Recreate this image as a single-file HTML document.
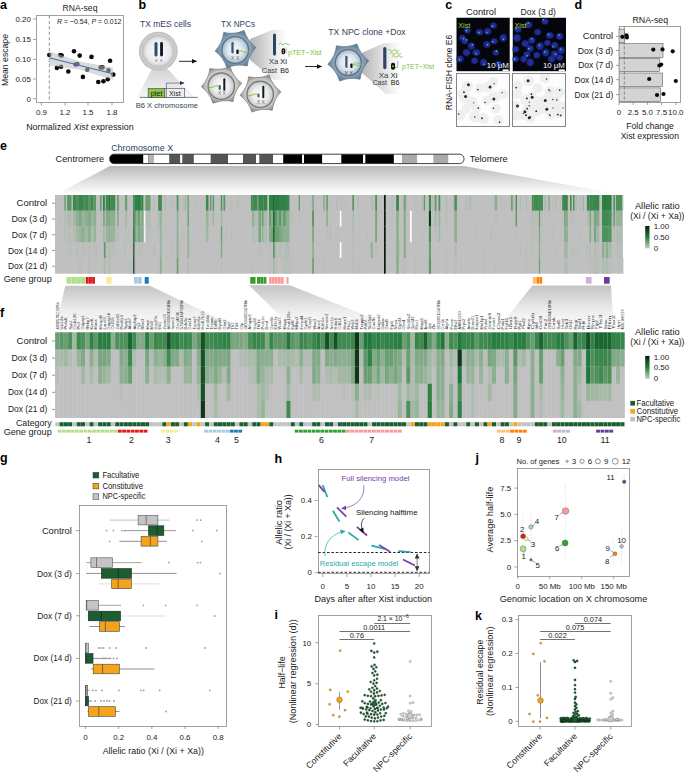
<!DOCTYPE html>
<html><head><meta charset="utf-8"><title>Figure</title>
<style>html,body{margin:0;padding:0;background:#fff;} svg{display:block;} text{font-family:"Liberation Sans", sans-serif;}</style>
</head><body>
<svg width="685" height="773" viewBox="0 0 685 773" font-family='"Liberation Sans", sans-serif'>
<rect width="685" height="773" fill="#fff"/>
<text x="0.0" y="8.9" font-size="12.5" fill="#000" font-weight="bold">a</text>
<text x="80.0" y="10.6" font-size="8.6" text-anchor="middle" fill="#1a1a1a">RNA-seq</text>
<rect x="36.50" y="15.50" width="87.00" height="87.00" fill="none" stroke="#8a8a8a" stroke-width="0.8"/>
<line x1="33.00" y1="19.00" x2="36.00" y2="19.00" stroke="#666" stroke-width="0.6"/>
<text x="30.8" y="21.8" font-size="7.9" text-anchor="end" fill="#1a1a1a">0.20</text>
<line x1="33.00" y1="39.50" x2="36.00" y2="39.50" stroke="#666" stroke-width="0.6"/>
<text x="30.8" y="42.3" font-size="7.9" text-anchor="end" fill="#1a1a1a">0.15</text>
<line x1="33.00" y1="59.40" x2="36.00" y2="59.40" stroke="#666" stroke-width="0.6"/>
<text x="30.8" y="62.2" font-size="7.9" text-anchor="end" fill="#1a1a1a">0.10</text>
<line x1="33.00" y1="79.00" x2="36.00" y2="79.00" stroke="#666" stroke-width="0.6"/>
<text x="30.8" y="81.8" font-size="7.9" text-anchor="end" fill="#1a1a1a">0.05</text>
<line x1="33.00" y1="98.70" x2="36.00" y2="98.70" stroke="#666" stroke-width="0.6"/>
<text x="30.8" y="101.5" font-size="7.9" text-anchor="end" fill="#1a1a1a">0</text>
<line x1="41.40" y1="102.50" x2="41.40" y2="105.50" stroke="#666" stroke-width="0.6"/>
<text x="41.4" y="114.6" font-size="7.9" text-anchor="middle" fill="#1a1a1a">0.9</text>
<line x1="65.00" y1="102.50" x2="65.00" y2="105.50" stroke="#666" stroke-width="0.6"/>
<text x="65.0" y="114.6" font-size="7.9" text-anchor="middle" fill="#1a1a1a">1.2</text>
<line x1="88.00" y1="102.50" x2="88.00" y2="105.50" stroke="#666" stroke-width="0.6"/>
<text x="88.0" y="114.6" font-size="7.9" text-anchor="middle" fill="#1a1a1a">1.5</text>
<line x1="112.00" y1="102.50" x2="112.00" y2="105.50" stroke="#666" stroke-width="0.6"/>
<text x="112.0" y="114.6" font-size="7.9" text-anchor="middle" fill="#1a1a1a">1.8</text>
<line x1="49.30" y1="15.50" x2="49.30" y2="102.30" stroke="#777" stroke-width="0.8" stroke-dasharray="3.2,2.2"/>
<circle cx="49.30" cy="55.00" r="2.30" fill="#0a0a0a"/>
<circle cx="56.90" cy="67.90" r="2.30" fill="#0a0a0a"/>
<circle cx="60.30" cy="55.00" r="2.30" fill="#0a0a0a"/>
<circle cx="61.70" cy="55.60" r="2.30" fill="#0a0a0a"/>
<circle cx="61.10" cy="66.80" r="2.30" fill="#0a0a0a"/>
<circle cx="68.30" cy="71.50" r="2.30" fill="#0a0a0a"/>
<circle cx="74.00" cy="51.20" r="2.30" fill="#0a0a0a"/>
<circle cx="79.70" cy="55.60" r="2.30" fill="#0a0a0a"/>
<circle cx="75.50" cy="64.50" r="2.30" fill="#0a0a0a"/>
<circle cx="77.40" cy="64.10" r="2.30" fill="#0a0a0a"/>
<circle cx="82.90" cy="76.90" r="2.30" fill="#0a0a0a"/>
<circle cx="87.30" cy="69.80" r="2.30" fill="#0a0a0a"/>
<circle cx="91.50" cy="56.90" r="2.30" fill="#0a0a0a"/>
<circle cx="98.30" cy="82.00" r="2.30" fill="#0a0a0a"/>
<circle cx="100.60" cy="67.40" r="2.30" fill="#0a0a0a"/>
<circle cx="102.50" cy="67.40" r="2.30" fill="#0a0a0a"/>
<circle cx="103.40" cy="81.20" r="2.30" fill="#0a0a0a"/>
<circle cx="107.80" cy="79.30" r="2.30" fill="#0a0a0a"/>
<circle cx="108.50" cy="70.20" r="2.30" fill="#0a0a0a"/>
<circle cx="110.10" cy="60.70" r="2.30" fill="#0a0a0a"/>
<circle cx="113.30" cy="74.60" r="2.30" fill="#0a0a0a"/>
<path d="M49.3,51.2 L80,61.5 L113,67.4 L113,79.7 L80,69.8 L49.3,65.5 Z" fill="#bdbdbd" opacity="0.55"/>
<line x1="49.30" y1="57.80" x2="113.00" y2="73.80" stroke="#3c64b4" stroke-width="1.0"/>
<text x="57" y="24" font-size="7.9" textLength="64.4" lengthAdjust="spacingAndGlyphs" fill="#1a1a1a"><tspan font-style="italic">R</tspan> = −0.54, <tspan font-style="italic">P</tspan> = 0.012</text>
<text x="7.6" y="60.0" font-size="8.8" text-anchor="middle" fill="#1a1a1a" textLength="52.0" lengthAdjust="spacingAndGlyphs" transform="rotate(-90 7.6 60.0)">Mean escape</text>
<text x="79.9" y="129.5" font-size="8.8" text-anchor="middle" textLength="107.4" lengthAdjust="spacingAndGlyphs" fill="#1a1a1a">Normalized <tspan font-style="italic">Xist</tspan> expression</text>
<defs>
<radialGradient id="gblue" cx="0.5" cy="0.5" r="0.5"><stop offset="0.55" stop-color="#a9bdcc"/><stop offset="0.8" stop-color="#7f98ae"/><stop offset="1" stop-color="#5f7d95"/></radialGradient>
<radialGradient id="nblue" cx="0.5" cy="0.5" r="0.5"><stop offset="0" stop-color="#f6f8fa"/><stop offset="0.6" stop-color="#dde6ed"/><stop offset="1" stop-color="#a4b7c6"/></radialGradient>
<radialGradient id="ggray" cx="0.5" cy="0.5" r="0.5"><stop offset="0.55" stop-color="#dcdcdc"/><stop offset="0.8" stop-color="#c2c2c2"/><stop offset="1" stop-color="#8e8e8e"/></radialGradient>
<radialGradient id="ngray" cx="0.5" cy="0.5" r="0.5"><stop offset="0" stop-color="#fcfcfc"/><stop offset="0.6" stop-color="#ececec"/><stop offset="1" stop-color="#c6c6c6"/></radialGradient>
<radialGradient id="mes" cx="0.5" cy="0.5" r="0.5"><stop offset="0" stop-color="#fafafa"/><stop offset="0.6" stop-color="#ebebeb"/><stop offset="0.8" stop-color="#c8c8c8"/><stop offset="0.86" stop-color="#cfcfcf"/><stop offset="1" stop-color="#bdbdbd"/></radialGradient>
<linearGradient id="fan" x1="0" y1="0" x2="0" y2="1"><stop offset="0" stop-color="#d0d0d0"/><stop offset="1" stop-color="#f6f6f6"/></linearGradient>
<linearGradient id="fanh" x1="0" y1="0" x2="1" y2="0"><stop offset="0" stop-color="#b4b4b4"/><stop offset="0.5" stop-color="#dedede"/><stop offset="0.85" stop-color="#f8f8f8"/><stop offset="1" stop-color="#ffffff"/></linearGradient>
<marker id="ah" markerWidth="6" markerHeight="6" refX="5" refY="3" orient="auto" markerUnits="userSpaceOnUse"><path d="M0,0.5 L5.5,3 L0,5.5 Z" fill="#111"/></marker>
<marker id="ah2" markerWidth="5" markerHeight="5" refX="4" refY="2.5" orient="auto" markerUnits="userSpaceOnUse"><path d="M0,0.5 L4.5,2.5 L0,4.5 Z" fill="#333"/></marker>
</defs>
<text x="138.5" y="9.2" font-size="12.5" fill="#000" font-weight="bold">b</text>
<text x="140.0" y="27.0" font-size="8.8" fill="#33425a" textLength="51.0" lengthAdjust="spacingAndGlyphs">TX mES cells</text>
<path d="M153.4,66 L137,97.4 L196,97.4 L185,88 L165,66 Z" fill="url(#fan)"/>
<circle cx="158.30" cy="51.20" r="19.40" fill="url(#mes)"/>
<circle cx="158.30" cy="51.20" r="15.80" fill="none" stroke="#bdbdbd" stroke-width="0.8"/>
<rect x="154.5" y="42" width="3" height="14.5" rx="1.5" fill="#2f4d66"/>
<rect x="160.1" y="42" width="2.9" height="14.5" rx="1.45" fill="#111b2e"/>
<text x="156.2" y="61.6" font-size="4.8" text-anchor="middle" fill="#667">x</text>
<text x="161.3" y="61.6" font-size="4.8" text-anchor="middle" fill="#667">x</text>
<line x1="139.90" y1="97.40" x2="197.80" y2="97.40" stroke="#3a4862" stroke-width="0.7"/>
<rect x="148.10" y="88.40" width="16.70" height="9.00" fill="#8cc63e" stroke="#3a4862" stroke-width="0.6"/>
<rect x="164.80" y="88.40" width="19.90" height="9.00" fill="#f0f0f0" stroke="#3a4862" stroke-width="0.6"/>
<text x="156.5" y="95.8" font-size="7.0" text-anchor="middle" fill="#1a1a1a">ptet</text>
<text x="174.8" y="95.8" font-size="7.0" text-anchor="middle" fill="#1a1a1a">Xist</text>
<path d="M166.4,97.4 L166.4,83.1 L184,83.1" fill="none" stroke="#3a4862" stroke-width="0.6" marker-end="url(#ah2)"/>
<text x="135.7" y="107.8" font-size="7.3" fill="#33425a" textLength="62.3" lengthAdjust="spacingAndGlyphs">B6 X chromosome</text>
<line x1="179.00" y1="61.30" x2="196.50" y2="61.30" stroke="#111" stroke-width="0.9" marker-end="url(#ah)"/>
<text x="221.0" y="27.0" font-size="8.8" fill="#33425a" textLength="34.0" lengthAdjust="spacingAndGlyphs">TX NPCs</text>
<path d="M250,39 L272,30 L288,30 L288,80 L274,80 L250,60 Z" fill="url(#fanh)"/>
<path d="M255.92,47.41 Q248.51,55.26 247.26,65.99 Q236.75,63.50 226.84,67.78 Q223.75,57.43 215.08,50.99 Q222.49,43.14 223.74,32.41 Q234.25,34.90 244.16,30.62 Q247.25,40.97 255.92,47.41Z" fill="url(#gblue)" stroke="#58758d" stroke-width="0.7"/>
<circle cx="235.20" cy="50.00" r="13.40" fill="url(#nblue)" stroke="#5a7288" stroke-width="1.4"/>
<rect x="231.35" y="42.10" width="2.3" height="11.40" rx="1.15" fill="#3d5a73"/>
<rect x="236.3" y="49.5" width="2.4" height="4.5" rx="1.1" fill="#111"/>
<path d="M238.5,51.5 q2,-1.5 4,0 t4,0.5 t3,0.8" fill="none" stroke="#7dc242" stroke-width="1.0"/>
<text x="232.6" y="59.9" font-size="4.8" text-anchor="middle" fill="#667">X</text>
<text x="237.6" y="59.9" font-size="4.8" text-anchor="middle" fill="#667">X</text>
<path d="M241.62,83.24 Q234.32,90.98 233.09,101.55 Q222.73,99.09 212.96,103.31 Q209.92,93.11 201.38,86.76 Q208.68,79.02 209.91,68.45 Q220.27,70.91 230.04,66.69 Q233.08,76.89 241.62,83.24Z" fill="url(#ggray)" stroke="#7a7a7a" stroke-width="0.7"/>
<circle cx="221.30" cy="86.20" r="13.20" fill="url(#ngray)" stroke="#7a7a7a" stroke-width="1.4"/>
<rect x="223.30" y="78.20" width="2.0" height="12.50" rx="1.0" fill="#111a2e"/>
<rect x="218.6" y="85.1" width="2.2" height="4.9" rx="1.1" fill="#3f6b6b"/>
<path d="M208.9,87.6 q2.5,0.5 4.5,-0.8 t5,-1" fill="none" stroke="#7dc242" stroke-width="1.0"/>
<text x="219.7" y="95.2" font-size="4.8" text-anchor="middle" fill="#667">X</text>
<text x="224.1" y="95.2" font-size="4.8" text-anchor="middle" fill="#667">X</text>
<path d="M280.92,91.71 Q273.51,99.56 272.26,110.29 Q261.75,107.80 251.84,112.08 Q248.75,101.73 240.08,95.29 Q247.49,87.44 248.74,76.71 Q259.25,79.20 269.16,74.92 Q272.25,85.27 280.92,91.71Z" fill="url(#ggray)" stroke="#7a7a7a" stroke-width="0.7"/>
<circle cx="260.20" cy="94.40" r="13.20" fill="url(#ngray)" stroke="#7a7a7a" stroke-width="1.4"/>
<rect x="262.30" y="85.80" width="2.0" height="12.50" rx="1.0" fill="#111a2e"/>
<rect x="257.4" y="93.4" width="2.2" height="4.2" rx="1.1" fill="#3f6b6b"/>
<path d="M247.7,95.8 q2.5,0.5 4.5,-0.8 t5,-1" fill="none" stroke="#7dc242" stroke-width="1.0"/>
<text x="258.5" y="103.6" font-size="4.8" text-anchor="middle" fill="#667">X</text>
<text x="263.2" y="103.6" font-size="4.8" text-anchor="middle" fill="#667">X</text>
<rect x="273.00" y="33.60" width="3.0" height="21.80" rx="1.5" fill="#2b4763"/>
<rect x="281.6" y="48.3" width="3.6" height="6" rx="1.6" fill="#111"/>
<circle cx="283.40" cy="50.50" r="0.80" fill="#7dc242"/>
<circle cx="283.40" cy="52.60" r="0.80" fill="#7dc242"/>
<path d="M279,44 q1.35,-1.8 2.7,0 t2.7,0 t2.7,0 t2.7,0" fill="none" stroke="#7dc242" stroke-width="0.9"/>
<line x1="286.20" y1="53.00" x2="286.20" y2="47.50" stroke="#444" stroke-width="0.4"/>
<text x="288.0" y="55.4" font-size="7.9" fill="#7dc242" textLength="33.6" lengthAdjust="spacingAndGlyphs">pTET−Xist</text>
<text x="273.5" y="64.4" font-size="7.9" text-anchor="middle" fill="#33425a">Xa</text>
<text x="283.4" y="64.4" font-size="7.9" text-anchor="middle" fill="#1a1a1a">Xi</text>
<text x="277.1" y="72.6" font-size="7.9" text-anchor="end" fill="#33425a" textLength="15.3" lengthAdjust="spacingAndGlyphs">Cast</text>
<text x="280.2" y="72.6" font-size="7.9" fill="#1a1a1a" textLength="8.7" lengthAdjust="spacingAndGlyphs">B6</text>
<line x1="305.10" y1="66.50" x2="321.60" y2="66.50" stroke="#111" stroke-width="0.9" marker-end="url(#ah)"/>
<text x="328.3" y="35.3" font-size="8.8" fill="#33425a" textLength="77.2" lengthAdjust="spacingAndGlyphs">TX NPC clone +Dox</text>
<path d="M362,53 L384,43 L402,43 L402,94 L386,94 L361,72 Z" fill="url(#fanh)"/>
<path d="M368.72,60.71 Q361.31,68.56 360.06,79.29 Q349.55,76.80 339.64,81.08 Q336.55,70.73 327.88,64.29 Q335.29,56.44 336.54,45.71 Q347.05,48.20 356.96,43.92 Q360.05,54.27 368.72,60.71Z" fill="url(#gblue)" stroke="#58758d" stroke-width="0.7"/>
<circle cx="348.30" cy="62.60" r="13.00" fill="url(#nblue)" stroke="#5a7288" stroke-width="1.4"/>
<rect x="345.25" y="55.70" width="2.3" height="12.30" rx="1.15" fill="#3d5a73"/>
<rect x="350.3" y="63.4" width="2.3" height="4.6" rx="1.1" fill="#111"/>
<path d="M352.5,65.5 q2,-1.5 4,-0.5 t4,0 t3,-0.3" fill="none" stroke="#7dc242" stroke-width="1.0"/>
<path d="M352.5,63.5 q2,-1.5 4,-0.5 t4,0" fill="none" stroke="#7dc242" stroke-width="0.8"/>
<text x="346.2" y="74.5" font-size="5.6" text-anchor="middle" fill="#556">X</text>
<text x="351.2" y="74.5" font-size="5.6" text-anchor="middle" fill="#556">X</text>
<rect x="383.20" y="47.00" width="3.2" height="22.20" rx="1.6" fill="#2b4763"/>
<rect x="391" y="62.8" width="4.1" height="7" rx="1.8" fill="#111"/>
<circle cx="393.00" cy="66.30" r="1.00" fill="#7dc242"/>
<path d="M388,50.5 q1.35,-1.8 2.7,0 t2.7,0 t2.7,0 t2.7,0" fill="none" stroke="#7dc242" stroke-width="0.9"/>
<path d="M390,53.5 q1.35,-1.8 2.7,0 t2.7,0 t2.7,0 t2.7,0" fill="none" stroke="#7dc242" stroke-width="0.9"/>
<path d="M392,56.5 q1.35,-1.8 2.7,0 t2.7,0 t2.7,0 t2.7,0" fill="none" stroke="#7dc242" stroke-width="0.9"/>
<path d="M395.1,67.4 L397.7,67.4 L397.7,60.8" fill="none" stroke="#555" stroke-width="0.45"/>
<text x="402.1" y="69.4" font-size="7.9" fill="#7dc242" textLength="32.1" lengthAdjust="spacingAndGlyphs">pTET−Xist</text>
<text x="383.6" y="78.0" font-size="7.9" text-anchor="middle" fill="#33425a">Xa</text>
<text x="393.9" y="78.0" font-size="7.9" text-anchor="middle" fill="#1a1a1a">Xi</text>
<text x="387.1" y="85.4" font-size="7.9" text-anchor="end" fill="#33425a" textLength="14.7" lengthAdjust="spacingAndGlyphs">Cast</text>
<text x="390.8" y="85.4" font-size="7.9" fill="#1a1a1a" textLength="8.7" lengthAdjust="spacingAndGlyphs">B6</text>
<defs>
<radialGradient id="nuc" cx="0.5" cy="0.5" r="0.5"><stop offset="0" stop-color="#2630a0"/><stop offset="0.7" stop-color="#1e2890"/><stop offset="1" stop-color="#121a60" stop-opacity="0.4"/></radialGradient>
<radialGradient id="gdot" cx="0.5" cy="0.5" r="0.5"><stop offset="0" stop-color="#7dffb0"/><stop offset="1" stop-color="#30c080" stop-opacity="0"/></radialGradient>
<radialGradient id="cellg" cx="0.5" cy="0.5" r="0.5"><stop offset="0" stop-color="#ececec"/><stop offset="1" stop-color="#f4f4f4" stop-opacity="0.3"/></radialGradient>
<clipPath id="c1"><rect x="456.3" y="17.5" width="53.5" height="53.9"/></clipPath>
<clipPath id="c2"><rect x="512.5" y="17.5" width="53.6" height="53.9"/></clipPath>
<clipPath id="c3"><rect x="456.5" y="73.5" width="53" height="53"/></clipPath>
<clipPath id="c4"><rect x="512.5" y="73.5" width="53" height="53"/></clipPath>
</defs>
<text x="445.3" y="9.2" font-size="12.5" fill="#000" font-weight="bold">c</text>
<text x="481.0" y="15.0" font-size="8.8" text-anchor="middle" fill="#1a1a1a" textLength="30.0" lengthAdjust="spacingAndGlyphs">Control</text>
<text x="538.2" y="15.0" font-size="8.8" text-anchor="middle" fill="#1a1a1a" textLength="35.3" lengthAdjust="spacingAndGlyphs">Dox (3 d)</text>
<text x="452.3" y="72.5" font-size="8.8" text-anchor="middle" fill="#1a1a1a" textLength="75.5" lengthAdjust="spacingAndGlyphs" transform="rotate(-90 452.3 72.5)">RNA-FISH clone E6</text>
<g clip-path="url(#c1)">
<rect x="456.30" y="17.50" width="53.60" height="53.90" fill="#05060c"/>
<ellipse cx="493.4" cy="25.6" rx="3.9" ry="3.5" fill="url(#nuc)"/>
<ellipse cx="479.5" cy="32.2" rx="4.2" ry="3.6" fill="url(#nuc)"/>
<ellipse cx="487.7" cy="31.4" rx="4.1" ry="3.8" fill="url(#nuc)"/>
<ellipse cx="467.3" cy="30.5" rx="3.7" ry="3.6" fill="url(#nuc)"/>
<ellipse cx="462.4" cy="37.9" rx="3.7" ry="3.5" fill="url(#nuc)"/>
<ellipse cx="464.8" cy="41.2" rx="3.7" ry="3.3" fill="url(#nuc)"/>
<ellipse cx="471.4" cy="46.1" rx="4.0" ry="4.1" fill="url(#nuc)"/>
<ellipse cx="494.2" cy="41.2" rx="3.8" ry="3.4" fill="url(#nuc)"/>
<ellipse cx="503.2" cy="37.9" rx="4.1" ry="4.3" fill="url(#nuc)"/>
<ellipse cx="486.9" cy="44.4" rx="4.1" ry="3.8" fill="url(#nuc)"/>
<ellipse cx="476.3" cy="52.6" rx="4.4" ry="3.8" fill="url(#nuc)"/>
<ellipse cx="466.4" cy="52.6" rx="4.3" ry="3.9" fill="url(#nuc)"/>
<ellipse cx="495.9" cy="52.6" rx="3.8" ry="3.3" fill="url(#nuc)"/>
<ellipse cx="483.6" cy="62.4" rx="3.9" ry="4.0" fill="url(#nuc)"/>
<ellipse cx="474.6" cy="60.8" rx="3.8" ry="3.7" fill="url(#nuc)"/>
<ellipse cx="459.9" cy="59.1" rx="4.1" ry="3.8" fill="url(#nuc)"/>
<ellipse cx="498.3" cy="64.1" rx="4.1" ry="3.5" fill="url(#nuc)"/>
<circle cx="492.34" cy="26.25" r="0.80" fill="#3fe0a0"/>
<circle cx="478.83" cy="32.51" r="0.80" fill="#3fe0a0"/>
<circle cx="486.98" cy="32.46" r="0.80" fill="#3fe0a0"/>
<circle cx="466.38" cy="30.77" r="0.80" fill="#3fe0a0"/>
<circle cx="463.75" cy="38.73" r="0.80" fill="#3fe0a0"/>
<circle cx="466.53" cy="39.83" r="0.80" fill="#3fe0a0"/>
<circle cx="472.33" cy="44.85" r="0.80" fill="#3fe0a0"/>
<circle cx="492.54" cy="41.81" r="0.80" fill="#3fe0a0"/>
<circle cx="503.46" cy="39.25" r="0.80" fill="#3fe0a0"/>
<circle cx="487.60" cy="44.74" r="0.80" fill="#3fe0a0"/>
<circle cx="476.14" cy="53.82" r="0.80" fill="#3fe0a0"/>
<circle cx="496.49" cy="51.02" r="0.80" fill="#3fe0a0"/>
<circle cx="484.13" cy="64.18" r="0.80" fill="#3fe0a0"/>
<circle cx="459.49" cy="59.71" r="0.80" fill="#3fe0a0"/>
<circle cx="498.16" cy="62.90" r="0.80" fill="#3fe0a0"/>
</g>
<text x="458.3" y="27.6" font-size="7.2" fill="#a8d238">Xist</text>
<text x="486.8" y="67.6" font-size="7.8" fill="#fff">10 μM</text>
<rect x="502.60" y="69.40" width="6.00" height="1.70" fill="#fff"/>
<g clip-path="url(#c2)">
<rect x="512.50" y="17.50" width="53.60" height="53.90" fill="#05060c"/>
<ellipse cx="518.0" cy="29.7" rx="3.8" ry="3.3" fill="url(#nuc)"/>
<ellipse cx="528.6" cy="24.8" rx="4.2" ry="3.7" fill="url(#nuc)"/>
<ellipse cx="537.6" cy="32.2" rx="3.9" ry="3.6" fill="url(#nuc)"/>
<ellipse cx="549.8" cy="35.4" rx="4.3" ry="3.7" fill="url(#nuc)"/>
<ellipse cx="559.6" cy="36.3" rx="4.0" ry="3.9" fill="url(#nuc)"/>
<ellipse cx="517.1" cy="37.9" rx="4.3" ry="4.4" fill="url(#nuc)"/>
<ellipse cx="525.3" cy="43.6" rx="4.3" ry="3.9" fill="url(#nuc)"/>
<ellipse cx="531.8" cy="40.3" rx="4.0" ry="3.7" fill="url(#nuc)"/>
<ellipse cx="540.0" cy="46.1" rx="4.3" ry="4.5" fill="url(#nuc)"/>
<ellipse cx="547.4" cy="42.8" rx="3.8" ry="3.4" fill="url(#nuc)"/>
<ellipse cx="554.7" cy="45.2" rx="3.9" ry="3.5" fill="url(#nuc)"/>
<ellipse cx="530.2" cy="48.5" rx="4.0" ry="3.9" fill="url(#nuc)"/>
<ellipse cx="526.9" cy="54.2" rx="3.9" ry="3.3" fill="url(#nuc)"/>
<ellipse cx="536.8" cy="55.1" rx="4.0" ry="3.7" fill="url(#nuc)"/>
<ellipse cx="545.8" cy="52.6" rx="4.1" ry="4.3" fill="url(#nuc)"/>
<ellipse cx="554.7" cy="54.2" rx="4.2" ry="4.0" fill="url(#nuc)"/>
<ellipse cx="561.3" cy="50.2" rx="4.1" ry="4.1" fill="url(#nuc)"/>
<ellipse cx="523.7" cy="59.1" rx="3.7" ry="3.8" fill="url(#nuc)"/>
<ellipse cx="530.2" cy="62.4" rx="4.2" ry="4.4" fill="url(#nuc)"/>
<ellipse cx="551.5" cy="59.1" rx="4.3" ry="4.0" fill="url(#nuc)"/>
<ellipse cx="559.6" cy="57.5" rx="4.0" ry="3.5" fill="url(#nuc)"/>
<ellipse cx="515.5" cy="49.3" rx="4.1" ry="3.6" fill="url(#nuc)"/>
<ellipse cx="515.5" cy="59.1" rx="3.7" ry="3.3" fill="url(#nuc)"/>
<ellipse cx="544.9" cy="21.5" rx="3.8" ry="3.5" fill="url(#nuc)"/>
<circle cx="516.20" cy="28.44" r="0.80" fill="#3fe0a0"/>
<circle cx="528.11" cy="23.09" r="0.80" fill="#3fe0a0"/>
<circle cx="548.53" cy="34.51" r="0.80" fill="#3fe0a0"/>
<circle cx="559.11" cy="34.94" r="0.80" fill="#3fe0a0"/>
<circle cx="531.74" cy="38.81" r="0.80" fill="#3fe0a0"/>
<circle cx="539.43" cy="45.25" r="0.80" fill="#3fe0a0"/>
<circle cx="552.98" cy="46.82" r="0.80" fill="#3fe0a0"/>
<circle cx="528.93" cy="48.66" r="0.80" fill="#3fe0a0"/>
<circle cx="527.00" cy="55.92" r="0.80" fill="#3fe0a0"/>
<circle cx="544.94" cy="52.12" r="0.80" fill="#3fe0a0"/>
<circle cx="555.68" cy="54.32" r="0.80" fill="#3fe0a0"/>
<circle cx="560.69" cy="49.20" r="0.80" fill="#3fe0a0"/>
<circle cx="514.52" cy="59.16" r="0.80" fill="#3fe0a0"/>
<circle cx="543.20" cy="19.80" r="0.80" fill="#3fe0a0"/>
</g>
<text x="514.5" y="27.6" font-size="7.2" fill="#a8d238">Xist</text>
<text x="543.0" y="67.6" font-size="7.8" fill="#fff">10 μM</text>
<rect x="558.80" y="69.40" width="6.00" height="1.70" fill="#fff"/>
<g clip-path="url(#c3)">
<rect x="456.50" y="73.50" width="53.00" height="53.00" fill="#fdfdfd"/>
<circle cx="493.40" cy="81.60" r="4.86" fill="#efefef"/>
<circle cx="479.50" cy="88.20" r="4.84" fill="#efefef"/>
<circle cx="487.70" cy="87.40" r="5.40" fill="#efefef"/>
<circle cx="467.30" cy="86.50" r="5.74" fill="#efefef"/>
<circle cx="462.40" cy="93.90" r="5.08" fill="#efefef"/>
<circle cx="464.80" cy="97.20" r="5.72" fill="#efefef"/>
<circle cx="471.40" cy="102.10" r="5.78" fill="#efefef"/>
<circle cx="494.20" cy="97.20" r="5.74" fill="#efefef"/>
<circle cx="503.20" cy="93.90" r="4.97" fill="#efefef"/>
<circle cx="486.90" cy="100.40" r="4.79" fill="#efefef"/>
<circle cx="476.30" cy="108.60" r="4.79" fill="#efefef"/>
<circle cx="466.40" cy="108.60" r="4.76" fill="#efefef"/>
<circle cx="495.90" cy="108.60" r="4.77" fill="#efefef"/>
<circle cx="483.60" cy="118.40" r="5.31" fill="#efefef"/>
<circle cx="474.60" cy="116.80" r="5.67" fill="#efefef"/>
<circle cx="459.90" cy="115.10" r="5.59" fill="#efefef"/>
<circle cx="498.30" cy="120.10" r="5.12" fill="#efefef"/>
<circle cx="494.20" cy="83.65" r="0.63" fill="#2a2a2a"/>
<circle cx="477.89" cy="89.65" r="0.79" fill="#2a2a2a"/>
<circle cx="490.06" cy="86.88" r="1.50" fill="#2a2a2a"/>
<circle cx="468.42" cy="84.85" r="1.50" fill="#2a2a2a"/>
<circle cx="463.93" cy="92.13" r="0.96" fill="#2a2a2a"/>
<circle cx="465.59" cy="96.45" r="1.50" fill="#2a2a2a"/>
<circle cx="473.75" cy="102.85" r="0.61" fill="#2a2a2a"/>
<circle cx="493.87" cy="99.06" r="1.50" fill="#2a2a2a"/>
<circle cx="502.16" cy="92.60" r="0.70" fill="#2a2a2a"/>
<circle cx="485.06" cy="102.45" r="0.77" fill="#2a2a2a"/>
<circle cx="478.32" cy="108.20" r="0.83" fill="#2a2a2a"/>
<circle cx="493.49" cy="108.30" r="0.81" fill="#2a2a2a"/>
<circle cx="481.96" cy="118.27" r="0.92" fill="#2a2a2a"/>
<circle cx="474.69" cy="117.08" r="0.73" fill="#2a2a2a"/>
<circle cx="458.64" cy="113.98" r="0.82" fill="#2a2a2a"/>
<circle cx="499.60" cy="122.16" r="0.82" fill="#2a2a2a"/>
</g>
<rect x="456.50" y="73.50" width="53.00" height="53.00" fill="none" stroke="#7a7a7a" stroke-width="0.9"/>
<g clip-path="url(#c4)">
<rect x="512.50" y="73.50" width="53.00" height="53.00" fill="#fdfdfd"/>
<circle cx="518.00" cy="85.70" r="5.08" fill="#efefef"/>
<circle cx="528.60" cy="80.80" r="5.30" fill="#efefef"/>
<circle cx="537.60" cy="88.20" r="5.16" fill="#efefef"/>
<circle cx="549.80" cy="91.40" r="5.17" fill="#efefef"/>
<circle cx="559.60" cy="92.30" r="5.40" fill="#efefef"/>
<circle cx="517.10" cy="93.90" r="5.09" fill="#efefef"/>
<circle cx="525.30" cy="99.60" r="5.19" fill="#efefef"/>
<circle cx="531.80" cy="96.30" r="5.12" fill="#efefef"/>
<circle cx="540.00" cy="102.10" r="5.72" fill="#efefef"/>
<circle cx="547.40" cy="98.80" r="5.41" fill="#efefef"/>
<circle cx="554.70" cy="101.20" r="5.64" fill="#efefef"/>
<circle cx="530.20" cy="104.50" r="5.72" fill="#efefef"/>
<circle cx="526.90" cy="110.20" r="4.84" fill="#efefef"/>
<circle cx="536.80" cy="111.10" r="5.23" fill="#efefef"/>
<circle cx="545.80" cy="108.60" r="5.73" fill="#efefef"/>
<circle cx="554.70" cy="110.20" r="5.59" fill="#efefef"/>
<circle cx="561.30" cy="106.20" r="4.68" fill="#efefef"/>
<circle cx="523.70" cy="115.10" r="4.66" fill="#efefef"/>
<circle cx="530.20" cy="118.40" r="5.07" fill="#efefef"/>
<circle cx="551.50" cy="115.10" r="4.59" fill="#efefef"/>
<circle cx="559.60" cy="113.50" r="4.81" fill="#efefef"/>
<circle cx="515.50" cy="105.30" r="4.60" fill="#efefef"/>
<circle cx="515.50" cy="115.10" r="5.37" fill="#efefef"/>
<circle cx="544.90" cy="77.50" r="5.52" fill="#efefef"/>
<circle cx="516.21" cy="87.61" r="0.86" fill="#2a2a2a"/>
<circle cx="528.09" cy="80.74" r="1.50" fill="#2a2a2a"/>
<circle cx="549.00" cy="89.88" r="0.81" fill="#2a2a2a"/>
<circle cx="550.07" cy="91.10" r="0.61" fill="#2a2a2a"/>
<circle cx="559.66" cy="90.12" r="0.85" fill="#2a2a2a"/>
<circle cx="526.69" cy="98.45" r="0.62" fill="#2a2a2a"/>
<circle cx="526.89" cy="98.39" r="0.96" fill="#2a2a2a"/>
<circle cx="532.15" cy="97.30" r="1.50" fill="#2a2a2a"/>
<circle cx="531.43" cy="94.16" r="0.88" fill="#2a2a2a"/>
<circle cx="545.23" cy="100.61" r="1.50" fill="#2a2a2a"/>
<circle cx="556.83" cy="100.04" r="0.82" fill="#2a2a2a"/>
<circle cx="552.75" cy="99.51" r="0.70" fill="#2a2a2a"/>
<circle cx="529.23" cy="105.80" r="0.72" fill="#2a2a2a"/>
<circle cx="529.44" cy="102.09" r="0.67" fill="#2a2a2a"/>
<circle cx="527.16" cy="108.65" r="0.89" fill="#2a2a2a"/>
<circle cx="524.93" cy="111.79" r="1.50" fill="#2a2a2a"/>
<circle cx="536.27" cy="111.13" r="0.93" fill="#2a2a2a"/>
<circle cx="546.83" cy="109.28" r="1.50" fill="#2a2a2a"/>
<circle cx="552.85" cy="108.05" r="0.62" fill="#2a2a2a"/>
<circle cx="563.01" cy="108.05" r="0.63" fill="#2a2a2a"/>
<circle cx="523.50" cy="113.39" r="0.72" fill="#2a2a2a"/>
<circle cx="526.06" cy="115.34" r="0.98" fill="#2a2a2a"/>
<circle cx="529.25" cy="117.68" r="1.50" fill="#2a2a2a"/>
<circle cx="530.21" cy="116.90" r="0.79" fill="#2a2a2a"/>
<circle cx="549.45" cy="114.60" r="0.71" fill="#2a2a2a"/>
<circle cx="550.16" cy="115.53" r="0.72" fill="#2a2a2a"/>
<circle cx="560.68" cy="115.40" r="0.86" fill="#2a2a2a"/>
<circle cx="557.85" cy="114.62" r="0.99" fill="#2a2a2a"/>
<circle cx="517.46" cy="105.94" r="1.50" fill="#2a2a2a"/>
<circle cx="546.57" cy="79.02" r="0.80" fill="#2a2a2a"/>
</g>
<rect x="512.50" y="73.50" width="53.00" height="53.00" fill="none" stroke="#7a7a7a" stroke-width="0.9"/>
<text x="574.4" y="9.2" font-size="12.5" fill="#000" font-weight="bold">d</text>
<text x="650.3" y="23.0" font-size="8.8" text-anchor="middle" fill="#1a1a1a" textLength="35.7" lengthAdjust="spacingAndGlyphs">RNA-seq</text>
<rect x="619.50" y="26.50" width="61.00" height="76.00" fill="none" stroke="#8a8a8a" stroke-width="0.8"/>
<rect x="619.00" y="29.10" width="5.70" height="13.50" fill="#d4d4d4" stroke="#444" stroke-width="0.5"/>
<line x1="616.00" y1="36.40" x2="619.00" y2="36.40" stroke="#666" stroke-width="0.6"/>
<text x="613.2" y="39.4" font-size="8.8" text-anchor="end" fill="#1a1a1a" textLength="30.4" lengthAdjust="spacingAndGlyphs">Control</text>
<rect x="619.00" y="43.70" width="44.00" height="13.80" fill="#d4d4d4" stroke="#444" stroke-width="0.5"/>
<line x1="616.00" y1="50.50" x2="619.00" y2="50.50" stroke="#666" stroke-width="0.6"/>
<text x="613.2" y="53.5" font-size="8.8" text-anchor="end" fill="#1a1a1a" textLength="35.4" lengthAdjust="spacingAndGlyphs">Dox (3 d)</text>
<rect x="619.00" y="58.40" width="40.40" height="13.30" fill="#d4d4d4" stroke="#444" stroke-width="0.5"/>
<line x1="616.00" y1="65.40" x2="619.00" y2="65.40" stroke="#666" stroke-width="0.6"/>
<text x="613.2" y="68.4" font-size="8.8" text-anchor="end" fill="#1a1a1a" textLength="35.0" lengthAdjust="spacingAndGlyphs">Dox (7 d)</text>
<rect x="619.00" y="73.00" width="43.50" height="13.60" fill="#d4d4d4" stroke="#444" stroke-width="0.5"/>
<line x1="616.00" y1="79.70" x2="619.00" y2="79.70" stroke="#666" stroke-width="0.6"/>
<text x="613.2" y="82.7" font-size="8.8" text-anchor="end" fill="#1a1a1a" textLength="38.8" lengthAdjust="spacingAndGlyphs">Dox (14 d)</text>
<rect x="619.00" y="87.90" width="41.50" height="13.60" fill="#d4d4d4" stroke="#444" stroke-width="0.5"/>
<line x1="616.00" y1="94.60" x2="619.00" y2="94.60" stroke="#666" stroke-width="0.6"/>
<text x="613.2" y="97.6" font-size="8.8" text-anchor="end" fill="#1a1a1a" textLength="38.8" lengthAdjust="spacingAndGlyphs">Dox (21 d)</text>
<line x1="624.30" y1="26.50" x2="624.30" y2="102.00" stroke="#666" stroke-width="0.7" stroke-dasharray="3,2"/>
<circle cx="622.30" cy="36.80" r="2.10" fill="#0a0a0a"/>
<circle cx="626.50" cy="35.30" r="2.10" fill="#0a0a0a"/>
<circle cx="626.90" cy="37.40" r="2.10" fill="#0a0a0a"/>
<circle cx="653.30" cy="49.60" r="2.10" fill="#0a0a0a"/>
<circle cx="662.50" cy="49.40" r="2.10" fill="#0a0a0a"/>
<circle cx="672.70" cy="51.30" r="2.10" fill="#0a0a0a"/>
<circle cx="659.40" cy="65.50" r="2.10" fill="#0a0a0a"/>
<circle cx="661.20" cy="64.60" r="2.10" fill="#0a0a0a"/>
<circle cx="649.20" cy="79.00" r="2.10" fill="#0a0a0a"/>
<circle cx="675.80" cy="81.00" r="2.10" fill="#0a0a0a"/>
<circle cx="657.00" cy="95.00" r="2.10" fill="#0a0a0a"/>
<circle cx="663.50" cy="94.00" r="2.10" fill="#0a0a0a"/>
<line x1="619.00" y1="102.20" x2="619.00" y2="105.00" stroke="#666" stroke-width="0.6"/>
<text x="619.0" y="115.0" font-size="7.9" text-anchor="middle" fill="#1a1a1a">0</text>
<line x1="633.20" y1="102.20" x2="633.20" y2="105.00" stroke="#666" stroke-width="0.6"/>
<text x="633.2" y="115.0" font-size="7.9" text-anchor="middle" fill="#1a1a1a">2.5</text>
<line x1="647.40" y1="102.20" x2="647.40" y2="105.00" stroke="#666" stroke-width="0.6"/>
<text x="647.4" y="115.0" font-size="7.9" text-anchor="middle" fill="#1a1a1a">5.0</text>
<line x1="661.60" y1="102.20" x2="661.60" y2="105.00" stroke="#666" stroke-width="0.6"/>
<text x="661.6" y="115.0" font-size="7.9" text-anchor="middle" fill="#1a1a1a">7.5</text>
<line x1="675.80" y1="102.20" x2="675.80" y2="105.00" stroke="#666" stroke-width="0.6"/>
<text x="675.8" y="115.0" font-size="7.9" text-anchor="middle" fill="#1a1a1a">10.0</text>
<text x="650.0" y="129.0" font-size="8.8" text-anchor="middle" fill="#1a1a1a" textLength="47.5" lengthAdjust="spacingAndGlyphs">Fold change</text>
<text x="649.8" y="139.0" font-size="8.8" text-anchor="middle" fill="#1a1a1a" textLength="58.3" lengthAdjust="spacingAndGlyphs">Xist expression</text>
<defs>
<linearGradient id="trapE" x1="0" y1="0" x2="0" y2="1"><stop offset="0" stop-color="#b9b9b9"/><stop offset="0.6" stop-color="#e6e6e6"/><stop offset="1" stop-color="#ffffff"/></linearGradient>
<linearGradient id="trapF" x1="0" y1="0" x2="0" y2="1"><stop offset="0" stop-color="#c4c4c4"/><stop offset="0.55" stop-color="#ececec"/><stop offset="1" stop-color="#ffffff"/></linearGradient>
<linearGradient id="cbar" x1="0" y1="1" x2="0" y2="0"><stop offset="0" stop-color="#c8c8c8"/><stop offset="0.25" stop-color="#78a67e"/><stop offset="0.5" stop-color="#1f7d3c"/><stop offset="0.75" stop-color="#17502a"/><stop offset="1" stop-color="#0a150d"/></linearGradient>
</defs>
<text x="0.0" y="150.2" font-size="12.5" fill="#000" font-weight="bold">e</text>
<text x="111.2" y="150.8" font-size="8.8" fill="#2c3e5c" textLength="61.9" lengthAdjust="spacingAndGlyphs">Chromosome X</text>
<text x="104.2" y="162.0" font-size="8.8" text-anchor="end" fill="#1a1a1a" textLength="48.6" lengthAdjust="spacingAndGlyphs">Centromere</text>
<text x="469.8" y="162.0" font-size="8.8" fill="#1a1a1a" textLength="37.8" lengthAdjust="spacingAndGlyphs">Telomere</text>
<path d="M110,166 L464,166 L623,195 L55,195 Z" fill="url(#trapE)"/>
<clipPath id="chr"><rect x="109.6" y="154.2" width="354.4" height="9.4" rx="4.5"/></clipPath>
<g clip-path="url(#chr)">
<rect x="109.60" y="154.20" width="40.00" height="9.40" fill="#000"/>
<rect x="143.20" y="154.20" width="5.00" height="9.40" fill="#fff"/>
<rect x="148.20" y="154.20" width="5.80" height="9.40" fill="#b4b4b4"/>
<rect x="154.00" y="154.20" width="15.20" height="9.40" fill="#fff"/>
<rect x="169.20" y="154.20" width="11.10" height="9.40" fill="#555"/>
<rect x="180.30" y="154.20" width="2.00" height="9.40" fill="#fff"/>
<rect x="182.30" y="154.20" width="11.60" height="9.40" fill="#555"/>
<rect x="193.90" y="154.20" width="16.80" height="9.40" fill="#fff"/>
<rect x="210.70" y="154.20" width="17.30" height="9.40" fill="#555"/>
<rect x="228.00" y="154.20" width="15.00" height="9.40" fill="#fff"/>
<rect x="243.00" y="154.20" width="13.00" height="9.40" fill="#555"/>
<rect x="256.00" y="154.20" width="3.30" height="9.40" fill="#fff"/>
<rect x="259.30" y="154.20" width="13.70" height="9.40" fill="#555"/>
<rect x="273.00" y="154.20" width="10.20" height="9.40" fill="#fff"/>
<rect x="283.20" y="154.20" width="19.00" height="9.40" fill="#000"/>
<rect x="302.20" y="154.20" width="1.80" height="9.40" fill="#fff"/>
<rect x="304.00" y="154.20" width="18.30" height="9.40" fill="#000"/>
<rect x="322.30" y="154.20" width="19.00" height="9.40" fill="#fff"/>
<rect x="341.30" y="154.20" width="21.90" height="9.40" fill="#000"/>
<rect x="363.20" y="154.20" width="2.10" height="9.40" fill="#fff"/>
<rect x="365.30" y="154.20" width="28.60" height="9.40" fill="#000"/>
<rect x="393.90" y="154.20" width="8.10" height="9.40" fill="#fff"/>
<rect x="402.00" y="154.20" width="15.20" height="9.40" fill="#aaa"/>
<rect x="417.20" y="154.20" width="16.10" height="9.40" fill="#fff"/>
<rect x="433.30" y="154.20" width="15.20" height="9.40" fill="#aaa"/>
<rect x="448.50" y="154.20" width="15.50" height="9.40" fill="#fff"/>
</g>
<rect x="109.6" y="154.2" width="354.4" height="9.4" rx="4.5" fill="none" stroke="#111" stroke-width="0.8"/>
<rect x="55.00" y="195.00" width="568.00" height="78.70" fill="#c0c0c0"/>
<rect x="55.00" y="195.00" width="1.13" height="15.74" fill="#b4bdb5"/>
<rect x="60.45" y="210.74" width="0.89" height="15.74" fill="#b7beb8"/>
<rect x="63.90" y="195.00" width="2.19" height="15.74" fill="#babeba"/>
<rect x="63.90" y="226.48" width="2.19" height="15.74" fill="#b7beb8"/>
<rect x="69.38" y="210.74" width="2.01" height="15.74" fill="#bcbfbc"/>
<rect x="69.38" y="242.22" width="2.01" height="15.74" fill="#b7beb8"/>
<rect x="74.64" y="226.48" width="0.82" height="15.74" fill="#b7beb8"/>
<rect x="78.31" y="242.22" width="0.84" height="15.74" fill="#bcbfbc"/>
<rect x="83.87" y="195.00" width="2.09" height="15.74" fill="#babeba"/>
<rect x="83.87" y="210.74" width="2.09" height="15.74" fill="#bcbfbc"/>
<rect x="83.87" y="226.48" width="2.09" height="15.74" fill="#b7beb8"/>
<rect x="95.26" y="195.00" width="2.15" height="15.74" fill="#babeba"/>
<rect x="95.26" y="210.74" width="2.15" height="15.74" fill="#b7beb8"/>
<rect x="95.26" y="226.48" width="2.15" height="15.74" fill="#bcbfbc"/>
<rect x="95.26" y="242.22" width="2.15" height="15.74" fill="#b7beb8"/>
<rect x="100.81" y="195.00" width="1.97" height="15.74" fill="#b4bdb5"/>
<rect x="106.91" y="195.00" width="2.07" height="15.74" fill="#aebbaf"/>
<rect x="106.91" y="226.48" width="2.07" height="15.74" fill="#b7beb8"/>
<rect x="119.23" y="195.00" width="1.10" height="15.74" fill="#b4bdb5"/>
<rect x="124.00" y="195.00" width="1.69" height="15.74" fill="#babeba"/>
<rect x="124.00" y="242.22" width="1.69" height="15.74" fill="#b7beb8"/>
<rect x="129.04" y="226.48" width="1.01" height="15.74" fill="#b7beb8"/>
<rect x="129.04" y="257.96" width="1.01" height="15.74" fill="#b7beb8"/>
<rect x="132.08" y="226.48" width="1.65" height="15.74" fill="#bcbfbc"/>
<rect x="141.33" y="195.00" width="0.95" height="15.74" fill="#b4bdb5"/>
<rect x="146.53" y="210.74" width="1.02" height="15.74" fill="#b7beb8"/>
<rect x="153.36" y="195.00" width="2.06" height="15.74" fill="#babeba"/>
<rect x="153.36" y="242.22" width="2.06" height="15.74" fill="#b7beb8"/>
<rect x="158.66" y="195.00" width="2.01" height="15.74" fill="#aebbaf"/>
<rect x="158.66" y="257.96" width="2.01" height="15.74" fill="#b7beb8"/>
<rect x="164.45" y="195.00" width="1.40" height="15.74" fill="#aebbaf"/>
<rect x="164.45" y="210.74" width="1.40" height="15.74" fill="#bcbfbc"/>
<rect x="171.76" y="195.00" width="1.53" height="15.74" fill="#b4bdb5"/>
<rect x="171.76" y="242.22" width="1.53" height="15.74" fill="#b7beb8"/>
<rect x="179.23" y="195.00" width="1.24" height="15.74" fill="#babeba"/>
<rect x="179.23" y="242.22" width="1.24" height="15.74" fill="#bcbfbc"/>
<rect x="182.24" y="195.00" width="1.68" height="15.74" fill="#babeba"/>
<rect x="182.24" y="226.48" width="1.68" height="15.74" fill="#bcbfbc"/>
<rect x="188.60" y="242.22" width="1.83" height="15.74" fill="#bcbfbc"/>
<rect x="196.27" y="195.00" width="1.15" height="15.74" fill="#babeba"/>
<rect x="199.72" y="210.74" width="1.06" height="15.74" fill="#b7beb8"/>
<rect x="205.82" y="226.48" width="0.95" height="15.74" fill="#bcbfbc"/>
<rect x="205.82" y="242.22" width="0.95" height="15.74" fill="#bcbfbc"/>
<rect x="209.66" y="257.96" width="1.11" height="15.74" fill="#bcbfbc"/>
<rect x="214.23" y="257.96" width="1.78" height="15.74" fill="#bcbfbc"/>
<rect x="221.26" y="242.22" width="1.41" height="15.74" fill="#bcbfbc"/>
<rect x="221.26" y="257.96" width="1.41" height="15.74" fill="#bcbfbc"/>
<rect x="225.16" y="226.48" width="1.60" height="15.74" fill="#b7beb8"/>
<rect x="230.64" y="195.00" width="1.07" height="15.74" fill="#b4bdb5"/>
<rect x="230.64" y="226.48" width="1.07" height="15.74" fill="#b7beb8"/>
<rect x="236.83" y="195.00" width="1.70" height="15.74" fill="#b4bdb5"/>
<rect x="241.35" y="242.22" width="1.91" height="15.74" fill="#bcbfbc"/>
<rect x="251.31" y="195.00" width="1.97" height="15.74" fill="#b4bdb5"/>
<rect x="251.31" y="257.96" width="1.97" height="15.74" fill="#bcbfbc"/>
<rect x="255.77" y="195.00" width="1.84" height="15.74" fill="#aebbaf"/>
<rect x="255.77" y="210.74" width="1.84" height="15.74" fill="#bcbfbc"/>
<rect x="260.65" y="210.74" width="1.12" height="15.74" fill="#b7beb8"/>
<rect x="266.92" y="195.00" width="0.86" height="15.74" fill="#aebbaf"/>
<rect x="275.46" y="195.00" width="1.53" height="15.74" fill="#babeba"/>
<rect x="279.06" y="195.00" width="2.16" height="15.74" fill="#b4bdb5"/>
<rect x="279.06" y="226.48" width="2.16" height="15.74" fill="#b7beb8"/>
<rect x="279.06" y="242.22" width="2.16" height="15.74" fill="#b7beb8"/>
<rect x="284.30" y="195.00" width="1.08" height="15.74" fill="#b4bdb5"/>
<rect x="284.30" y="210.74" width="1.08" height="15.74" fill="#b7beb8"/>
<rect x="290.44" y="210.74" width="2.09" height="15.74" fill="#b7beb8"/>
<rect x="290.44" y="257.96" width="2.09" height="15.74" fill="#bcbfbc"/>
<rect x="301.80" y="210.74" width="0.87" height="15.74" fill="#b7beb8"/>
<rect x="301.80" y="226.48" width="0.87" height="15.74" fill="#b7beb8"/>
<rect x="301.80" y="257.96" width="0.87" height="15.74" fill="#b7beb8"/>
<rect x="310.74" y="195.00" width="0.92" height="15.74" fill="#b4bdb5"/>
<rect x="313.48" y="195.00" width="1.34" height="15.74" fill="#babeba"/>
<rect x="317.18" y="257.96" width="1.26" height="15.74" fill="#bcbfbc"/>
<rect x="323.20" y="195.00" width="1.91" height="15.74" fill="#b4bdb5"/>
<rect x="329.33" y="195.00" width="1.90" height="15.74" fill="#babeba"/>
<rect x="329.33" y="210.74" width="1.90" height="15.74" fill="#bcbfbc"/>
<rect x="329.33" y="226.48" width="1.90" height="15.74" fill="#b7beb8"/>
<rect x="336.72" y="195.00" width="0.87" height="15.74" fill="#aebbaf"/>
<rect x="336.72" y="226.48" width="0.87" height="15.74" fill="#b7beb8"/>
<rect x="336.72" y="242.22" width="0.87" height="15.74" fill="#bcbfbc"/>
<rect x="340.98" y="195.00" width="1.77" height="15.74" fill="#babeba"/>
<rect x="345.47" y="195.00" width="1.63" height="15.74" fill="#babeba"/>
<rect x="352.81" y="195.00" width="1.32" height="15.74" fill="#b4bdb5"/>
<rect x="352.81" y="210.74" width="1.32" height="15.74" fill="#b7beb8"/>
<rect x="352.81" y="226.48" width="1.32" height="15.74" fill="#b7beb8"/>
<rect x="357.72" y="195.00" width="0.97" height="15.74" fill="#aebbaf"/>
<rect x="357.72" y="210.74" width="0.97" height="15.74" fill="#bcbfbc"/>
<rect x="357.72" y="226.48" width="0.97" height="15.74" fill="#b7beb8"/>
<rect x="357.72" y="257.96" width="0.97" height="15.74" fill="#b7beb8"/>
<rect x="361.89" y="257.96" width="0.95" height="15.74" fill="#b7beb8"/>
<rect x="366.99" y="226.48" width="0.81" height="15.74" fill="#b7beb8"/>
<rect x="371.66" y="195.00" width="1.59" height="15.74" fill="#aebbaf"/>
<rect x="371.66" y="242.22" width="1.59" height="15.74" fill="#b7beb8"/>
<rect x="376.29" y="210.74" width="1.99" height="15.74" fill="#b7beb8"/>
<rect x="376.29" y="242.22" width="1.99" height="15.74" fill="#bcbfbc"/>
<rect x="383.55" y="195.00" width="2.13" height="15.74" fill="#b4bdb5"/>
<rect x="383.55" y="226.48" width="2.13" height="15.74" fill="#b7beb8"/>
<rect x="391.66" y="195.00" width="1.59" height="15.74" fill="#b4bdb5"/>
<rect x="391.66" y="210.74" width="1.59" height="15.74" fill="#bcbfbc"/>
<rect x="398.12" y="242.22" width="2.11" height="15.74" fill="#b7beb8"/>
<rect x="402.54" y="210.74" width="0.91" height="15.74" fill="#bcbfbc"/>
<rect x="414.23" y="195.00" width="2.15" height="15.74" fill="#babeba"/>
<rect x="414.23" y="257.96" width="2.15" height="15.74" fill="#b7beb8"/>
<rect x="421.24" y="195.00" width="1.02" height="15.74" fill="#aebbaf"/>
<rect x="421.24" y="226.48" width="1.02" height="15.74" fill="#b7beb8"/>
<rect x="421.24" y="257.96" width="1.02" height="15.74" fill="#bcbfbc"/>
<rect x="427.93" y="210.74" width="1.76" height="15.74" fill="#bcbfbc"/>
<rect x="431.62" y="195.00" width="1.85" height="15.74" fill="#aebbaf"/>
<rect x="431.62" y="257.96" width="1.85" height="15.74" fill="#bcbfbc"/>
<rect x="445.52" y="195.00" width="1.99" height="15.74" fill="#b4bdb5"/>
<rect x="445.52" y="210.74" width="1.99" height="15.74" fill="#b7beb8"/>
<rect x="445.52" y="242.22" width="1.99" height="15.74" fill="#bcbfbc"/>
<rect x="445.52" y="257.96" width="1.99" height="15.74" fill="#bcbfbc"/>
<rect x="452.86" y="195.00" width="1.63" height="15.74" fill="#b4bdb5"/>
<rect x="456.10" y="195.00" width="1.47" height="15.74" fill="#babeba"/>
<rect x="460.15" y="226.48" width="1.48" height="15.74" fill="#bcbfbc"/>
<rect x="460.15" y="257.96" width="1.48" height="15.74" fill="#bcbfbc"/>
<rect x="465.82" y="195.00" width="1.46" height="15.74" fill="#aebbaf"/>
<rect x="465.82" y="257.96" width="1.46" height="15.74" fill="#bcbfbc"/>
<rect x="469.10" y="195.00" width="2.13" height="15.74" fill="#aebbaf"/>
<rect x="475.64" y="226.48" width="1.89" height="15.74" fill="#b7beb8"/>
<rect x="483.04" y="242.22" width="1.89" height="15.74" fill="#bcbfbc"/>
<rect x="483.04" y="257.96" width="1.89" height="15.74" fill="#bcbfbc"/>
<rect x="490.29" y="226.48" width="2.06" height="15.74" fill="#b7beb8"/>
<rect x="494.67" y="257.96" width="0.93" height="15.74" fill="#b7beb8"/>
<rect x="501.21" y="195.00" width="0.85" height="15.74" fill="#babeba"/>
<rect x="501.21" y="226.48" width="0.85" height="15.74" fill="#bcbfbc"/>
<rect x="501.21" y="242.22" width="0.85" height="15.74" fill="#bcbfbc"/>
<rect x="503.59" y="195.00" width="1.27" height="15.74" fill="#babeba"/>
<rect x="509.26" y="195.00" width="1.84" height="15.74" fill="#babeba"/>
<rect x="513.14" y="195.00" width="1.18" height="15.74" fill="#aebbaf"/>
<rect x="519.91" y="195.00" width="0.94" height="15.74" fill="#aebbaf"/>
<rect x="519.91" y="226.48" width="0.94" height="15.74" fill="#bcbfbc"/>
<rect x="519.91" y="242.22" width="0.94" height="15.74" fill="#b7beb8"/>
<rect x="525.75" y="195.00" width="1.21" height="15.74" fill="#aebbaf"/>
<rect x="525.75" y="210.74" width="1.21" height="15.74" fill="#bcbfbc"/>
<rect x="525.75" y="226.48" width="1.21" height="15.74" fill="#bcbfbc"/>
<rect x="525.75" y="242.22" width="1.21" height="15.74" fill="#b7beb8"/>
<rect x="525.75" y="257.96" width="1.21" height="15.74" fill="#b7beb8"/>
<rect x="529.66" y="210.74" width="1.86" height="15.74" fill="#bcbfbc"/>
<rect x="533.53" y="226.48" width="1.49" height="15.74" fill="#bcbfbc"/>
<rect x="533.53" y="257.96" width="1.49" height="15.74" fill="#bcbfbc"/>
<rect x="539.80" y="195.00" width="1.84" height="15.74" fill="#aebbaf"/>
<rect x="539.80" y="210.74" width="1.84" height="15.74" fill="#bcbfbc"/>
<rect x="539.80" y="226.48" width="1.84" height="15.74" fill="#bcbfbc"/>
<rect x="539.80" y="242.22" width="1.84" height="15.74" fill="#bcbfbc"/>
<rect x="543.94" y="195.00" width="2.05" height="15.74" fill="#aebbaf"/>
<rect x="548.12" y="195.00" width="1.26" height="15.74" fill="#aebbaf"/>
<rect x="548.12" y="210.74" width="1.26" height="15.74" fill="#bcbfbc"/>
<rect x="552.24" y="195.00" width="1.06" height="15.74" fill="#babeba"/>
<rect x="552.24" y="226.48" width="1.06" height="15.74" fill="#b7beb8"/>
<rect x="552.24" y="257.96" width="1.06" height="15.74" fill="#bcbfbc"/>
<rect x="555.11" y="195.00" width="1.80" height="15.74" fill="#b4bdb5"/>
<rect x="555.11" y="242.22" width="1.80" height="15.74" fill="#bcbfbc"/>
<rect x="560.03" y="195.00" width="1.17" height="15.74" fill="#babeba"/>
<rect x="560.03" y="226.48" width="1.17" height="15.74" fill="#b7beb8"/>
<rect x="564.85" y="195.00" width="1.18" height="15.74" fill="#aebbaf"/>
<rect x="564.85" y="210.74" width="1.18" height="15.74" fill="#b7beb8"/>
<rect x="571.79" y="242.22" width="1.43" height="15.74" fill="#b7beb8"/>
<rect x="575.40" y="195.00" width="1.63" height="15.74" fill="#aebbaf"/>
<rect x="575.40" y="242.22" width="1.63" height="15.74" fill="#b7beb8"/>
<rect x="575.40" y="257.96" width="1.63" height="15.74" fill="#bcbfbc"/>
<rect x="579.03" y="195.00" width="1.78" height="15.74" fill="#b4bdb5"/>
<rect x="579.03" y="226.48" width="1.78" height="15.74" fill="#bcbfbc"/>
<rect x="579.03" y="242.22" width="1.78" height="15.74" fill="#bcbfbc"/>
<rect x="585.98" y="195.00" width="1.85" height="15.74" fill="#b4bdb5"/>
<rect x="585.98" y="242.22" width="1.85" height="15.74" fill="#b7beb8"/>
<rect x="592.92" y="257.96" width="1.56" height="15.74" fill="#b7beb8"/>
<rect x="597.10" y="210.74" width="1.89" height="15.74" fill="#b7beb8"/>
<rect x="597.10" y="226.48" width="1.89" height="15.74" fill="#b7beb8"/>
<rect x="604.77" y="195.00" width="1.34" height="15.74" fill="#b4bdb5"/>
<rect x="604.77" y="242.22" width="1.34" height="15.74" fill="#bcbfbc"/>
<rect x="612.00" y="210.74" width="1.76" height="15.74" fill="#b7beb8"/>
<rect x="612.00" y="226.48" width="1.76" height="15.74" fill="#bcbfbc"/>
<rect x="617.97" y="226.48" width="1.82" height="15.74" fill="#b7beb8"/>
<rect x="617.97" y="242.22" width="1.82" height="15.74" fill="#b7beb8"/>
<rect x="617.97" y="257.96" width="1.82" height="15.74" fill="#bcbfbc"/>
<rect x="622.34" y="195.00" width="1.04" height="15.74" fill="#aebbaf"/>
<rect x="622.34" y="257.96" width="1.04" height="15.74" fill="#b7beb8"/>
<rect x="64.20" y="195.00" width="1.70" height="15.74" fill="#78a67e"/>
<rect x="64.20" y="210.74" width="1.70" height="15.74" fill="#b4bdb5"/>
<rect x="67.10" y="195.00" width="4.40" height="15.74" fill="#5c9866"/>
<rect x="67.10" y="210.74" width="4.40" height="15.74" fill="#aebbaf"/>
<rect x="67.10" y="226.48" width="4.40" height="15.74" fill="#b8beb9"/>
<rect x="72.90" y="195.00" width="3.10" height="15.74" fill="#408a4f"/>
<rect x="72.90" y="210.74" width="3.10" height="15.74" fill="#a2b8a4"/>
<rect x="72.90" y="226.48" width="3.10" height="15.74" fill="#b1bcb2"/>
<rect x="76.00" y="195.00" width="3.00" height="15.74" fill="#4e915b"/>
<rect x="76.00" y="210.74" width="3.00" height="15.74" fill="#8daf91"/>
<rect x="76.00" y="226.48" width="3.00" height="15.74" fill="#a2b8a4"/>
<rect x="76.00" y="242.22" width="3.00" height="15.74" fill="#b8beb9"/>
<rect x="79.00" y="195.00" width="3.00" height="15.74" fill="#38864a"/>
<rect x="79.00" y="210.74" width="3.00" height="15.74" fill="#82aa88"/>
<rect x="79.00" y="226.48" width="3.00" height="15.74" fill="#98b49a"/>
<rect x="79.00" y="257.96" width="3.00" height="15.74" fill="#b8beb9"/>
<rect x="82.00" y="195.00" width="2.70" height="15.74" fill="#408a4f"/>
<rect x="82.00" y="210.74" width="2.70" height="15.74" fill="#98b49a"/>
<rect x="82.00" y="226.48" width="2.70" height="15.74" fill="#8daf91"/>
<rect x="82.00" y="242.22" width="2.70" height="15.74" fill="#b8beb9"/>
<rect x="84.70" y="195.00" width="3.30" height="15.74" fill="#408a4f"/>
<rect x="84.70" y="210.74" width="3.30" height="15.74" fill="#8daf91"/>
<rect x="84.70" y="226.48" width="3.30" height="15.74" fill="#a2b8a4"/>
<rect x="88.00" y="195.00" width="3.00" height="15.74" fill="#5c9866"/>
<rect x="88.00" y="210.74" width="3.00" height="15.74" fill="#82aa88"/>
<rect x="88.00" y="226.48" width="3.00" height="15.74" fill="#8daf91"/>
<rect x="88.00" y="242.22" width="3.00" height="15.74" fill="#b8beb9"/>
<rect x="88.00" y="257.96" width="3.00" height="15.74" fill="#b8beb9"/>
<rect x="91.00" y="195.00" width="2.50" height="15.74" fill="#408a4f"/>
<rect x="91.00" y="210.74" width="2.50" height="15.74" fill="#98b49a"/>
<rect x="91.00" y="226.48" width="2.50" height="15.74" fill="#b1bcb2"/>
<rect x="93.50" y="195.00" width="2.50" height="15.74" fill="#5c9866"/>
<rect x="93.50" y="210.74" width="2.50" height="15.74" fill="#8daf91"/>
<rect x="93.50" y="226.48" width="2.50" height="15.74" fill="#98b49a"/>
<rect x="93.50" y="242.22" width="2.50" height="15.74" fill="#b8beb9"/>
<rect x="99.90" y="195.00" width="1.80" height="15.74" fill="#6a9f72"/>
<rect x="99.90" y="210.74" width="1.80" height="15.74" fill="#b8beb9"/>
<rect x="103.00" y="195.00" width="1.80" height="15.74" fill="#308246"/>
<rect x="103.00" y="210.74" width="1.80" height="15.74" fill="#82aa88"/>
<rect x="103.00" y="226.48" width="1.80" height="15.74" fill="#a2b8a4"/>
<rect x="103.00" y="242.22" width="1.80" height="15.74" fill="#b1bcb2"/>
<rect x="103.00" y="257.96" width="1.80" height="15.74" fill="#b8beb9"/>
<rect x="105.70" y="195.00" width="2.80" height="15.74" fill="#408a4f"/>
<rect x="105.70" y="210.74" width="2.80" height="15.74" fill="#82aa88"/>
<rect x="105.70" y="226.48" width="2.80" height="15.74" fill="#98b49a"/>
<rect x="105.70" y="242.22" width="2.80" height="15.74" fill="#b8beb9"/>
<rect x="108.50" y="195.00" width="1.70" height="15.74" fill="#20793c"/>
<rect x="108.50" y="210.74" width="1.70" height="15.74" fill="#78a67e"/>
<rect x="108.50" y="226.48" width="1.70" height="15.74" fill="#8daf91"/>
<rect x="108.50" y="242.22" width="1.70" height="15.74" fill="#b1bcb2"/>
<rect x="108.50" y="257.96" width="1.70" height="15.74" fill="#b1bcb2"/>
<rect x="110.20" y="195.00" width="5.10" height="15.74" fill="#408a4f"/>
<rect x="110.20" y="210.74" width="5.10" height="15.74" fill="#8daf91"/>
<rect x="110.20" y="226.48" width="5.10" height="15.74" fill="#98b49a"/>
<rect x="110.20" y="242.22" width="5.10" height="15.74" fill="#b8beb9"/>
<rect x="117.00" y="195.00" width="1.80" height="15.74" fill="#6a9f72"/>
<rect x="117.00" y="210.74" width="1.80" height="15.74" fill="#8daf91"/>
<rect x="117.00" y="226.48" width="1.80" height="15.74" fill="#b1bcb2"/>
<rect x="125.00" y="195.00" width="2.20" height="15.74" fill="#6a9f72"/>
<rect x="125.00" y="210.74" width="2.20" height="15.74" fill="#aabaab"/>
<rect x="125.00" y="226.48" width="2.20" height="15.74" fill="#b8beb9"/>
<rect x="134.40" y="195.00" width="1.60" height="15.74" fill="#308246"/>
<rect x="134.40" y="210.74" width="1.60" height="15.74" fill="#6a9f72"/>
<rect x="134.40" y="226.48" width="1.60" height="15.74" fill="#78a67e"/>
<rect x="134.40" y="242.22" width="1.60" height="15.74" fill="#b8beb9"/>
<rect x="134.40" y="257.96" width="1.60" height="15.74" fill="#b8beb9"/>
<rect x="136.00" y="195.00" width="2.00" height="15.74" fill="#308246"/>
<rect x="136.00" y="210.74" width="2.00" height="15.74" fill="#8daf91"/>
<rect x="136.00" y="226.48" width="2.00" height="15.74" fill="#98b49a"/>
<rect x="138.00" y="195.00" width="2.00" height="15.74" fill="#2d8044"/>
<rect x="138.00" y="210.74" width="2.00" height="15.74" fill="#6a9f72"/>
<rect x="138.00" y="226.48" width="2.00" height="15.74" fill="#78a67e"/>
<rect x="138.00" y="242.22" width="2.00" height="15.74" fill="#b8beb9"/>
<rect x="140.00" y="195.00" width="1.50" height="15.74" fill="#38864a"/>
<rect x="140.00" y="210.74" width="1.50" height="15.74" fill="#98b49a"/>
<rect x="140.00" y="226.48" width="1.50" height="15.74" fill="#8daf91"/>
<rect x="141.50" y="195.00" width="1.80" height="15.74" fill="#308246"/>
<rect x="141.50" y="210.74" width="1.80" height="15.74" fill="#78a67e"/>
<rect x="141.50" y="226.48" width="1.80" height="15.74" fill="#82aa88"/>
<rect x="141.50" y="242.22" width="1.80" height="15.74" fill="#b8beb9"/>
<rect x="133.20" y="195.00" width="1.20" height="15.74" fill="#308246"/>
<rect x="133.20" y="210.74" width="1.20" height="15.74" fill="#20793c"/>
<rect x="133.20" y="226.48" width="1.20" height="15.74" fill="#1b6532"/>
<rect x="133.20" y="242.22" width="1.20" height="15.74" fill="#165028"/>
<rect x="133.20" y="257.96" width="1.20" height="15.74" fill="#10351b"/>
<rect x="104.00" y="242.22" width="1.50" height="15.74" fill="#5c9866"/>
<rect x="104.00" y="257.96" width="1.50" height="15.74" fill="#aabaab"/>
<rect x="145.40" y="195.00" width="5.00" height="15.74" fill="#6a9f72"/>
<rect x="145.40" y="210.74" width="5.00" height="15.74" fill="#b1bcb2"/>
<rect x="145.40" y="226.48" width="5.00" height="15.74" fill="#b8beb9"/>
<rect x="158.20" y="195.00" width="3.50" height="15.74" fill="#408a4f"/>
<rect x="158.20" y="210.74" width="3.50" height="15.74" fill="#aabaab"/>
<rect x="158.20" y="226.48" width="3.50" height="15.74" fill="#b8beb9"/>
<rect x="160.30" y="195.00" width="1.20" height="15.74" fill="#408a4f"/>
<rect x="160.30" y="210.74" width="1.20" height="15.74" fill="#8daf91"/>
<rect x="160.30" y="226.48" width="1.20" height="15.74" fill="#8daf91"/>
<rect x="160.30" y="242.22" width="1.20" height="15.74" fill="#8daf91"/>
<rect x="160.30" y="257.96" width="1.20" height="15.74" fill="#78a67e"/>
<rect x="176.70" y="195.00" width="1.70" height="15.74" fill="#4e915b"/>
<rect x="176.70" y="210.74" width="1.70" height="15.74" fill="#8daf91"/>
<rect x="176.70" y="226.48" width="1.70" height="15.74" fill="#8daf91"/>
<rect x="176.70" y="242.22" width="1.70" height="15.74" fill="#8daf91"/>
<rect x="176.70" y="257.96" width="1.70" height="15.74" fill="#6a9f72"/>
<rect x="184.90" y="195.00" width="1.20" height="15.74" fill="#98b49a"/>
<rect x="187.50" y="195.00" width="1.40" height="15.74" fill="#6a9f72"/>
<rect x="187.50" y="210.74" width="1.40" height="15.74" fill="#6a9f72"/>
<rect x="187.50" y="226.48" width="1.40" height="15.74" fill="#8daf91"/>
<rect x="187.50" y="242.22" width="1.40" height="15.74" fill="#8daf91"/>
<rect x="187.50" y="257.96" width="1.40" height="15.74" fill="#b1bcb2"/>
<rect x="205.90" y="195.00" width="2.60" height="15.74" fill="#408a4f"/>
<rect x="205.90" y="210.74" width="2.60" height="15.74" fill="#98b49a"/>
<rect x="205.90" y="226.48" width="2.60" height="15.74" fill="#a2b8a4"/>
<rect x="210.00" y="195.00" width="1.30" height="15.74" fill="#5c9866"/>
<rect x="210.00" y="210.74" width="1.30" height="15.74" fill="#b8beb9"/>
<rect x="212.60" y="195.00" width="1.50" height="15.74" fill="#5c9866"/>
<rect x="212.60" y="210.74" width="1.50" height="15.74" fill="#a2b8a4"/>
<rect x="220.80" y="195.00" width="1.40" height="15.74" fill="#4e915b"/>
<rect x="220.80" y="210.74" width="1.40" height="15.74" fill="#a2b8a4"/>
<rect x="220.80" y="226.48" width="1.40" height="15.74" fill="#6a9f72"/>
<rect x="220.80" y="242.22" width="1.40" height="15.74" fill="#82aa88"/>
<rect x="220.80" y="257.96" width="1.40" height="15.74" fill="#b8beb9"/>
<rect x="223.40" y="195.00" width="1.80" height="15.74" fill="#5c9866"/>
<rect x="250.90" y="195.00" width="1.40" height="15.74" fill="#408a4f"/>
<rect x="250.90" y="210.74" width="1.40" height="15.74" fill="#b8beb9"/>
<rect x="252.30" y="195.00" width="1.70" height="15.74" fill="#408a4f"/>
<rect x="252.30" y="210.74" width="1.70" height="15.74" fill="#8daf91"/>
<rect x="252.30" y="226.48" width="1.70" height="15.74" fill="#b1bcb2"/>
<rect x="254.00" y="195.00" width="3.20" height="15.74" fill="#408a4f"/>
<rect x="254.00" y="210.74" width="3.20" height="15.74" fill="#b1bcb2"/>
<rect x="254.00" y="226.48" width="3.20" height="15.74" fill="#b8beb9"/>
<rect x="257.60" y="195.00" width="0.90" height="15.74" fill="#38864a"/>
<rect x="257.60" y="210.74" width="0.90" height="15.74" fill="#b1bcb2"/>
<rect x="257.60" y="226.48" width="0.90" height="15.74" fill="#b8beb9"/>
<rect x="258.50" y="195.00" width="2.50" height="15.74" fill="#38864a"/>
<rect x="258.50" y="210.74" width="2.50" height="15.74" fill="#78a67e"/>
<rect x="258.50" y="226.48" width="2.50" height="15.74" fill="#78a67e"/>
<rect x="258.50" y="242.22" width="2.50" height="15.74" fill="#b8beb9"/>
<rect x="261.00" y="195.00" width="1.00" height="15.74" fill="#38864a"/>
<rect x="261.00" y="210.74" width="1.00" height="15.74" fill="#aabaab"/>
<rect x="261.00" y="226.48" width="1.00" height="15.74" fill="#b1bcb2"/>
<rect x="262.00" y="195.00" width="1.70" height="15.74" fill="#38864a"/>
<rect x="262.00" y="210.74" width="1.70" height="15.74" fill="#6a9f72"/>
<rect x="262.00" y="226.48" width="1.70" height="15.74" fill="#98b49a"/>
<rect x="263.70" y="195.00" width="3.50" height="15.74" fill="#38864a"/>
<rect x="263.70" y="210.74" width="3.50" height="15.74" fill="#aabaab"/>
<rect x="263.70" y="226.48" width="3.50" height="15.74" fill="#b1bcb2"/>
<rect x="269.00" y="195.00" width="2.00" height="15.74" fill="#308246"/>
<rect x="269.00" y="210.74" width="2.00" height="15.74" fill="#6a9f72"/>
<rect x="269.00" y="226.48" width="2.00" height="15.74" fill="#82aa88"/>
<rect x="269.00" y="242.22" width="2.00" height="15.74" fill="#b8beb9"/>
<rect x="269.00" y="257.96" width="2.00" height="15.74" fill="#b8beb9"/>
<rect x="271.00" y="195.00" width="2.00" height="15.74" fill="#308246"/>
<rect x="271.00" y="210.74" width="2.00" height="15.74" fill="#8daf91"/>
<rect x="271.00" y="226.48" width="2.00" height="15.74" fill="#78a67e"/>
<rect x="273.00" y="195.00" width="1.80" height="15.74" fill="#1b6532"/>
<rect x="273.00" y="210.74" width="1.80" height="15.74" fill="#1b6532"/>
<rect x="273.00" y="226.48" width="1.80" height="15.74" fill="#1b6532"/>
<rect x="273.00" y="242.22" width="1.80" height="15.74" fill="#5c9866"/>
<rect x="273.00" y="257.96" width="1.80" height="15.74" fill="#a2b8a4"/>
<rect x="274.80" y="195.00" width="2.20" height="15.74" fill="#287d41"/>
<rect x="274.80" y="210.74" width="2.20" height="15.74" fill="#5c9866"/>
<rect x="274.80" y="226.48" width="2.20" height="15.74" fill="#6a9f72"/>
<rect x="274.80" y="242.22" width="2.20" height="15.74" fill="#b1bcb2"/>
<rect x="274.80" y="257.96" width="2.20" height="15.74" fill="#b8beb9"/>
<rect x="277.00" y="195.00" width="2.00" height="15.74" fill="#287d41"/>
<rect x="277.00" y="210.74" width="2.00" height="15.74" fill="#82aa88"/>
<rect x="277.00" y="226.48" width="2.00" height="15.74" fill="#6a9f72"/>
<rect x="279.00" y="195.00" width="2.00" height="15.74" fill="#308246"/>
<rect x="279.00" y="210.74" width="2.00" height="15.74" fill="#5c9866"/>
<rect x="279.00" y="226.48" width="2.00" height="15.74" fill="#78a67e"/>
<rect x="279.00" y="242.22" width="2.00" height="15.74" fill="#b1bcb2"/>
<rect x="281.00" y="195.00" width="2.00" height="15.74" fill="#308246"/>
<rect x="281.00" y="210.74" width="2.00" height="15.74" fill="#8daf91"/>
<rect x="281.00" y="226.48" width="2.00" height="15.74" fill="#82aa88"/>
<rect x="283.00" y="195.00" width="3.00" height="15.74" fill="#308246"/>
<rect x="283.00" y="210.74" width="3.00" height="15.74" fill="#6a9f72"/>
<rect x="283.00" y="226.48" width="3.00" height="15.74" fill="#8daf91"/>
<rect x="283.00" y="242.22" width="3.00" height="15.74" fill="#b8beb9"/>
<rect x="283.00" y="257.96" width="3.00" height="15.74" fill="#b8beb9"/>
<rect x="285.90" y="195.00" width="3.50" height="15.74" fill="#38864a"/>
<rect x="285.90" y="210.74" width="3.50" height="15.74" fill="#8daf91"/>
<rect x="285.90" y="226.48" width="3.50" height="15.74" fill="#8daf91"/>
<rect x="285.90" y="242.22" width="3.50" height="15.74" fill="#b1bcb2"/>
<rect x="285.90" y="257.96" width="3.50" height="15.74" fill="#b8beb9"/>
<rect x="298.70" y="195.00" width="1.20" height="15.74" fill="#5c9866"/>
<rect x="298.70" y="210.74" width="1.20" height="15.74" fill="#b8beb9"/>
<rect x="312.20" y="195.00" width="1.70" height="15.74" fill="#82aa88"/>
<rect x="312.20" y="210.74" width="1.70" height="15.74" fill="#4e915b"/>
<rect x="312.20" y="226.48" width="1.70" height="15.74" fill="#78a67e"/>
<rect x="312.20" y="242.22" width="1.70" height="15.74" fill="#8daf91"/>
<rect x="312.20" y="257.96" width="1.70" height="15.74" fill="#6a9f72"/>
<rect x="323.50" y="195.00" width="0.90" height="15.74" fill="#6a9f72"/>
<rect x="323.50" y="257.96" width="0.90" height="15.74" fill="#b1bcb2"/>
<rect x="326.20" y="195.00" width="1.70" height="15.74" fill="#6a9f72"/>
<rect x="326.20" y="210.74" width="1.70" height="15.74" fill="#8daf91"/>
<rect x="326.20" y="226.48" width="1.70" height="15.74" fill="#b8beb9"/>
<rect x="352.40" y="195.00" width="1.50" height="15.74" fill="#4e915b"/>
<rect x="352.40" y="210.74" width="1.50" height="15.74" fill="#aabaab"/>
<rect x="352.40" y="226.48" width="1.50" height="15.74" fill="#b1bcb2"/>
<rect x="352.40" y="242.22" width="1.50" height="15.74" fill="#b8beb9"/>
<rect x="352.40" y="257.96" width="1.50" height="15.74" fill="#b8beb9"/>
<rect x="375.20" y="195.00" width="1.80" height="15.74" fill="#4e915b"/>
<rect x="375.20" y="210.74" width="1.80" height="15.74" fill="#78a67e"/>
<rect x="375.20" y="226.48" width="1.80" height="15.74" fill="#78a67e"/>
<rect x="375.20" y="242.22" width="1.80" height="15.74" fill="#b8beb9"/>
<rect x="370.80" y="242.22" width="1.80" height="15.74" fill="#8daf91"/>
<rect x="384.00" y="195.00" width="1.70" height="15.74" fill="#0a190e"/>
<rect x="384.00" y="210.74" width="1.70" height="15.74" fill="#0a190e"/>
<rect x="384.00" y="226.48" width="1.70" height="15.74" fill="#0a190e"/>
<rect x="384.00" y="242.22" width="1.70" height="15.74" fill="#0a190e"/>
<rect x="384.00" y="257.96" width="1.70" height="15.74" fill="#0a190e"/>
<rect x="396.20" y="195.00" width="2.70" height="15.74" fill="#38864a"/>
<rect x="396.20" y="210.74" width="2.70" height="15.74" fill="#8daf91"/>
<rect x="396.20" y="226.48" width="2.70" height="15.74" fill="#8daf91"/>
<rect x="396.20" y="242.22" width="2.70" height="15.74" fill="#8daf91"/>
<rect x="396.20" y="257.96" width="2.70" height="15.74" fill="#8daf91"/>
<rect x="403.50" y="195.00" width="2.60" height="15.74" fill="#78a67e"/>
<rect x="403.50" y="210.74" width="2.60" height="15.74" fill="#8daf91"/>
<rect x="403.50" y="226.48" width="2.60" height="15.74" fill="#8daf91"/>
<rect x="403.50" y="242.22" width="2.60" height="15.74" fill="#8daf91"/>
<rect x="403.50" y="257.96" width="2.60" height="15.74" fill="#b8beb9"/>
<rect x="423.70" y="195.00" width="1.30" height="15.74" fill="#5c9866"/>
<rect x="423.70" y="210.74" width="1.30" height="15.74" fill="#b8beb9"/>
<rect x="428.90" y="195.00" width="2.10" height="15.74" fill="#408a4f"/>
<rect x="428.90" y="210.74" width="2.10" height="15.74" fill="#10351b"/>
<rect x="428.90" y="226.48" width="2.10" height="15.74" fill="#4e915b"/>
<rect x="428.90" y="242.22" width="2.10" height="15.74" fill="#6a9f72"/>
<rect x="428.90" y="257.96" width="2.10" height="15.74" fill="#5c9866"/>
<rect x="434.70" y="195.00" width="1.70" height="15.74" fill="#5c9866"/>
<rect x="434.70" y="210.74" width="1.70" height="15.74" fill="#a2b8a4"/>
<rect x="434.70" y="226.48" width="1.70" height="15.74" fill="#b8beb9"/>
<rect x="438.50" y="195.00" width="1.80" height="15.74" fill="#4e915b"/>
<rect x="438.50" y="210.74" width="1.80" height="15.74" fill="#98b49a"/>
<rect x="438.50" y="226.48" width="1.80" height="15.74" fill="#a2b8a4"/>
<rect x="454.30" y="195.00" width="2.60" height="15.74" fill="#4e915b"/>
<rect x="454.30" y="210.74" width="2.60" height="15.74" fill="#8daf91"/>
<rect x="454.30" y="226.48" width="2.60" height="15.74" fill="#8daf91"/>
<rect x="454.30" y="242.22" width="2.60" height="15.74" fill="#b1bcb2"/>
<rect x="454.30" y="257.96" width="2.60" height="15.74" fill="#b8beb9"/>
<rect x="494.60" y="195.00" width="2.60" height="15.74" fill="#8daf91"/>
<rect x="494.60" y="210.74" width="2.60" height="15.74" fill="#b8beb9"/>
<rect x="511.20" y="195.00" width="1.40" height="15.74" fill="#5c9866"/>
<rect x="515.60" y="195.00" width="1.40" height="15.74" fill="#4e915b"/>
<rect x="515.60" y="210.74" width="1.40" height="15.74" fill="#5c9866"/>
<rect x="515.60" y="226.48" width="1.40" height="15.74" fill="#b8beb9"/>
<rect x="531.90" y="195.00" width="1.60" height="15.74" fill="#408a4f"/>
<rect x="531.90" y="210.74" width="1.60" height="15.74" fill="#aebbaf"/>
<rect x="531.90" y="226.48" width="1.60" height="15.74" fill="#b4bdb5"/>
<rect x="531.90" y="242.22" width="1.60" height="15.74" fill="#b8beb9"/>
<rect x="533.50" y="195.00" width="5.40" height="15.74" fill="#408a4f"/>
<rect x="533.50" y="210.74" width="5.40" height="15.74" fill="#babeba"/>
<rect x="533.50" y="226.48" width="5.40" height="15.74" fill="#bcbfbc"/>
<rect x="538.90" y="195.00" width="1.20" height="15.74" fill="#408a4f"/>
<rect x="538.90" y="210.74" width="1.20" height="15.74" fill="#5c9866"/>
<rect x="538.90" y="226.48" width="1.20" height="15.74" fill="#78a67e"/>
<rect x="538.90" y="242.22" width="1.20" height="15.74" fill="#8daf91"/>
<rect x="538.90" y="257.96" width="1.20" height="15.74" fill="#6a9f72"/>
<rect x="540.10" y="195.00" width="2.80" height="15.74" fill="#408a4f"/>
<rect x="540.10" y="210.74" width="2.80" height="15.74" fill="#babeba"/>
<rect x="540.10" y="226.48" width="2.80" height="15.74" fill="#bcbfbc"/>
<rect x="548.50" y="195.00" width="1.50" height="15.74" fill="#8daf91"/>
<rect x="562.20" y="195.00" width="1.80" height="15.74" fill="#408a4f"/>
<rect x="562.20" y="210.74" width="1.80" height="15.74" fill="#b8beb9"/>
<rect x="564.00" y="195.00" width="3.80" height="15.74" fill="#38864a"/>
<rect x="564.00" y="210.74" width="3.80" height="15.74" fill="#82aa88"/>
<rect x="564.00" y="226.48" width="3.80" height="15.74" fill="#8daf91"/>
<rect x="564.00" y="242.22" width="3.80" height="15.74" fill="#a2b8a4"/>
<rect x="564.00" y="257.96" width="3.80" height="15.74" fill="#b1bcb2"/>
<rect x="570.00" y="195.00" width="1.70" height="15.74" fill="#4e915b"/>
<rect x="570.00" y="210.74" width="1.70" height="15.74" fill="#b8beb9"/>
<rect x="573.00" y="195.00" width="1.50" height="15.74" fill="#4e915b"/>
<rect x="573.00" y="210.74" width="1.50" height="15.74" fill="#b8beb9"/>
<rect x="582.70" y="195.00" width="0.90" height="15.74" fill="#8daf91"/>
<rect x="587.00" y="195.00" width="2.50" height="15.74" fill="#38864a"/>
<rect x="587.00" y="210.74" width="2.50" height="15.74" fill="#b1bcb2"/>
<rect x="589.50" y="195.00" width="1.50" height="15.74" fill="#38864a"/>
<rect x="589.50" y="210.74" width="1.50" height="15.74" fill="#78a67e"/>
<rect x="589.50" y="226.48" width="1.50" height="15.74" fill="#82aa88"/>
<rect x="589.50" y="242.22" width="1.50" height="15.74" fill="#b1bcb2"/>
<rect x="589.50" y="257.96" width="1.50" height="15.74" fill="#b8beb9"/>
<rect x="591.00" y="195.00" width="3.00" height="15.74" fill="#408a4f"/>
<rect x="591.00" y="210.74" width="3.00" height="15.74" fill="#b1bcb2"/>
<rect x="591.00" y="226.48" width="3.00" height="15.74" fill="#b8beb9"/>
<rect x="594.00" y="195.00" width="2.00" height="15.74" fill="#38864a"/>
<rect x="594.00" y="210.74" width="2.00" height="15.74" fill="#78a67e"/>
<rect x="594.00" y="226.48" width="2.00" height="15.74" fill="#78a67e"/>
<rect x="594.00" y="242.22" width="2.00" height="15.74" fill="#b1bcb2"/>
<rect x="594.00" y="257.96" width="2.00" height="15.74" fill="#b8beb9"/>
<rect x="596.00" y="195.00" width="3.30" height="15.74" fill="#38864a"/>
<rect x="596.00" y="210.74" width="3.30" height="15.74" fill="#82aa88"/>
<rect x="596.00" y="226.48" width="3.30" height="15.74" fill="#a2b8a4"/>
<rect x="596.00" y="242.22" width="3.30" height="15.74" fill="#b8beb9"/>
<rect x="596.00" y="257.96" width="3.30" height="15.74" fill="#b8beb9"/>
<rect x="602.00" y="195.00" width="2.00" height="15.74" fill="#2d8044"/>
<rect x="602.00" y="210.74" width="2.00" height="15.74" fill="#408a4f"/>
<rect x="602.00" y="226.48" width="2.00" height="15.74" fill="#4e915b"/>
<rect x="602.00" y="242.22" width="2.00" height="15.74" fill="#8daf91"/>
<rect x="602.00" y="257.96" width="2.00" height="15.74" fill="#aebbaf"/>
<rect x="604.00" y="195.00" width="2.00" height="15.74" fill="#287d41"/>
<rect x="604.00" y="210.74" width="2.00" height="15.74" fill="#3d884d"/>
<rect x="604.00" y="226.48" width="2.00" height="15.74" fill="#4e915b"/>
<rect x="604.00" y="242.22" width="2.00" height="15.74" fill="#aabaab"/>
<rect x="604.00" y="257.96" width="2.00" height="15.74" fill="#b8beb9"/>
<rect x="606.00" y="195.00" width="2.00" height="15.74" fill="#2d8044"/>
<rect x="606.00" y="210.74" width="2.00" height="15.74" fill="#408a4f"/>
<rect x="606.00" y="226.48" width="2.00" height="15.74" fill="#4e915b"/>
<rect x="606.00" y="242.22" width="2.00" height="15.74" fill="#8daf91"/>
<rect x="606.00" y="257.96" width="2.00" height="15.74" fill="#aebbaf"/>
<rect x="608.00" y="195.00" width="3.60" height="15.74" fill="#2d8044"/>
<rect x="608.00" y="210.74" width="3.60" height="15.74" fill="#468d54"/>
<rect x="608.00" y="226.48" width="3.60" height="15.74" fill="#569562"/>
<rect x="608.00" y="242.22" width="3.60" height="15.74" fill="#aabaab"/>
<rect x="608.00" y="257.96" width="3.60" height="15.74" fill="#b8beb9"/>
<rect x="613.40" y="195.00" width="1.70" height="15.74" fill="#4e915b"/>
<rect x="613.40" y="210.74" width="1.70" height="15.74" fill="#6a9f72"/>
<rect x="613.40" y="226.48" width="1.70" height="15.74" fill="#b1bcb2"/>
<rect x="616.00" y="195.00" width="6.00" height="15.74" fill="#4e915b"/>
<rect x="616.00" y="210.74" width="6.00" height="15.74" fill="#98b49a"/>
<rect x="616.00" y="226.48" width="6.00" height="15.74" fill="#b1bcb2"/>
<rect x="616.00" y="242.22" width="6.00" height="15.74" fill="#b8beb9"/>
<rect x="144.20" y="210.74" width="1.20" height="15.74" fill="#ffffff"/>
<rect x="144.20" y="226.48" width="1.20" height="15.74" fill="#ffffff"/>
<rect x="339.80" y="210.74" width="1.60" height="15.74" fill="#ffffff"/>
<rect x="339.80" y="242.22" width="1.60" height="15.74" fill="#ffffff"/>
<rect x="410.00" y="210.74" width="1.70" height="15.74" fill="#ffffff"/>
<rect x="410.00" y="226.48" width="1.70" height="15.74" fill="#ffffff"/>
<line x1="52.00" y1="203.27" x2="55.00" y2="203.27" stroke="#555" stroke-width="0.6"/>
<text x="47.2" y="206.3" font-size="8.8" text-anchor="end" fill="#1a1a1a" textLength="30.7" lengthAdjust="spacingAndGlyphs">Control</text>
<line x1="52.00" y1="219.01" x2="55.00" y2="219.01" stroke="#555" stroke-width="0.6"/>
<text x="47.2" y="222.0" font-size="8.8" text-anchor="end" fill="#1a1a1a" textLength="35.8" lengthAdjust="spacingAndGlyphs">Dox (3 d)</text>
<line x1="52.00" y1="234.75" x2="55.00" y2="234.75" stroke="#555" stroke-width="0.6"/>
<text x="47.2" y="237.8" font-size="8.8" text-anchor="end" fill="#1a1a1a" textLength="35.4" lengthAdjust="spacingAndGlyphs">Dox (7 d)</text>
<line x1="52.00" y1="250.49" x2="55.00" y2="250.49" stroke="#555" stroke-width="0.6"/>
<text x="47.2" y="253.5" font-size="8.8" text-anchor="end" fill="#1a1a1a" textLength="39.2" lengthAdjust="spacingAndGlyphs">Dox (14 d)</text>
<line x1="52.00" y1="266.23" x2="55.00" y2="266.23" stroke="#555" stroke-width="0.6"/>
<text x="47.2" y="269.2" font-size="8.8" text-anchor="end" fill="#1a1a1a" textLength="39.2" lengthAdjust="spacingAndGlyphs">Dox (21 d)</text>
<text x="51.7" y="282.2" font-size="8.8" text-anchor="end" fill="#1a1a1a" textLength="48.0" lengthAdjust="spacingAndGlyphs">Gene group</text>
<rect x="66.60" y="277.00" width="4.58" height="6.70" fill="#b2df8a"/>
<rect x="71.42" y="277.00" width="4.58" height="6.70" fill="#b2df8a"/>
<rect x="76.25" y="277.00" width="4.58" height="6.70" fill="#b2df8a"/>
<rect x="81.08" y="277.00" width="4.58" height="6.70" fill="#b2df8a"/>
<rect x="85.90" y="277.00" width="2.85" height="6.70" fill="#e31a1c"/>
<rect x="89.00" y="277.00" width="2.85" height="6.70" fill="#e31a1c"/>
<rect x="92.10" y="277.00" width="2.85" height="6.70" fill="#e31a1c"/>
<rect x="106.20" y="277.00" width="5.35" height="6.70" fill="#f7ec8f"/>
<rect x="134.00" y="277.00" width="3.75" height="6.70" fill="#a6cee3"/>
<rect x="138.00" y="277.00" width="3.75" height="6.70" fill="#a6cee3"/>
<rect x="144.70" y="277.00" width="4.05" height="6.70" fill="#1f78b4"/>
<rect x="250.20" y="277.00" width="5.35" height="6.70" fill="#33a02c"/>
<rect x="257.00" y="277.00" width="2.98" height="6.70" fill="#33a02c"/>
<rect x="260.23" y="277.00" width="2.98" height="6.70" fill="#33a02c"/>
<rect x="263.47" y="277.00" width="2.98" height="6.70" fill="#33a02c"/>
<rect x="269.00" y="277.00" width="2.73" height="6.70" fill="#fb9a99"/>
<rect x="271.98" y="277.00" width="2.73" height="6.70" fill="#fb9a99"/>
<rect x="274.96" y="277.00" width="2.73" height="6.70" fill="#fb9a99"/>
<rect x="277.94" y="277.00" width="2.73" height="6.70" fill="#fb9a99"/>
<rect x="280.92" y="277.00" width="2.73" height="6.70" fill="#fb9a99"/>
<rect x="286.50" y="277.00" width="2.05" height="6.70" fill="#fb9a99"/>
<rect x="532.80" y="277.00" width="3.45" height="6.70" fill="#fdbf6f"/>
<rect x="536.50" y="277.00" width="2.70" height="6.70" fill="#ff7f00"/>
<rect x="539.45" y="277.00" width="2.70" height="6.70" fill="#ff7f00"/>
<rect x="585.90" y="277.00" width="5.65" height="6.70" fill="#cab2d6"/>
<rect x="604.00" y="277.00" width="5.65" height="6.70" fill="#6a3d9a"/>
<text x="657.3" y="208.6" font-size="8.8" text-anchor="middle" fill="#1a1a1a" textLength="44.7" lengthAdjust="spacingAndGlyphs">Allelic ratio</text>
<text x="657.3" y="219.1" font-size="8.8" text-anchor="middle" fill="#1a1a1a" textLength="54.2" lengthAdjust="spacingAndGlyphs">(Xi / (Xi + Xa))</text>
<rect x="645.20" y="226.00" width="4.30" height="22.40" fill="url(#cbar)"/>
<text x="653.7" y="229.1" font-size="8.0" fill="#1a1a1a" textLength="15.4" lengthAdjust="spacingAndGlyphs">1.00</text>
<text x="653.7" y="240.4" font-size="8.0" fill="#1a1a1a" textLength="15.6" lengthAdjust="spacingAndGlyphs">0.50</text>
<text x="653.7" y="251.3" font-size="8.0" fill="#1a1a1a">0</text>
<path d="M65.2,285.7 L149.8,285.7 L243,330 L55,330 Z" fill="url(#trapF)"/>
<path d="M249,285.3 L289.9,285.3 L402,330 L294.7,330 Z" fill="url(#trapF)"/>
<path d="M532.3,285.4 L611,285.4 L613.7,330 L496.9,330 Z" fill="url(#trapF)"/>
<text x="0.0" y="316.5" font-size="12.5" fill="#000" font-weight="bold">f</text>
<text x="58.7" y="329.4" font-size="4.0" fill="#2a2a2a" textLength="27.4" lengthAdjust="spacingAndGlyphs" transform="rotate(-90 58.7 329.4)">4930578C19Rik</text>
<text x="63.0" y="329.4" font-size="4.0" fill="#2a2a2a" textLength="12.8" lengthAdjust="spacingAndGlyphs" transform="rotate(-90 63.0 329.4)">Utp14a</text>
<text x="67.3" y="329.4" font-size="4.0" fill="#2a2a2a" textLength="12.5" lengthAdjust="spacingAndGlyphs" transform="rotate(-90 67.3 329.4)">Ptchd1</text>
<text x="71.6" y="329.4" font-size="4.0" fill="#2a2a2a" textLength="9.2" lengthAdjust="spacingAndGlyphs" transform="rotate(-90 71.6 329.4)">Syn1</text>
<text x="75.9" y="329.4" font-size="4.0" fill="#2a2a2a" textLength="15.8" lengthAdjust="spacingAndGlyphs" transform="rotate(-90 75.9 329.4)">Ccdc120</text>
<text x="80.1" y="329.4" font-size="4.0" fill="#2a2a2a" textLength="7.7" lengthAdjust="spacingAndGlyphs" transform="rotate(-90 80.1 329.4)">Pls3</text>
<text x="84.4" y="329.4" font-size="4.0" fill="#2a2a2a" textLength="14.3" lengthAdjust="spacingAndGlyphs" transform="rotate(-90 84.4 329.4)">Gripap1</text>
<text x="88.7" y="329.4" font-size="4.0" fill="#2a2a2a" textLength="12.1" lengthAdjust="spacingAndGlyphs" transform="rotate(-90 88.7 329.4)">Rbbp7</text>
<text x="93.0" y="329.4" font-size="4.0" fill="#2a2a2a" textLength="11.4" lengthAdjust="spacingAndGlyphs" transform="rotate(-90 93.0 329.4)">Kcnd1</text>
<text x="97.3" y="329.4" font-size="4.0" fill="#2a2a2a" textLength="9.9" lengthAdjust="spacingAndGlyphs" transform="rotate(-90 97.3 329.4)">Maoa</text>
<text x="101.6" y="329.4" font-size="4.0" fill="#2a2a2a" textLength="14.3" lengthAdjust="spacingAndGlyphs" transform="rotate(-90 101.6 329.4)">Mospd2</text>
<text x="105.8" y="329.4" font-size="4.0" fill="#2a2a2a" textLength="12.1" lengthAdjust="spacingAndGlyphs" transform="rotate(-90 105.8 329.4)">Lancl3</text>
<text x="110.1" y="329.4" font-size="4.0" fill="#2a2a2a" textLength="16.5" lengthAdjust="spacingAndGlyphs" transform="rotate(-90 110.1 329.4)">Gripap1b</text>
<text x="114.4" y="329.4" font-size="4.0" fill="#2a2a2a" textLength="12.1" lengthAdjust="spacingAndGlyphs" transform="rotate(-90 114.4 329.4)">Ch25h</text>
<text x="118.7" y="329.4" font-size="4.0" fill="#2a2a2a" textLength="15.8" lengthAdjust="spacingAndGlyphs" transform="rotate(-90 118.7 329.4)">Zdhhc15</text>
<text x="123.0" y="329.4" font-size="4.0" fill="#2a2a2a" textLength="14.3" lengthAdjust="spacingAndGlyphs" transform="rotate(-90 123.0 329.4)">Prickle3</text>
<text x="127.2" y="329.4" font-size="4.0" fill="#2a2a2a" textLength="11.4" lengthAdjust="spacingAndGlyphs" transform="rotate(-90 127.2 329.4)">Syap1</text>
<text x="131.5" y="329.4" font-size="4.0" fill="#2a2a2a" textLength="11.4" lengthAdjust="spacingAndGlyphs" transform="rotate(-90 131.5 329.4)">Abcb7</text>
<text x="135.8" y="329.4" font-size="4.0" fill="#2a2a2a" textLength="15.0" lengthAdjust="spacingAndGlyphs" transform="rotate(-90 135.8 329.4)">Atp6ap2</text>
<text x="140.1" y="329.4" font-size="4.0" fill="#2a2a2a" textLength="7.0" lengthAdjust="spacingAndGlyphs" transform="rotate(-90 140.1 329.4)">Yy2</text>
<text x="144.4" y="329.4" font-size="4.0" fill="#2a2a2a" textLength="10.7" lengthAdjust="spacingAndGlyphs" transform="rotate(-90 144.4 329.4)">Rbm3</text>
<text x="148.6" y="329.4" font-size="4.0" fill="#2a2a2a" textLength="9.9" lengthAdjust="spacingAndGlyphs" transform="rotate(-90 148.6 329.4)">Maob</text>
<text x="152.9" y="329.4" font-size="4.0" fill="#2a2a2a" textLength="8.5" lengthAdjust="spacingAndGlyphs" transform="rotate(-90 152.9 329.4)">Msl3</text>
<text x="157.2" y="329.4" font-size="4.0" fill="#2a2a2a" textLength="13.6" lengthAdjust="spacingAndGlyphs" transform="rotate(-90 157.2 329.4)">Usp27x</text>
<text x="161.5" y="329.4" font-size="4.0" fill="#2a2a2a" textLength="7.7" lengthAdjust="spacingAndGlyphs" transform="rotate(-90 161.5 329.4)">Elk1</text>
<text x="165.8" y="329.4" font-size="4.0" fill="#2a2a2a" textLength="15.0" lengthAdjust="spacingAndGlyphs" transform="rotate(-90 165.8 329.4)">Zcchc13</text>
<text x="170.0" y="329.4" font-size="4.0" fill="#2a2a2a" textLength="29.6" lengthAdjust="spacingAndGlyphs" transform="rotate(-90 170.0 329.4)">A830080D01Rik</text>
<text x="174.3" y="329.4" font-size="4.0" fill="#2a2a2a" textLength="12.1" lengthAdjust="spacingAndGlyphs" transform="rotate(-90 174.3 329.4)">Iqsec2</text>
<text x="178.6" y="329.4" font-size="4.0" fill="#2a2a2a" textLength="17.2" lengthAdjust="spacingAndGlyphs" transform="rotate(-90 178.6 329.4)">Gm14634</text>
<text x="182.9" y="329.4" font-size="4.0" fill="#2a2a2a" textLength="29.6" lengthAdjust="spacingAndGlyphs" transform="rotate(-90 182.9 329.4)">5730416F02Rik</text>
<text x="187.2" y="329.4" font-size="4.0" fill="#2a2a2a" textLength="11.4" lengthAdjust="spacingAndGlyphs" transform="rotate(-90 187.2 329.4)">Ddx3x</text>
<text x="191.5" y="329.4" font-size="4.0" fill="#2a2a2a" textLength="11.4" lengthAdjust="spacingAndGlyphs" transform="rotate(-90 191.5 329.4)">Cxx1b</text>
<text x="195.7" y="329.4" font-size="4.0" fill="#2a2a2a" textLength="12.8" lengthAdjust="spacingAndGlyphs" transform="rotate(-90 195.7 329.4)">Tspan7</text>
<text x="200.0" y="329.4" font-size="4.0" fill="#2a2a2a" textLength="12.8" lengthAdjust="spacingAndGlyphs" transform="rotate(-90 200.0 329.4)">Kdm6a</text>
<text x="204.3" y="329.4" font-size="4.0" fill="#2a2a2a" textLength="18.0" lengthAdjust="spacingAndGlyphs" transform="rotate(-90 204.3 329.4)">Hsd17b10</text>
<text x="208.6" y="329.4" font-size="4.0" fill="#2a2a2a" textLength="14.3" lengthAdjust="spacingAndGlyphs" transform="rotate(-90 208.6 329.4)">Tmsb4x</text>
<text x="212.9" y="329.4" font-size="4.0" fill="#2a2a2a" textLength="12.8" lengthAdjust="spacingAndGlyphs" transform="rotate(-90 212.9 329.4)">Tceanc</text>
<text x="217.1" y="329.4" font-size="4.0" fill="#2a2a2a" textLength="9.9" lengthAdjust="spacingAndGlyphs" transform="rotate(-90 217.1 329.4)">Taf9b</text>
<text x="221.4" y="329.4" font-size="4.0" fill="#2a2a2a" textLength="11.4" lengthAdjust="spacingAndGlyphs" transform="rotate(-90 221.4 329.4)">Dynlt3</text>
<text x="225.7" y="329.4" font-size="4.0" fill="#2a2a2a" textLength="9.9" lengthAdjust="spacingAndGlyphs" transform="rotate(-90 225.7 329.4)">Glra2</text>
<text x="230.0" y="329.4" font-size="4.0" fill="#2a2a2a" textLength="7.7" lengthAdjust="spacingAndGlyphs" transform="rotate(-90 230.0 329.4)">Sypl</text>
<text x="234.3" y="329.4" font-size="4.0" fill="#2a2a2a" textLength="7.0" lengthAdjust="spacingAndGlyphs" transform="rotate(-90 234.3 329.4)">Tlr7</text>
<text x="238.5" y="329.4" font-size="4.0" fill="#2a2a2a" textLength="7.0" lengthAdjust="spacingAndGlyphs" transform="rotate(-90 238.5 329.4)">Tlr8</text>
<text x="242.8" y="329.4" font-size="4.0" fill="#2a2a2a" textLength="6.3" lengthAdjust="spacingAndGlyphs" transform="rotate(-90 242.8 329.4)">Cfp</text>
<text x="247.1" y="329.4" font-size="4.0" fill="#2a2a2a" textLength="29.6" lengthAdjust="spacingAndGlyphs" transform="rotate(-90 247.1 329.4)">4833420G17Rik</text>
<text x="251.4" y="329.4" font-size="4.0" fill="#2a2a2a" textLength="15.0" lengthAdjust="spacingAndGlyphs" transform="rotate(-90 251.4 329.4)">Arhgap6</text>
<text x="255.7" y="329.4" font-size="4.0" fill="#2a2a2a" textLength="11.4" lengthAdjust="spacingAndGlyphs" transform="rotate(-90 255.7 329.4)">Usp11</text>
<text x="259.9" y="329.4" font-size="4.0" fill="#2a2a2a" textLength="9.9" lengthAdjust="spacingAndGlyphs" transform="rotate(-90 259.9 329.4)">Tbl1x</text>
<text x="264.2" y="329.4" font-size="4.0" fill="#2a2a2a" textLength="12.8" lengthAdjust="spacingAndGlyphs" transform="rotate(-90 264.2 329.4)">Pcsk1n</text>
<text x="268.5" y="329.4" font-size="4.0" fill="#2a2a2a" textLength="8.5" lengthAdjust="spacingAndGlyphs" transform="rotate(-90 268.5 329.4)">Dmd</text>
<text x="272.8" y="329.4" font-size="4.0" fill="#2a2a2a" textLength="12.8" lengthAdjust="spacingAndGlyphs" transform="rotate(-90 272.8 329.4)">Gpm6b</text>
<text x="277.1" y="329.4" font-size="4.0" fill="#2a2a2a" textLength="12.8" lengthAdjust="spacingAndGlyphs" transform="rotate(-90 277.1 329.4)">Eif2s3x</text>
<text x="281.4" y="329.4" font-size="4.0" fill="#2a2a2a" textLength="12.1" lengthAdjust="spacingAndGlyphs" transform="rotate(-90 281.4 329.4)">Wdr45</text>
<text x="285.6" y="329.4" font-size="4.0" fill="#2a2a2a" textLength="10.7" lengthAdjust="spacingAndGlyphs" transform="rotate(-90 285.6 329.4)">Magix</text>
<text x="289.9" y="329.4" font-size="4.0" fill="#2a2a2a" textLength="18.0" lengthAdjust="spacingAndGlyphs" transform="rotate(-90 289.9 329.4)">Fam120c</text>
<text x="294.2" y="329.4" font-size="4.0" fill="#2a2a2a" textLength="9.2" lengthAdjust="spacingAndGlyphs" transform="rotate(-90 294.2 329.4)">Egfl6</text>
<text x="298.5" y="329.4" font-size="4.0" fill="#2a2a2a" textLength="12.8" lengthAdjust="spacingAndGlyphs" transform="rotate(-90 298.5 329.4)">Mbtps2</text>
<text x="302.8" y="329.4" font-size="4.0" fill="#2a2a2a" textLength="13.6" lengthAdjust="spacingAndGlyphs" transform="rotate(-90 302.8 329.4)">Frmpd4</text>
<text x="307.0" y="329.4" font-size="4.0" fill="#2a2a2a" textLength="12.1" lengthAdjust="spacingAndGlyphs" transform="rotate(-90 307.0 329.4)">Cysltr1</text>
<text x="311.3" y="329.4" font-size="4.0" fill="#2a2a2a" textLength="12.8" lengthAdjust="spacingAndGlyphs" transform="rotate(-90 311.3 329.4)">Il1rapl1</text>
<text x="315.6" y="329.4" font-size="4.0" fill="#2a2a2a" textLength="10.7" lengthAdjust="spacingAndGlyphs" transform="rotate(-90 315.6 329.4)">Wwc3</text>
<text x="319.9" y="329.4" font-size="4.0" fill="#2a2a2a" textLength="9.2" lengthAdjust="spacingAndGlyphs" transform="rotate(-90 319.9 329.4)">Ace2</text>
<text x="324.2" y="329.4" font-size="4.0" fill="#2a2a2a" textLength="12.1" lengthAdjust="spacingAndGlyphs" transform="rotate(-90 324.2 329.4)">Kdm5c</text>
<text x="328.4" y="329.4" font-size="4.0" fill="#2a2a2a" textLength="15.8" lengthAdjust="spacingAndGlyphs" transform="rotate(-90 328.4 329.4)">Shroom2</text>
<text x="332.7" y="329.4" font-size="4.0" fill="#2a2a2a" textLength="12.1" lengthAdjust="spacingAndGlyphs" transform="rotate(-90 332.7 329.4)">Smc1a</text>
<text x="337.0" y="329.4" font-size="4.0" fill="#2a2a2a" textLength="11.4" lengthAdjust="spacingAndGlyphs" transform="rotate(-90 337.0 329.4)">Hdac6</text>
<text x="341.3" y="329.4" font-size="4.0" fill="#2a2a2a" textLength="11.4" lengthAdjust="spacingAndGlyphs" transform="rotate(-90 341.3 329.4)">Cdk16</text>
<text x="345.6" y="329.4" font-size="4.0" fill="#2a2a2a" textLength="12.8" lengthAdjust="spacingAndGlyphs" transform="rotate(-90 345.6 329.4)">Huwe1</text>
<text x="349.8" y="329.4" font-size="4.0" fill="#2a2a2a" textLength="8.5" lengthAdjust="spacingAndGlyphs" transform="rotate(-90 349.8 329.4)">Ftsj1</text>
<text x="354.1" y="329.4" font-size="4.0" fill="#2a2a2a" textLength="9.9" lengthAdjust="spacingAndGlyphs" transform="rotate(-90 354.1 329.4)">Wnk3</text>
<text x="358.4" y="329.4" font-size="4.0" fill="#2a2a2a" textLength="10.7" lengthAdjust="spacingAndGlyphs" transform="rotate(-90 358.4 329.4)">Mid1b</text>
<text x="362.7" y="329.4" font-size="4.0" fill="#2a2a2a" textLength="15.0" lengthAdjust="spacingAndGlyphs" transform="rotate(-90 362.7 329.4)">Trappc2</text>
<text x="367.0" y="329.4" font-size="4.0" fill="#2a2a2a" textLength="9.2" lengthAdjust="spacingAndGlyphs" transform="rotate(-90 367.0 329.4)">Pdk3</text>
<text x="371.3" y="329.4" font-size="4.0" fill="#2a2a2a" textLength="15.0" lengthAdjust="spacingAndGlyphs" transform="rotate(-90 371.3 329.4)">Slc35a2</text>
<text x="375.5" y="329.4" font-size="4.0" fill="#2a2a2a" textLength="12.1" lengthAdjust="spacingAndGlyphs" transform="rotate(-90 375.5 329.4)">Cox7b</text>
<text x="379.8" y="329.4" font-size="4.0" fill="#2a2a2a" textLength="15.0" lengthAdjust="spacingAndGlyphs" transform="rotate(-90 379.8 329.4)">Maged2</text>
<text x="384.1" y="329.4" font-size="4.0" fill="#2a2a2a" textLength="11.4" lengthAdjust="spacingAndGlyphs" transform="rotate(-90 384.1 329.4)">Gdaar</text>
<text x="388.4" y="329.4" font-size="4.0" fill="#2a2a2a" textLength="10.7" lengthAdjust="spacingAndGlyphs" transform="rotate(-90 388.4 329.4)">Otud5</text>
<text x="392.7" y="329.4" font-size="4.0" fill="#2a2a2a" textLength="9.2" lengthAdjust="spacingAndGlyphs" transform="rotate(-90 392.7 329.4)">Fgd1</text>
<text x="396.9" y="329.4" font-size="4.0" fill="#2a2a2a" textLength="9.9" lengthAdjust="spacingAndGlyphs" transform="rotate(-90 396.9 329.4)">Smpx</text>
<text x="401.2" y="329.4" font-size="4.0" fill="#2a2a2a" textLength="12.1" lengthAdjust="spacingAndGlyphs" transform="rotate(-90 401.2 329.4)">Gpr34</text>
<text x="405.5" y="329.4" font-size="4.0" fill="#2a2a2a" textLength="9.9" lengthAdjust="spacingAndGlyphs" transform="rotate(-90 405.5 329.4)">Clcn4</text>
<text x="409.8" y="329.4" font-size="4.0" fill="#2a2a2a" textLength="15.8" lengthAdjust="spacingAndGlyphs" transform="rotate(-90 409.8 329.4)">Slc16a2</text>
<text x="414.1" y="329.4" font-size="4.0" fill="#2a2a2a" textLength="12.8" lengthAdjust="spacingAndGlyphs" transform="rotate(-90 414.1 329.4)">Gpr143</text>
<text x="418.3" y="329.4" font-size="4.0" fill="#2a2a2a" textLength="9.9" lengthAdjust="spacingAndGlyphs" transform="rotate(-90 418.3 329.4)">Ribc1</text>
<text x="422.6" y="329.4" font-size="4.0" fill="#2a2a2a" textLength="11.4" lengthAdjust="spacingAndGlyphs" transform="rotate(-90 422.6 329.4)">Magt1</text>
<text x="426.9" y="329.4" font-size="4.0" fill="#2a2a2a" textLength="9.9" lengthAdjust="spacingAndGlyphs" transform="rotate(-90 426.9 329.4)">Acot9</text>
<text x="431.2" y="329.4" font-size="4.0" fill="#2a2a2a" textLength="6.3" lengthAdjust="spacingAndGlyphs" transform="rotate(-90 431.2 329.4)">Jpx</text>
<text x="435.5" y="329.4" font-size="4.0" fill="#2a2a2a" textLength="5.5" lengthAdjust="spacingAndGlyphs" transform="rotate(-90 435.5 329.4)">Zfx</text>
<text x="439.7" y="329.4" font-size="4.0" fill="#2a2a2a" textLength="29.6" lengthAdjust="spacingAndGlyphs" transform="rotate(-90 439.7 329.4)">9530051G07Rik</text>
<text x="444.0" y="329.4" font-size="4.0" fill="#2a2a2a" textLength="10.7" lengthAdjust="spacingAndGlyphs" transform="rotate(-90 444.0 329.4)">Car5b</text>
<text x="448.3" y="329.4" font-size="4.0" fill="#2a2a2a" textLength="10.7" lengthAdjust="spacingAndGlyphs" transform="rotate(-90 448.3 329.4)">Atp7a</text>
<text x="452.6" y="329.4" font-size="4.0" fill="#2a2a2a" textLength="10.7" lengthAdjust="spacingAndGlyphs" transform="rotate(-90 452.6 329.4)">Porcn</text>
<text x="456.9" y="329.4" font-size="4.0" fill="#2a2a2a" textLength="9.9" lengthAdjust="spacingAndGlyphs" transform="rotate(-90 456.9 329.4)">Efhc2</text>
<text x="461.2" y="329.4" font-size="4.0" fill="#2a2a2a" textLength="18.0" lengthAdjust="spacingAndGlyphs" transform="rotate(-90 461.2 329.4)">AW045210</text>
<text x="465.4" y="329.4" font-size="4.0" fill="#2a2a2a" textLength="10.7" lengthAdjust="spacingAndGlyphs" transform="rotate(-90 465.4 329.4)">Prps2</text>
<text x="469.7" y="329.4" font-size="4.0" fill="#2a2a2a" textLength="11.4" lengthAdjust="spacingAndGlyphs" transform="rotate(-90 469.7 329.4)">Amelx</text>
<text x="474.0" y="329.4" font-size="4.0" fill="#2a2a2a" textLength="13.6" lengthAdjust="spacingAndGlyphs" transform="rotate(-90 474.0 329.4)">Dusp21</text>
<text x="478.3" y="329.4" font-size="4.0" fill="#2a2a2a" textLength="15.0" lengthAdjust="spacingAndGlyphs" transform="rotate(-90 478.3 329.4)">Magee1</text>
<text x="482.6" y="329.4" font-size="4.0" fill="#2a2a2a" textLength="14.3" lengthAdjust="spacingAndGlyphs" transform="rotate(-90 482.6 329.4)">Mid1ip1</text>
<text x="486.8" y="329.4" font-size="4.0" fill="#2a2a2a" textLength="10.7" lengthAdjust="spacingAndGlyphs" transform="rotate(-90 486.8 329.4)">Prdx4</text>
<text x="491.1" y="329.4" font-size="4.0" fill="#2a2a2a" textLength="16.5" lengthAdjust="spacingAndGlyphs" transform="rotate(-90 491.1 329.4)">Gemin8</text>
<text x="495.4" y="329.4" font-size="4.0" fill="#2a2a2a" textLength="12.1" lengthAdjust="spacingAndGlyphs" transform="rotate(-90 495.4 329.4)">Fundc1</text>
<text x="499.7" y="329.4" font-size="4.0" fill="#2a2a2a" textLength="17.2" lengthAdjust="spacingAndGlyphs" transform="rotate(-90 499.7 329.4)">Ctps2</text>
<text x="504.0" y="329.4" font-size="4.0" fill="#2a2a2a" textLength="10.7" lengthAdjust="spacingAndGlyphs" transform="rotate(-90 504.0 329.4)">Pola1</text>
<text x="508.2" y="329.4" font-size="4.0" fill="#2a2a2a" textLength="11.4" lengthAdjust="spacingAndGlyphs" transform="rotate(-90 508.2 329.4)">Fgf16</text>
<text x="512.5" y="329.4" font-size="4.0" fill="#2a2a2a" textLength="12.8" lengthAdjust="spacingAndGlyphs" transform="rotate(-90 512.5 329.4)">Uba1</text>
<text x="516.8" y="329.4" font-size="4.0" fill="#2a2a2a" textLength="12.8" lengthAdjust="spacingAndGlyphs" transform="rotate(-90 516.8 329.4)">Rab9</text>
<text x="521.1" y="329.4" font-size="4.0" fill="#2a2a2a" textLength="9.2" lengthAdjust="spacingAndGlyphs" transform="rotate(-90 521.1 329.4)">Pgk1</text>
<text x="525.4" y="329.4" font-size="4.0" fill="#2a2a2a" textLength="11.4" lengthAdjust="spacingAndGlyphs" transform="rotate(-90 525.4 329.4)">Praf2</text>
<text x="529.7" y="329.4" font-size="4.0" fill="#2a2a2a" textLength="10.7" lengthAdjust="spacingAndGlyphs" transform="rotate(-90 529.7 329.4)">Apoo</text>
<text x="533.9" y="329.4" font-size="4.0" fill="#2a2a2a" textLength="16.5" lengthAdjust="spacingAndGlyphs" transform="rotate(-90 533.9 329.4)">Cybb</text>
<text x="538.2" y="329.4" font-size="4.0" fill="#2a2a2a" textLength="7.7" lengthAdjust="spacingAndGlyphs" transform="rotate(-90 538.2 329.4)">Itih6</text>
<text x="542.5" y="329.4" font-size="4.0" fill="#2a2a2a" textLength="13.6" lengthAdjust="spacingAndGlyphs" transform="rotate(-90 542.5 329.4)">Gnl3l</text>
<text x="546.8" y="329.4" font-size="4.0" fill="#2a2a2a" textLength="10.7" lengthAdjust="spacingAndGlyphs" transform="rotate(-90 546.8 329.4)">Pim2</text>
<text x="551.1" y="329.4" font-size="4.0" fill="#2a2a2a" textLength="29.6" lengthAdjust="spacingAndGlyphs" transform="rotate(-90 551.1 329.4)">2010106E10Rik</text>
<text x="555.3" y="329.4" font-size="4.0" fill="#2a2a2a" textLength="12.1" lengthAdjust="spacingAndGlyphs" transform="rotate(-90 555.3 329.4)">Cask</text>
<text x="559.6" y="329.4" font-size="4.0" fill="#2a2a2a" textLength="9.9" lengthAdjust="spacingAndGlyphs" transform="rotate(-90 559.6 329.4)">Sytl5</text>
<text x="563.9" y="329.4" font-size="4.0" fill="#2a2a2a" textLength="10.7" lengthAdjust="spacingAndGlyphs" transform="rotate(-90 563.9 329.4)">Hccs</text>
<text x="568.2" y="329.4" font-size="4.0" fill="#2a2a2a" textLength="10.7" lengthAdjust="spacingAndGlyphs" transform="rotate(-90 568.2 329.4)">Tab3</text>
<text x="572.5" y="329.4" font-size="4.0" fill="#2a2a2a" textLength="9.9" lengthAdjust="spacingAndGlyphs" transform="rotate(-90 572.5 329.4)">Ofd1</text>
<text x="576.7" y="329.4" font-size="4.0" fill="#2a2a2a" textLength="9.9" lengthAdjust="spacingAndGlyphs" transform="rotate(-90 576.7 329.4)">Rpgr</text>
<text x="581.0" y="329.4" font-size="4.0" fill="#2a2a2a" textLength="11.4" lengthAdjust="spacingAndGlyphs" transform="rotate(-90 581.0 329.4)">Sat1</text>
<text x="585.3" y="329.4" font-size="4.0" fill="#2a2a2a" textLength="8.5" lengthAdjust="spacingAndGlyphs" transform="rotate(-90 585.3 329.4)">Phf8</text>
<text x="589.6" y="329.4" font-size="4.0" fill="#2a2a2a" textLength="14.3" lengthAdjust="spacingAndGlyphs" transform="rotate(-90 589.6 329.4)">Bcor</text>
<text x="593.9" y="329.4" font-size="4.0" fill="#2a2a2a" textLength="14.3" lengthAdjust="spacingAndGlyphs" transform="rotate(-90 593.9 329.4)">Srpx</text>
<text x="598.1" y="329.4" font-size="4.0" fill="#2a2a2a" textLength="9.2" lengthAdjust="spacingAndGlyphs" transform="rotate(-90 598.1 329.4)">Plp2</text>
<text x="602.4" y="329.4" font-size="4.0" fill="#2a2a2a" textLength="15.0" lengthAdjust="spacingAndGlyphs" transform="rotate(-90 602.4 329.4)">Tfe3</text>
<text x="606.7" y="329.4" font-size="4.0" fill="#2a2a2a" textLength="9.9" lengthAdjust="spacingAndGlyphs" transform="rotate(-90 606.7 329.4)">Bmx</text>
<text x="611.0" y="329.4" font-size="4.0" fill="#2a2a2a" textLength="13.6" lengthAdjust="spacingAndGlyphs" transform="rotate(-90 611.0 329.4)">Rlim</text>
<text x="615.3" y="329.4" font-size="4.0" fill="#2a2a2a" textLength="14.3" lengthAdjust="spacingAndGlyphs" transform="rotate(-90 615.3 329.4)">Tsr2</text>
<text x="619.6" y="329.4" font-size="4.0" fill="#2a2a2a" textLength="9.2" lengthAdjust="spacingAndGlyphs" transform="rotate(-90 619.6 329.4)">Uprt</text>
<text x="623.8" y="329.4" font-size="4.0" fill="#2a2a2a" textLength="20.1" lengthAdjust="spacingAndGlyphs" transform="rotate(-90 623.8 329.4)">A930-109F22.6</text>
<rect x="55.20" y="332.40" width="569.37" height="85.60" fill="#c0c0c0"/>
<rect x="55.20" y="332.40" width="4.33" height="17.12" fill="#6a9f72"/>
<rect x="55.20" y="349.52" width="4.33" height="17.12" fill="#aabaab"/>
<rect x="55.20" y="366.64" width="4.33" height="17.12" fill="#b8beb9"/>
<rect x="55.20" y="383.76" width="4.33" height="17.12" fill="#c0c0c0"/>
<rect x="55.20" y="400.88" width="4.33" height="17.12" fill="#c0c0c0"/>
<rect x="59.48" y="332.40" width="4.33" height="17.12" fill="#5c9866"/>
<rect x="59.48" y="349.52" width="4.33" height="17.12" fill="#aabaab"/>
<rect x="59.48" y="366.64" width="4.33" height="17.12" fill="#c0c0c0"/>
<rect x="59.48" y="383.76" width="4.33" height="17.12" fill="#c0c0c0"/>
<rect x="59.48" y="400.88" width="4.33" height="17.12" fill="#c0c0c0"/>
<rect x="63.76" y="332.40" width="4.33" height="17.12" fill="#6a9f72"/>
<rect x="63.76" y="349.52" width="4.33" height="17.12" fill="#a2b8a4"/>
<rect x="63.76" y="366.64" width="4.33" height="17.12" fill="#c0c0c0"/>
<rect x="63.76" y="383.76" width="4.33" height="17.12" fill="#c0c0c0"/>
<rect x="63.76" y="400.88" width="4.33" height="17.12" fill="#c0c0c0"/>
<rect x="68.04" y="332.40" width="4.33" height="17.12" fill="#4e915b"/>
<rect x="68.04" y="349.52" width="4.33" height="17.12" fill="#b1bcb2"/>
<rect x="68.04" y="366.64" width="4.33" height="17.12" fill="#c0c0c0"/>
<rect x="68.04" y="383.76" width="4.33" height="17.12" fill="#c0c0c0"/>
<rect x="68.04" y="400.88" width="4.33" height="17.12" fill="#c0c0c0"/>
<rect x="72.32" y="332.40" width="4.33" height="17.12" fill="#a2b8a4"/>
<rect x="72.32" y="349.52" width="4.33" height="17.12" fill="#c0c0c0"/>
<rect x="72.32" y="366.64" width="4.33" height="17.12" fill="#c0c0c0"/>
<rect x="72.32" y="383.76" width="4.33" height="17.12" fill="#c0c0c0"/>
<rect x="72.32" y="400.88" width="4.33" height="17.12" fill="#c0c0c0"/>
<rect x="76.61" y="332.40" width="4.33" height="17.12" fill="#408a4f"/>
<rect x="76.61" y="349.52" width="4.33" height="17.12" fill="#98b49a"/>
<rect x="76.61" y="366.64" width="4.33" height="17.12" fill="#c0c0c0"/>
<rect x="76.61" y="383.76" width="4.33" height="17.12" fill="#c0c0c0"/>
<rect x="76.61" y="400.88" width="4.33" height="17.12" fill="#c0c0c0"/>
<rect x="80.89" y="332.40" width="4.33" height="17.12" fill="#4e915b"/>
<rect x="80.89" y="349.52" width="4.33" height="17.12" fill="#82aa88"/>
<rect x="80.89" y="366.64" width="4.33" height="17.12" fill="#a2b8a4"/>
<rect x="80.89" y="383.76" width="4.33" height="17.12" fill="#c0c0c0"/>
<rect x="80.89" y="400.88" width="4.33" height="17.12" fill="#c0c0c0"/>
<rect x="85.17" y="332.40" width="4.33" height="17.12" fill="#78a67e"/>
<rect x="85.17" y="349.52" width="4.33" height="17.12" fill="#c0c0c0"/>
<rect x="85.17" y="366.64" width="4.33" height="17.12" fill="#c0c0c0"/>
<rect x="85.17" y="383.76" width="4.33" height="17.12" fill="#c0c0c0"/>
<rect x="85.17" y="400.88" width="4.33" height="17.12" fill="#c0c0c0"/>
<rect x="89.45" y="332.40" width="4.33" height="17.12" fill="#308246"/>
<rect x="89.45" y="349.52" width="4.33" height="17.12" fill="#8daf91"/>
<rect x="89.45" y="366.64" width="4.33" height="17.12" fill="#aabaab"/>
<rect x="89.45" y="383.76" width="4.33" height="17.12" fill="#c0c0c0"/>
<rect x="89.45" y="400.88" width="4.33" height="17.12" fill="#c0c0c0"/>
<rect x="93.73" y="332.40" width="4.33" height="17.12" fill="#5c9866"/>
<rect x="93.73" y="349.52" width="4.33" height="17.12" fill="#b1bcb2"/>
<rect x="93.73" y="366.64" width="4.33" height="17.12" fill="#c0c0c0"/>
<rect x="93.73" y="383.76" width="4.33" height="17.12" fill="#c0c0c0"/>
<rect x="93.73" y="400.88" width="4.33" height="17.12" fill="#c0c0c0"/>
<rect x="98.01" y="332.40" width="4.33" height="17.12" fill="#287d41"/>
<rect x="98.01" y="349.52" width="4.33" height="17.12" fill="#78a67e"/>
<rect x="98.01" y="366.64" width="4.33" height="17.12" fill="#8daf91"/>
<rect x="98.01" y="383.76" width="4.33" height="17.12" fill="#c0c0c0"/>
<rect x="98.01" y="400.88" width="4.33" height="17.12" fill="#c0c0c0"/>
<rect x="102.29" y="332.40" width="4.33" height="17.12" fill="#287d41"/>
<rect x="102.29" y="349.52" width="4.33" height="17.12" fill="#78a67e"/>
<rect x="102.29" y="366.64" width="4.33" height="17.12" fill="#98b49a"/>
<rect x="102.29" y="383.76" width="4.33" height="17.12" fill="#c0c0c0"/>
<rect x="102.29" y="400.88" width="4.33" height="17.12" fill="#c0c0c0"/>
<rect x="106.57" y="332.40" width="4.33" height="17.12" fill="#287d41"/>
<rect x="106.57" y="349.52" width="4.33" height="17.12" fill="#82aa88"/>
<rect x="106.57" y="366.64" width="4.33" height="17.12" fill="#a2b8a4"/>
<rect x="106.57" y="383.76" width="4.33" height="17.12" fill="#c0c0c0"/>
<rect x="106.57" y="400.88" width="4.33" height="17.12" fill="#c0c0c0"/>
<rect x="110.85" y="332.40" width="4.33" height="17.12" fill="#8daf91"/>
<rect x="110.85" y="349.52" width="4.33" height="17.12" fill="#c0c0c0"/>
<rect x="110.85" y="366.64" width="4.33" height="17.12" fill="#c0c0c0"/>
<rect x="110.85" y="383.76" width="4.33" height="17.12" fill="#c0c0c0"/>
<rect x="110.85" y="400.88" width="4.33" height="17.12" fill="#c0c0c0"/>
<rect x="115.13" y="332.40" width="4.33" height="17.12" fill="#4e915b"/>
<rect x="115.13" y="349.52" width="4.33" height="17.12" fill="#c0c0c0"/>
<rect x="115.13" y="366.64" width="4.33" height="17.12" fill="#c0c0c0"/>
<rect x="115.13" y="383.76" width="4.33" height="17.12" fill="#c0c0c0"/>
<rect x="115.13" y="400.88" width="4.33" height="17.12" fill="#c0c0c0"/>
<rect x="119.41" y="332.40" width="4.33" height="17.12" fill="#4e915b"/>
<rect x="119.41" y="349.52" width="4.33" height="17.12" fill="#82aa88"/>
<rect x="119.41" y="366.64" width="4.33" height="17.12" fill="#8daf91"/>
<rect x="119.41" y="383.76" width="4.33" height="17.12" fill="#b8beb9"/>
<rect x="119.41" y="400.88" width="4.33" height="17.12" fill="#c0c0c0"/>
<rect x="123.70" y="332.40" width="4.33" height="17.12" fill="#4e915b"/>
<rect x="123.70" y="349.52" width="4.33" height="17.12" fill="#8daf91"/>
<rect x="123.70" y="366.64" width="4.33" height="17.12" fill="#8daf91"/>
<rect x="123.70" y="383.76" width="4.33" height="17.12" fill="#c0c0c0"/>
<rect x="123.70" y="400.88" width="4.33" height="17.12" fill="#c0c0c0"/>
<rect x="127.98" y="332.40" width="4.33" height="17.12" fill="#1b6532"/>
<rect x="127.98" y="349.52" width="4.33" height="17.12" fill="#408a4f"/>
<rect x="127.98" y="366.64" width="4.33" height="17.12" fill="#6a9f72"/>
<rect x="127.98" y="383.76" width="4.33" height="17.12" fill="#c0c0c0"/>
<rect x="127.98" y="400.88" width="4.33" height="17.12" fill="#c0c0c0"/>
<rect x="132.26" y="332.40" width="4.33" height="17.12" fill="#408a4f"/>
<rect x="132.26" y="349.52" width="4.33" height="17.12" fill="#b1bcb2"/>
<rect x="132.26" y="366.64" width="4.33" height="17.12" fill="#c0c0c0"/>
<rect x="132.26" y="383.76" width="4.33" height="17.12" fill="#c0c0c0"/>
<rect x="132.26" y="400.88" width="4.33" height="17.12" fill="#c0c0c0"/>
<rect x="136.54" y="332.40" width="4.33" height="17.12" fill="#82aa88"/>
<rect x="136.54" y="349.52" width="4.33" height="17.12" fill="#c0c0c0"/>
<rect x="136.54" y="366.64" width="4.33" height="17.12" fill="#c0c0c0"/>
<rect x="136.54" y="383.76" width="4.33" height="17.12" fill="#c0c0c0"/>
<rect x="136.54" y="400.88" width="4.33" height="17.12" fill="#c0c0c0"/>
<rect x="140.82" y="332.40" width="4.33" height="17.12" fill="#82aa88"/>
<rect x="140.82" y="349.52" width="4.33" height="17.12" fill="#c0c0c0"/>
<rect x="140.82" y="366.64" width="4.33" height="17.12" fill="#c0c0c0"/>
<rect x="140.82" y="383.76" width="4.33" height="17.12" fill="#c0c0c0"/>
<rect x="140.82" y="400.88" width="4.33" height="17.12" fill="#c0c0c0"/>
<rect x="145.10" y="332.40" width="4.33" height="17.12" fill="#287d41"/>
<rect x="145.10" y="349.52" width="4.33" height="17.12" fill="#78a67e"/>
<rect x="145.10" y="366.64" width="4.33" height="17.12" fill="#8daf91"/>
<rect x="145.10" y="383.76" width="4.33" height="17.12" fill="#c0c0c0"/>
<rect x="145.10" y="400.88" width="4.33" height="17.12" fill="#c0c0c0"/>
<rect x="149.38" y="332.40" width="4.33" height="17.12" fill="#6a9f72"/>
<rect x="149.38" y="349.52" width="4.33" height="17.12" fill="#b1bcb2"/>
<rect x="149.38" y="366.64" width="4.33" height="17.12" fill="#c0c0c0"/>
<rect x="149.38" y="383.76" width="4.33" height="17.12" fill="#c0c0c0"/>
<rect x="149.38" y="400.88" width="4.33" height="17.12" fill="#c0c0c0"/>
<rect x="153.66" y="332.40" width="4.33" height="17.12" fill="#38864a"/>
<rect x="153.66" y="349.52" width="4.33" height="17.12" fill="#8daf91"/>
<rect x="153.66" y="366.64" width="4.33" height="17.12" fill="#aabaab"/>
<rect x="153.66" y="383.76" width="4.33" height="17.12" fill="#c0c0c0"/>
<rect x="153.66" y="400.88" width="4.33" height="17.12" fill="#c0c0c0"/>
<rect x="157.94" y="332.40" width="4.33" height="17.12" fill="#408a4f"/>
<rect x="157.94" y="349.52" width="4.33" height="17.12" fill="#98b49a"/>
<rect x="157.94" y="366.64" width="4.33" height="17.12" fill="#b1bcb2"/>
<rect x="157.94" y="383.76" width="4.33" height="17.12" fill="#c0c0c0"/>
<rect x="157.94" y="400.88" width="4.33" height="17.12" fill="#c0c0c0"/>
<rect x="162.22" y="332.40" width="4.33" height="17.12" fill="#408a4f"/>
<rect x="162.22" y="349.52" width="4.33" height="17.12" fill="#8daf91"/>
<rect x="162.22" y="366.64" width="4.33" height="17.12" fill="#b1bcb2"/>
<rect x="162.22" y="383.76" width="4.33" height="17.12" fill="#c0c0c0"/>
<rect x="162.22" y="400.88" width="4.33" height="17.12" fill="#c0c0c0"/>
<rect x="166.51" y="332.40" width="4.33" height="17.12" fill="#165028"/>
<rect x="166.51" y="349.52" width="4.33" height="17.12" fill="#408a4f"/>
<rect x="166.51" y="366.64" width="4.33" height="17.12" fill="#8daf91"/>
<rect x="166.51" y="383.76" width="4.33" height="17.12" fill="#c0c0c0"/>
<rect x="166.51" y="400.88" width="4.33" height="17.12" fill="#c0c0c0"/>
<rect x="170.79" y="332.40" width="4.33" height="17.12" fill="#308246"/>
<rect x="170.79" y="349.52" width="4.33" height="17.12" fill="#82aa88"/>
<rect x="170.79" y="366.64" width="4.33" height="17.12" fill="#c0c0c0"/>
<rect x="170.79" y="383.76" width="4.33" height="17.12" fill="#c0c0c0"/>
<rect x="170.79" y="400.88" width="4.33" height="17.12" fill="#c0c0c0"/>
<rect x="175.07" y="332.40" width="4.33" height="17.12" fill="#287d41"/>
<rect x="175.07" y="349.52" width="4.33" height="17.12" fill="#82aa88"/>
<rect x="175.07" y="366.64" width="4.33" height="17.12" fill="#c0c0c0"/>
<rect x="175.07" y="383.76" width="4.33" height="17.12" fill="#c0c0c0"/>
<rect x="175.07" y="400.88" width="4.33" height="17.12" fill="#c0c0c0"/>
<rect x="179.35" y="332.40" width="4.33" height="17.12" fill="#408a4f"/>
<rect x="179.35" y="349.52" width="4.33" height="17.12" fill="#aabaab"/>
<rect x="179.35" y="366.64" width="4.33" height="17.12" fill="#c0c0c0"/>
<rect x="179.35" y="383.76" width="4.33" height="17.12" fill="#c0c0c0"/>
<rect x="179.35" y="400.88" width="4.33" height="17.12" fill="#c0c0c0"/>
<rect x="183.63" y="332.40" width="4.33" height="17.12" fill="#38864a"/>
<rect x="183.63" y="349.52" width="4.33" height="17.12" fill="#82aa88"/>
<rect x="183.63" y="366.64" width="4.33" height="17.12" fill="#98b49a"/>
<rect x="183.63" y="383.76" width="4.33" height="17.12" fill="#c0c0c0"/>
<rect x="183.63" y="400.88" width="4.33" height="17.12" fill="#c0c0c0"/>
<rect x="187.91" y="332.40" width="4.33" height="17.12" fill="#408a4f"/>
<rect x="187.91" y="349.52" width="4.33" height="17.12" fill="#8daf91"/>
<rect x="187.91" y="366.64" width="4.33" height="17.12" fill="#98b49a"/>
<rect x="187.91" y="383.76" width="4.33" height="17.12" fill="#c0c0c0"/>
<rect x="187.91" y="400.88" width="4.33" height="17.12" fill="#c0c0c0"/>
<rect x="192.19" y="332.40" width="4.33" height="17.12" fill="#78a67e"/>
<rect x="192.19" y="349.52" width="4.33" height="17.12" fill="#c0c0c0"/>
<rect x="192.19" y="366.64" width="4.33" height="17.12" fill="#c0c0c0"/>
<rect x="192.19" y="383.76" width="4.33" height="17.12" fill="#c0c0c0"/>
<rect x="192.19" y="400.88" width="4.33" height="17.12" fill="#c0c0c0"/>
<rect x="196.47" y="332.40" width="4.33" height="17.12" fill="#5c9866"/>
<rect x="196.47" y="349.52" width="4.33" height="17.12" fill="#8daf91"/>
<rect x="196.47" y="366.64" width="4.33" height="17.12" fill="#98b49a"/>
<rect x="196.47" y="383.76" width="4.33" height="17.12" fill="#b1bcb2"/>
<rect x="196.47" y="400.88" width="4.33" height="17.12" fill="#c0c0c0"/>
<rect x="200.75" y="332.40" width="4.33" height="17.12" fill="#165028"/>
<rect x="200.75" y="349.52" width="4.33" height="17.12" fill="#165028"/>
<rect x="200.75" y="366.64" width="4.33" height="17.12" fill="#165028"/>
<rect x="200.75" y="383.76" width="4.33" height="17.12" fill="#165028"/>
<rect x="200.75" y="400.88" width="4.33" height="17.12" fill="#10351b"/>
<rect x="205.03" y="332.40" width="4.33" height="17.12" fill="#408a4f"/>
<rect x="205.03" y="349.52" width="4.33" height="17.12" fill="#82aa88"/>
<rect x="205.03" y="366.64" width="4.33" height="17.12" fill="#8daf91"/>
<rect x="205.03" y="383.76" width="4.33" height="17.12" fill="#c0c0c0"/>
<rect x="205.03" y="400.88" width="4.33" height="17.12" fill="#c0c0c0"/>
<rect x="209.32" y="332.40" width="4.33" height="17.12" fill="#408a4f"/>
<rect x="209.32" y="349.52" width="4.33" height="17.12" fill="#82aa88"/>
<rect x="209.32" y="366.64" width="4.33" height="17.12" fill="#98b49a"/>
<rect x="209.32" y="383.76" width="4.33" height="17.12" fill="#c0c0c0"/>
<rect x="209.32" y="400.88" width="4.33" height="17.12" fill="#c0c0c0"/>
<rect x="213.60" y="332.40" width="4.33" height="17.12" fill="#38864a"/>
<rect x="213.60" y="349.52" width="4.33" height="17.12" fill="#78a67e"/>
<rect x="213.60" y="366.64" width="4.33" height="17.12" fill="#82aa88"/>
<rect x="213.60" y="383.76" width="4.33" height="17.12" fill="#a2b8a4"/>
<rect x="213.60" y="400.88" width="4.33" height="17.12" fill="#aabaab"/>
<rect x="217.88" y="332.40" width="4.33" height="17.12" fill="#38864a"/>
<rect x="217.88" y="349.52" width="4.33" height="17.12" fill="#82aa88"/>
<rect x="217.88" y="366.64" width="4.33" height="17.12" fill="#98b49a"/>
<rect x="217.88" y="383.76" width="4.33" height="17.12" fill="#c0c0c0"/>
<rect x="217.88" y="400.88" width="4.33" height="17.12" fill="#c0c0c0"/>
<rect x="222.16" y="332.40" width="4.33" height="17.12" fill="#308246"/>
<rect x="222.16" y="349.52" width="4.33" height="17.12" fill="#82aa88"/>
<rect x="222.16" y="366.64" width="4.33" height="17.12" fill="#b1bcb2"/>
<rect x="222.16" y="383.76" width="4.33" height="17.12" fill="#c0c0c0"/>
<rect x="222.16" y="400.88" width="4.33" height="17.12" fill="#c0c0c0"/>
<rect x="226.44" y="332.40" width="4.33" height="17.12" fill="#308246"/>
<rect x="226.44" y="349.52" width="4.33" height="17.12" fill="#78a67e"/>
<rect x="226.44" y="366.64" width="4.33" height="17.12" fill="#82aa88"/>
<rect x="226.44" y="383.76" width="4.33" height="17.12" fill="#a2b8a4"/>
<rect x="226.44" y="400.88" width="4.33" height="17.12" fill="#c0c0c0"/>
<rect x="230.72" y="332.40" width="4.33" height="17.12" fill="#78a67e"/>
<rect x="230.72" y="349.52" width="4.33" height="17.12" fill="#c0c0c0"/>
<rect x="230.72" y="366.64" width="4.33" height="17.12" fill="#c0c0c0"/>
<rect x="230.72" y="383.76" width="4.33" height="17.12" fill="#c0c0c0"/>
<rect x="230.72" y="400.88" width="4.33" height="17.12" fill="#c0c0c0"/>
<rect x="235.00" y="332.40" width="4.33" height="17.12" fill="#78a67e"/>
<rect x="235.00" y="349.52" width="4.33" height="17.12" fill="#c0c0c0"/>
<rect x="235.00" y="366.64" width="4.33" height="17.12" fill="#c0c0c0"/>
<rect x="235.00" y="383.76" width="4.33" height="17.12" fill="#c0c0c0"/>
<rect x="235.00" y="400.88" width="4.33" height="17.12" fill="#c0c0c0"/>
<rect x="239.28" y="332.40" width="4.33" height="17.12" fill="#78a67e"/>
<rect x="239.28" y="349.52" width="4.33" height="17.12" fill="#b1bcb2"/>
<rect x="239.28" y="366.64" width="4.33" height="17.12" fill="#c0c0c0"/>
<rect x="239.28" y="383.76" width="4.33" height="17.12" fill="#c0c0c0"/>
<rect x="239.28" y="400.88" width="4.33" height="17.12" fill="#c0c0c0"/>
<rect x="243.56" y="332.40" width="4.33" height="17.12" fill="#82aa88"/>
<rect x="243.56" y="349.52" width="4.33" height="17.12" fill="#b1bcb2"/>
<rect x="243.56" y="366.64" width="4.33" height="17.12" fill="#c0c0c0"/>
<rect x="243.56" y="383.76" width="4.33" height="17.12" fill="#c0c0c0"/>
<rect x="243.56" y="400.88" width="4.33" height="17.12" fill="#c0c0c0"/>
<rect x="247.84" y="332.40" width="4.33" height="17.12" fill="#4e915b"/>
<rect x="247.84" y="349.52" width="4.33" height="17.12" fill="#aabaab"/>
<rect x="247.84" y="366.64" width="4.33" height="17.12" fill="#b8beb9"/>
<rect x="247.84" y="383.76" width="4.33" height="17.12" fill="#c0c0c0"/>
<rect x="247.84" y="400.88" width="4.33" height="17.12" fill="#c0c0c0"/>
<rect x="252.13" y="332.40" width="4.33" height="17.12" fill="#38864a"/>
<rect x="252.13" y="349.52" width="4.33" height="17.12" fill="#aabaab"/>
<rect x="252.13" y="366.64" width="4.33" height="17.12" fill="#b1bcb2"/>
<rect x="252.13" y="383.76" width="4.33" height="17.12" fill="#c0c0c0"/>
<rect x="252.13" y="400.88" width="4.33" height="17.12" fill="#c0c0c0"/>
<rect x="256.41" y="332.40" width="4.33" height="17.12" fill="#38864a"/>
<rect x="256.41" y="349.52" width="4.33" height="17.12" fill="#82aa88"/>
<rect x="256.41" y="366.64" width="4.33" height="17.12" fill="#82aa88"/>
<rect x="256.41" y="383.76" width="4.33" height="17.12" fill="#aabaab"/>
<rect x="256.41" y="400.88" width="4.33" height="17.12" fill="#aabaab"/>
<rect x="260.69" y="332.40" width="4.33" height="17.12" fill="#408a4f"/>
<rect x="260.69" y="349.52" width="4.33" height="17.12" fill="#8daf91"/>
<rect x="260.69" y="366.64" width="4.33" height="17.12" fill="#98b49a"/>
<rect x="260.69" y="383.76" width="4.33" height="17.12" fill="#a2b8a4"/>
<rect x="260.69" y="400.88" width="4.33" height="17.12" fill="#98b49a"/>
<rect x="264.97" y="332.40" width="4.33" height="17.12" fill="#82aa88"/>
<rect x="264.97" y="349.52" width="4.33" height="17.12" fill="#8daf91"/>
<rect x="264.97" y="366.64" width="4.33" height="17.12" fill="#aabaab"/>
<rect x="264.97" y="383.76" width="4.33" height="17.12" fill="#b1bcb2"/>
<rect x="264.97" y="400.88" width="4.33" height="17.12" fill="#c0c0c0"/>
<rect x="269.25" y="332.40" width="4.33" height="17.12" fill="#38864a"/>
<rect x="269.25" y="349.52" width="4.33" height="17.12" fill="#8daf91"/>
<rect x="269.25" y="366.64" width="4.33" height="17.12" fill="#aabaab"/>
<rect x="269.25" y="383.76" width="4.33" height="17.12" fill="#c0c0c0"/>
<rect x="269.25" y="400.88" width="4.33" height="17.12" fill="#c0c0c0"/>
<rect x="273.53" y="332.40" width="4.33" height="17.12" fill="#5c9866"/>
<rect x="273.53" y="349.52" width="4.33" height="17.12" fill="#c0c0c0"/>
<rect x="273.53" y="366.64" width="4.33" height="17.12" fill="#c0c0c0"/>
<rect x="273.53" y="383.76" width="4.33" height="17.12" fill="#c0c0c0"/>
<rect x="273.53" y="400.88" width="4.33" height="17.12" fill="#c0c0c0"/>
<rect x="277.81" y="332.40" width="4.33" height="17.12" fill="#5c9866"/>
<rect x="277.81" y="349.52" width="4.33" height="17.12" fill="#aabaab"/>
<rect x="277.81" y="366.64" width="4.33" height="17.12" fill="#c0c0c0"/>
<rect x="277.81" y="383.76" width="4.33" height="17.12" fill="#c0c0c0"/>
<rect x="277.81" y="400.88" width="4.33" height="17.12" fill="#c0c0c0"/>
<rect x="282.09" y="332.40" width="4.33" height="17.12" fill="#5c9866"/>
<rect x="282.09" y="349.52" width="4.33" height="17.12" fill="#aabaab"/>
<rect x="282.09" y="366.64" width="4.33" height="17.12" fill="#c0c0c0"/>
<rect x="282.09" y="383.76" width="4.33" height="17.12" fill="#c0c0c0"/>
<rect x="282.09" y="400.88" width="4.33" height="17.12" fill="#c0c0c0"/>
<rect x="286.37" y="332.40" width="4.33" height="17.12" fill="#20793c"/>
<rect x="286.37" y="349.52" width="4.33" height="17.12" fill="#a2b8a4"/>
<rect x="286.37" y="366.64" width="4.33" height="17.12" fill="#8daf91"/>
<rect x="286.37" y="383.76" width="4.33" height="17.12" fill="#a2b8a4"/>
<rect x="286.37" y="400.88" width="4.33" height="17.12" fill="#408a4f"/>
<rect x="290.65" y="332.40" width="4.33" height="17.12" fill="#5c9866"/>
<rect x="290.65" y="349.52" width="4.33" height="17.12" fill="#aabaab"/>
<rect x="290.65" y="366.64" width="4.33" height="17.12" fill="#c0c0c0"/>
<rect x="290.65" y="383.76" width="4.33" height="17.12" fill="#c0c0c0"/>
<rect x="290.65" y="400.88" width="4.33" height="17.12" fill="#c0c0c0"/>
<rect x="294.94" y="332.40" width="4.33" height="17.12" fill="#6a9f72"/>
<rect x="294.94" y="349.52" width="4.33" height="17.12" fill="#b1bcb2"/>
<rect x="294.94" y="366.64" width="4.33" height="17.12" fill="#c0c0c0"/>
<rect x="294.94" y="383.76" width="4.33" height="17.12" fill="#c0c0c0"/>
<rect x="294.94" y="400.88" width="4.33" height="17.12" fill="#c0c0c0"/>
<rect x="299.22" y="332.40" width="4.33" height="17.12" fill="#38864a"/>
<rect x="299.22" y="349.52" width="4.33" height="17.12" fill="#8daf91"/>
<rect x="299.22" y="366.64" width="4.33" height="17.12" fill="#aabaab"/>
<rect x="299.22" y="383.76" width="4.33" height="17.12" fill="#c0c0c0"/>
<rect x="299.22" y="400.88" width="4.33" height="17.12" fill="#c0c0c0"/>
<rect x="303.50" y="332.40" width="4.33" height="17.12" fill="#408a4f"/>
<rect x="303.50" y="349.52" width="4.33" height="17.12" fill="#b1bcb2"/>
<rect x="303.50" y="366.64" width="4.33" height="17.12" fill="#c0c0c0"/>
<rect x="303.50" y="383.76" width="4.33" height="17.12" fill="#c0c0c0"/>
<rect x="303.50" y="400.88" width="4.33" height="17.12" fill="#c0c0c0"/>
<rect x="307.78" y="332.40" width="4.33" height="17.12" fill="#4e915b"/>
<rect x="307.78" y="349.52" width="4.33" height="17.12" fill="#b1bcb2"/>
<rect x="307.78" y="366.64" width="4.33" height="17.12" fill="#c0c0c0"/>
<rect x="307.78" y="383.76" width="4.33" height="17.12" fill="#c0c0c0"/>
<rect x="307.78" y="400.88" width="4.33" height="17.12" fill="#c0c0c0"/>
<rect x="312.06" y="332.40" width="4.33" height="17.12" fill="#38864a"/>
<rect x="312.06" y="349.52" width="4.33" height="17.12" fill="#82aa88"/>
<rect x="312.06" y="366.64" width="4.33" height="17.12" fill="#82aa88"/>
<rect x="312.06" y="383.76" width="4.33" height="17.12" fill="#b1bcb2"/>
<rect x="312.06" y="400.88" width="4.33" height="17.12" fill="#c0c0c0"/>
<rect x="316.34" y="332.40" width="4.33" height="17.12" fill="#287d41"/>
<rect x="316.34" y="349.52" width="4.33" height="17.12" fill="#82aa88"/>
<rect x="316.34" y="366.64" width="4.33" height="17.12" fill="#8daf91"/>
<rect x="316.34" y="383.76" width="4.33" height="17.12" fill="#b1bcb2"/>
<rect x="316.34" y="400.88" width="4.33" height="17.12" fill="#c0c0c0"/>
<rect x="320.62" y="332.40" width="4.33" height="17.12" fill="#4e915b"/>
<rect x="320.62" y="349.52" width="4.33" height="17.12" fill="#c0c0c0"/>
<rect x="320.62" y="366.64" width="4.33" height="17.12" fill="#c0c0c0"/>
<rect x="320.62" y="383.76" width="4.33" height="17.12" fill="#c0c0c0"/>
<rect x="320.62" y="400.88" width="4.33" height="17.12" fill="#c0c0c0"/>
<rect x="324.90" y="332.40" width="4.33" height="17.12" fill="#165028"/>
<rect x="324.90" y="349.52" width="4.33" height="17.12" fill="#82aa88"/>
<rect x="324.90" y="366.64" width="4.33" height="17.12" fill="#b1bcb2"/>
<rect x="324.90" y="383.76" width="4.33" height="17.12" fill="#c0c0c0"/>
<rect x="324.90" y="400.88" width="4.33" height="17.12" fill="#c0c0c0"/>
<rect x="329.18" y="332.40" width="4.33" height="17.12" fill="#408a4f"/>
<rect x="329.18" y="349.52" width="4.33" height="17.12" fill="#8daf91"/>
<rect x="329.18" y="366.64" width="4.33" height="17.12" fill="#aabaab"/>
<rect x="329.18" y="383.76" width="4.33" height="17.12" fill="#c0c0c0"/>
<rect x="329.18" y="400.88" width="4.33" height="17.12" fill="#c0c0c0"/>
<rect x="333.46" y="332.40" width="4.33" height="17.12" fill="#165028"/>
<rect x="333.46" y="349.52" width="4.33" height="17.12" fill="#82aa88"/>
<rect x="333.46" y="366.64" width="4.33" height="17.12" fill="#b1bcb2"/>
<rect x="333.46" y="383.76" width="4.33" height="17.12" fill="#c0c0c0"/>
<rect x="333.46" y="400.88" width="4.33" height="17.12" fill="#c0c0c0"/>
<rect x="337.75" y="332.40" width="4.33" height="17.12" fill="#408a4f"/>
<rect x="337.75" y="349.52" width="4.33" height="17.12" fill="#8daf91"/>
<rect x="337.75" y="366.64" width="4.33" height="17.12" fill="#a2b8a4"/>
<rect x="337.75" y="383.76" width="4.33" height="17.12" fill="#c0c0c0"/>
<rect x="337.75" y="400.88" width="4.33" height="17.12" fill="#c0c0c0"/>
<rect x="342.03" y="332.40" width="4.33" height="17.12" fill="#408a4f"/>
<rect x="342.03" y="349.52" width="4.33" height="17.12" fill="#8daf91"/>
<rect x="342.03" y="366.64" width="4.33" height="17.12" fill="#a2b8a4"/>
<rect x="342.03" y="383.76" width="4.33" height="17.12" fill="#b8beb9"/>
<rect x="342.03" y="400.88" width="4.33" height="17.12" fill="#c0c0c0"/>
<rect x="346.31" y="332.40" width="4.33" height="17.12" fill="#408a4f"/>
<rect x="346.31" y="349.52" width="4.33" height="17.12" fill="#8daf91"/>
<rect x="346.31" y="366.64" width="4.33" height="17.12" fill="#a2b8a4"/>
<rect x="346.31" y="383.76" width="4.33" height="17.12" fill="#c0c0c0"/>
<rect x="346.31" y="400.88" width="4.33" height="17.12" fill="#c0c0c0"/>
<rect x="350.59" y="332.40" width="4.33" height="17.12" fill="#38864a"/>
<rect x="350.59" y="349.52" width="4.33" height="17.12" fill="#78a67e"/>
<rect x="350.59" y="366.64" width="4.33" height="17.12" fill="#82aa88"/>
<rect x="350.59" y="383.76" width="4.33" height="17.12" fill="#b8beb9"/>
<rect x="350.59" y="400.88" width="4.33" height="17.12" fill="#c0c0c0"/>
<rect x="354.87" y="332.40" width="4.33" height="17.12" fill="#10351b"/>
<rect x="354.87" y="349.52" width="4.33" height="17.12" fill="#10351b"/>
<rect x="354.87" y="366.64" width="4.33" height="17.12" fill="#10351b"/>
<rect x="354.87" y="383.76" width="4.33" height="17.12" fill="#8daf91"/>
<rect x="354.87" y="400.88" width="4.33" height="17.12" fill="#aabaab"/>
<rect x="359.15" y="332.40" width="4.33" height="17.12" fill="#6a9f72"/>
<rect x="359.15" y="349.52" width="4.33" height="17.12" fill="#b1bcb2"/>
<rect x="359.15" y="366.64" width="4.33" height="17.12" fill="#c0c0c0"/>
<rect x="359.15" y="383.76" width="4.33" height="17.12" fill="#c0c0c0"/>
<rect x="359.15" y="400.88" width="4.33" height="17.12" fill="#c0c0c0"/>
<rect x="363.43" y="332.40" width="4.33" height="17.12" fill="#20793c"/>
<rect x="363.43" y="349.52" width="4.33" height="17.12" fill="#5c9866"/>
<rect x="363.43" y="366.64" width="4.33" height="17.12" fill="#6a9f72"/>
<rect x="363.43" y="383.76" width="4.33" height="17.12" fill="#b1bcb2"/>
<rect x="363.43" y="400.88" width="4.33" height="17.12" fill="#c0c0c0"/>
<rect x="367.71" y="332.40" width="4.33" height="17.12" fill="#20793c"/>
<rect x="367.71" y="349.52" width="4.33" height="17.12" fill="#308246"/>
<rect x="367.71" y="366.64" width="4.33" height="17.12" fill="#6a9f72"/>
<rect x="367.71" y="383.76" width="4.33" height="17.12" fill="#b1bcb2"/>
<rect x="367.71" y="400.88" width="4.33" height="17.12" fill="#c0c0c0"/>
<rect x="371.99" y="332.40" width="4.33" height="17.12" fill="#38864a"/>
<rect x="371.99" y="349.52" width="4.33" height="17.12" fill="#82aa88"/>
<rect x="371.99" y="366.64" width="4.33" height="17.12" fill="#98b49a"/>
<rect x="371.99" y="383.76" width="4.33" height="17.12" fill="#c0c0c0"/>
<rect x="371.99" y="400.88" width="4.33" height="17.12" fill="#c0c0c0"/>
<rect x="376.27" y="332.40" width="4.33" height="17.12" fill="#287d41"/>
<rect x="376.27" y="349.52" width="4.33" height="17.12" fill="#6a9f72"/>
<rect x="376.27" y="366.64" width="4.33" height="17.12" fill="#78a67e"/>
<rect x="376.27" y="383.76" width="4.33" height="17.12" fill="#b8beb9"/>
<rect x="376.27" y="400.88" width="4.33" height="17.12" fill="#c0c0c0"/>
<rect x="380.56" y="332.40" width="4.33" height="17.12" fill="#38864a"/>
<rect x="380.56" y="349.52" width="4.33" height="17.12" fill="#8daf91"/>
<rect x="380.56" y="366.64" width="4.33" height="17.12" fill="#a2b8a4"/>
<rect x="380.56" y="383.76" width="4.33" height="17.12" fill="#c0c0c0"/>
<rect x="380.56" y="400.88" width="4.33" height="17.12" fill="#c0c0c0"/>
<rect x="384.84" y="332.40" width="4.33" height="17.12" fill="#308246"/>
<rect x="384.84" y="349.52" width="4.33" height="17.12" fill="#6a9f72"/>
<rect x="384.84" y="366.64" width="4.33" height="17.12" fill="#78a67e"/>
<rect x="384.84" y="383.76" width="4.33" height="17.12" fill="#c0c0c0"/>
<rect x="384.84" y="400.88" width="4.33" height="17.12" fill="#c0c0c0"/>
<rect x="389.12" y="332.40" width="4.33" height="17.12" fill="#308246"/>
<rect x="389.12" y="349.52" width="4.33" height="17.12" fill="#6a9f72"/>
<rect x="389.12" y="366.64" width="4.33" height="17.12" fill="#8daf91"/>
<rect x="389.12" y="383.76" width="4.33" height="17.12" fill="#c0c0c0"/>
<rect x="389.12" y="400.88" width="4.33" height="17.12" fill="#c0c0c0"/>
<rect x="393.40" y="332.40" width="4.33" height="17.12" fill="#287d41"/>
<rect x="393.40" y="349.52" width="4.33" height="17.12" fill="#78a67e"/>
<rect x="393.40" y="366.64" width="4.33" height="17.12" fill="#78a67e"/>
<rect x="393.40" y="383.76" width="4.33" height="17.12" fill="#c0c0c0"/>
<rect x="393.40" y="400.88" width="4.33" height="17.12" fill="#c0c0c0"/>
<rect x="397.68" y="332.40" width="4.33" height="17.12" fill="#287d41"/>
<rect x="397.68" y="349.52" width="4.33" height="17.12" fill="#82aa88"/>
<rect x="397.68" y="366.64" width="4.33" height="17.12" fill="#8daf91"/>
<rect x="397.68" y="383.76" width="4.33" height="17.12" fill="#a2b8a4"/>
<rect x="397.68" y="400.88" width="4.33" height="17.12" fill="#98b49a"/>
<rect x="401.96" y="332.40" width="4.33" height="17.12" fill="#6a9f72"/>
<rect x="401.96" y="349.52" width="4.33" height="17.12" fill="#b1bcb2"/>
<rect x="401.96" y="366.64" width="4.33" height="17.12" fill="#c0c0c0"/>
<rect x="401.96" y="383.76" width="4.33" height="17.12" fill="#c0c0c0"/>
<rect x="401.96" y="400.88" width="4.33" height="17.12" fill="#c0c0c0"/>
<rect x="406.24" y="332.40" width="4.33" height="17.12" fill="#4e915b"/>
<rect x="406.24" y="349.52" width="4.33" height="17.12" fill="#6a9f72"/>
<rect x="406.24" y="366.64" width="4.33" height="17.12" fill="#5c9866"/>
<rect x="406.24" y="383.76" width="4.33" height="17.12" fill="#a2b8a4"/>
<rect x="406.24" y="400.88" width="4.33" height="17.12" fill="#4e915b"/>
<rect x="410.52" y="332.40" width="4.33" height="17.12" fill="#a2b8a4"/>
<rect x="410.52" y="349.52" width="4.33" height="17.12" fill="#aabaab"/>
<rect x="410.52" y="366.64" width="4.33" height="17.12" fill="#b1bcb2"/>
<rect x="410.52" y="383.76" width="4.33" height="17.12" fill="#b1bcb2"/>
<rect x="410.52" y="400.88" width="4.33" height="17.12" fill="#a2b8a4"/>
<rect x="414.80" y="332.40" width="4.33" height="17.12" fill="#38864a"/>
<rect x="414.80" y="349.52" width="4.33" height="17.12" fill="#82aa88"/>
<rect x="414.80" y="366.64" width="4.33" height="17.12" fill="#8daf91"/>
<rect x="414.80" y="383.76" width="4.33" height="17.12" fill="#a2b8a4"/>
<rect x="414.80" y="400.88" width="4.33" height="17.12" fill="#98b49a"/>
<rect x="419.08" y="332.40" width="4.33" height="17.12" fill="#408a4f"/>
<rect x="419.08" y="349.52" width="4.33" height="17.12" fill="#82aa88"/>
<rect x="419.08" y="366.64" width="4.33" height="17.12" fill="#8daf91"/>
<rect x="419.08" y="383.76" width="4.33" height="17.12" fill="#c0c0c0"/>
<rect x="419.08" y="400.88" width="4.33" height="17.12" fill="#c0c0c0"/>
<rect x="423.37" y="332.40" width="4.33" height="17.12" fill="#1b6532"/>
<rect x="423.37" y="349.52" width="4.33" height="17.12" fill="#82aa88"/>
<rect x="423.37" y="366.64" width="4.33" height="17.12" fill="#98b49a"/>
<rect x="423.37" y="383.76" width="4.33" height="17.12" fill="#c0c0c0"/>
<rect x="423.37" y="400.88" width="4.33" height="17.12" fill="#c0c0c0"/>
<rect x="427.65" y="332.40" width="4.33" height="17.12" fill="#5c9866"/>
<rect x="427.65" y="349.52" width="4.33" height="17.12" fill="#a2b8a4"/>
<rect x="427.65" y="366.64" width="4.33" height="17.12" fill="#aabaab"/>
<rect x="427.65" y="383.76" width="4.33" height="17.12" fill="#308246"/>
<rect x="427.65" y="400.88" width="4.33" height="17.12" fill="#287d41"/>
<rect x="431.93" y="332.40" width="4.33" height="17.12" fill="#82aa88"/>
<rect x="431.93" y="349.52" width="4.33" height="17.12" fill="#b1bcb2"/>
<rect x="431.93" y="366.64" width="4.33" height="17.12" fill="#c0c0c0"/>
<rect x="431.93" y="383.76" width="4.33" height="17.12" fill="#c0c0c0"/>
<rect x="431.93" y="400.88" width="4.33" height="17.12" fill="#c0c0c0"/>
<rect x="436.21" y="332.40" width="4.33" height="17.12" fill="#408a4f"/>
<rect x="436.21" y="349.52" width="4.33" height="17.12" fill="#8daf91"/>
<rect x="436.21" y="366.64" width="4.33" height="17.12" fill="#8daf91"/>
<rect x="436.21" y="383.76" width="4.33" height="17.12" fill="#8daf91"/>
<rect x="436.21" y="400.88" width="4.33" height="17.12" fill="#98b49a"/>
<rect x="440.49" y="332.40" width="4.33" height="17.12" fill="#20793c"/>
<rect x="440.49" y="349.52" width="4.33" height="17.12" fill="#82aa88"/>
<rect x="440.49" y="366.64" width="4.33" height="17.12" fill="#8daf91"/>
<rect x="440.49" y="383.76" width="4.33" height="17.12" fill="#8daf91"/>
<rect x="440.49" y="400.88" width="4.33" height="17.12" fill="#98b49a"/>
<rect x="444.77" y="332.40" width="4.33" height="17.12" fill="#8daf91"/>
<rect x="444.77" y="349.52" width="4.33" height="17.12" fill="#c0c0c0"/>
<rect x="444.77" y="366.64" width="4.33" height="17.12" fill="#c0c0c0"/>
<rect x="444.77" y="383.76" width="4.33" height="17.12" fill="#c0c0c0"/>
<rect x="444.77" y="400.88" width="4.33" height="17.12" fill="#c0c0c0"/>
<rect x="449.05" y="332.40" width="4.33" height="17.12" fill="#408a4f"/>
<rect x="449.05" y="349.52" width="4.33" height="17.12" fill="#a2b8a4"/>
<rect x="449.05" y="366.64" width="4.33" height="17.12" fill="#b1bcb2"/>
<rect x="449.05" y="383.76" width="4.33" height="17.12" fill="#8daf91"/>
<rect x="449.05" y="400.88" width="4.33" height="17.12" fill="#82aa88"/>
<rect x="453.33" y="332.40" width="4.33" height="17.12" fill="#4e915b"/>
<rect x="453.33" y="349.52" width="4.33" height="17.12" fill="#b1bcb2"/>
<rect x="453.33" y="366.64" width="4.33" height="17.12" fill="#c0c0c0"/>
<rect x="453.33" y="383.76" width="4.33" height="17.12" fill="#c0c0c0"/>
<rect x="453.33" y="400.88" width="4.33" height="17.12" fill="#c0c0c0"/>
<rect x="457.61" y="332.40" width="4.33" height="17.12" fill="#20793c"/>
<rect x="457.61" y="349.52" width="4.33" height="17.12" fill="#10351b"/>
<rect x="457.61" y="366.64" width="4.33" height="17.12" fill="#20793c"/>
<rect x="457.61" y="383.76" width="4.33" height="17.12" fill="#4e915b"/>
<rect x="457.61" y="400.88" width="4.33" height="17.12" fill="#308246"/>
<rect x="461.89" y="332.40" width="4.33" height="17.12" fill="#38864a"/>
<rect x="461.89" y="349.52" width="4.33" height="17.12" fill="#aabaab"/>
<rect x="461.89" y="366.64" width="4.33" height="17.12" fill="#c0c0c0"/>
<rect x="461.89" y="383.76" width="4.33" height="17.12" fill="#c0c0c0"/>
<rect x="461.89" y="400.88" width="4.33" height="17.12" fill="#c0c0c0"/>
<rect x="466.18" y="332.40" width="4.33" height="17.12" fill="#38864a"/>
<rect x="466.18" y="349.52" width="4.33" height="17.12" fill="#8daf91"/>
<rect x="466.18" y="366.64" width="4.33" height="17.12" fill="#98b49a"/>
<rect x="466.18" y="383.76" width="4.33" height="17.12" fill="#c0c0c0"/>
<rect x="466.18" y="400.88" width="4.33" height="17.12" fill="#c0c0c0"/>
<rect x="470.46" y="332.40" width="4.33" height="17.12" fill="#308246"/>
<rect x="470.46" y="349.52" width="4.33" height="17.12" fill="#8daf91"/>
<rect x="470.46" y="366.64" width="4.33" height="17.12" fill="#98b49a"/>
<rect x="470.46" y="383.76" width="4.33" height="17.12" fill="#b1bcb2"/>
<rect x="470.46" y="400.88" width="4.33" height="17.12" fill="#b1bcb2"/>
<rect x="474.74" y="332.40" width="4.33" height="17.12" fill="#5c9866"/>
<rect x="474.74" y="349.52" width="4.33" height="17.12" fill="#aabaab"/>
<rect x="474.74" y="366.64" width="4.33" height="17.12" fill="#c0c0c0"/>
<rect x="474.74" y="383.76" width="4.33" height="17.12" fill="#c0c0c0"/>
<rect x="474.74" y="400.88" width="4.33" height="17.12" fill="#c0c0c0"/>
<rect x="479.02" y="332.40" width="4.33" height="17.12" fill="#408a4f"/>
<rect x="479.02" y="349.52" width="4.33" height="17.12" fill="#8daf91"/>
<rect x="479.02" y="366.64" width="4.33" height="17.12" fill="#98b49a"/>
<rect x="479.02" y="383.76" width="4.33" height="17.12" fill="#c0c0c0"/>
<rect x="479.02" y="400.88" width="4.33" height="17.12" fill="#c0c0c0"/>
<rect x="483.30" y="332.40" width="4.33" height="17.12" fill="#408a4f"/>
<rect x="483.30" y="349.52" width="4.33" height="17.12" fill="#b8beb9"/>
<rect x="483.30" y="366.64" width="4.33" height="17.12" fill="#c0c0c0"/>
<rect x="483.30" y="383.76" width="4.33" height="17.12" fill="#c0c0c0"/>
<rect x="483.30" y="400.88" width="4.33" height="17.12" fill="#c0c0c0"/>
<rect x="487.58" y="332.40" width="4.33" height="17.12" fill="#38864a"/>
<rect x="487.58" y="349.52" width="4.33" height="17.12" fill="#78a67e"/>
<rect x="487.58" y="366.64" width="4.33" height="17.12" fill="#b1bcb2"/>
<rect x="487.58" y="383.76" width="4.33" height="17.12" fill="#a2b8a4"/>
<rect x="487.58" y="400.88" width="4.33" height="17.12" fill="#c0c0c0"/>
<rect x="491.86" y="332.40" width="4.33" height="17.12" fill="#287d41"/>
<rect x="491.86" y="349.52" width="4.33" height="17.12" fill="#82aa88"/>
<rect x="491.86" y="366.64" width="4.33" height="17.12" fill="#8daf91"/>
<rect x="491.86" y="383.76" width="4.33" height="17.12" fill="#c0c0c0"/>
<rect x="491.86" y="400.88" width="4.33" height="17.12" fill="#c0c0c0"/>
<rect x="496.14" y="332.40" width="4.33" height="17.12" fill="#287d41"/>
<rect x="496.14" y="349.52" width="4.33" height="17.12" fill="#aabaab"/>
<rect x="496.14" y="366.64" width="4.33" height="17.12" fill="#c0c0c0"/>
<rect x="496.14" y="383.76" width="4.33" height="17.12" fill="#c0c0c0"/>
<rect x="496.14" y="400.88" width="4.33" height="17.12" fill="#c0c0c0"/>
<rect x="500.42" y="332.40" width="4.33" height="17.12" fill="#308246"/>
<rect x="500.42" y="349.52" width="4.33" height="17.12" fill="#aabaab"/>
<rect x="500.42" y="366.64" width="4.33" height="17.12" fill="#c0c0c0"/>
<rect x="500.42" y="383.76" width="4.33" height="17.12" fill="#c0c0c0"/>
<rect x="500.42" y="400.88" width="4.33" height="17.12" fill="#c0c0c0"/>
<rect x="504.70" y="332.40" width="4.33" height="17.12" fill="#308246"/>
<rect x="504.70" y="349.52" width="4.33" height="17.12" fill="#8daf91"/>
<rect x="504.70" y="366.64" width="4.33" height="17.12" fill="#8daf91"/>
<rect x="504.70" y="383.76" width="4.33" height="17.12" fill="#c0c0c0"/>
<rect x="504.70" y="400.88" width="4.33" height="17.12" fill="#c0c0c0"/>
<rect x="508.99" y="332.40" width="4.33" height="17.12" fill="#408a4f"/>
<rect x="508.99" y="349.52" width="4.33" height="17.12" fill="#c0c0c0"/>
<rect x="508.99" y="366.64" width="4.33" height="17.12" fill="#c0c0c0"/>
<rect x="508.99" y="383.76" width="4.33" height="17.12" fill="#c0c0c0"/>
<rect x="508.99" y="400.88" width="4.33" height="17.12" fill="#c0c0c0"/>
<rect x="513.27" y="332.40" width="4.33" height="17.12" fill="#20793c"/>
<rect x="513.27" y="349.52" width="4.33" height="17.12" fill="#5c9866"/>
<rect x="513.27" y="366.64" width="4.33" height="17.12" fill="#78a67e"/>
<rect x="513.27" y="383.76" width="4.33" height="17.12" fill="#82aa88"/>
<rect x="513.27" y="400.88" width="4.33" height="17.12" fill="#82aa88"/>
<rect x="517.55" y="332.40" width="4.33" height="17.12" fill="#287d41"/>
<rect x="517.55" y="349.52" width="4.33" height="17.12" fill="#b1bcb2"/>
<rect x="517.55" y="366.64" width="4.33" height="17.12" fill="#c0c0c0"/>
<rect x="517.55" y="383.76" width="4.33" height="17.12" fill="#c0c0c0"/>
<rect x="517.55" y="400.88" width="4.33" height="17.12" fill="#c0c0c0"/>
<rect x="521.83" y="332.40" width="4.33" height="17.12" fill="#287d41"/>
<rect x="521.83" y="349.52" width="4.33" height="17.12" fill="#a2b8a4"/>
<rect x="521.83" y="366.64" width="4.33" height="17.12" fill="#c0c0c0"/>
<rect x="521.83" y="383.76" width="4.33" height="17.12" fill="#c0c0c0"/>
<rect x="521.83" y="400.88" width="4.33" height="17.12" fill="#c0c0c0"/>
<rect x="526.11" y="332.40" width="4.33" height="17.12" fill="#4e915b"/>
<rect x="526.11" y="349.52" width="4.33" height="17.12" fill="#c0c0c0"/>
<rect x="526.11" y="366.64" width="4.33" height="17.12" fill="#c0c0c0"/>
<rect x="526.11" y="383.76" width="4.33" height="17.12" fill="#c0c0c0"/>
<rect x="526.11" y="400.88" width="4.33" height="17.12" fill="#c0c0c0"/>
<rect x="530.39" y="332.40" width="4.33" height="17.12" fill="#6a9f72"/>
<rect x="530.39" y="349.52" width="4.33" height="17.12" fill="#8daf91"/>
<rect x="530.39" y="366.64" width="4.33" height="17.12" fill="#8daf91"/>
<rect x="530.39" y="383.76" width="4.33" height="17.12" fill="#8daf91"/>
<rect x="530.39" y="400.88" width="4.33" height="17.12" fill="#8daf91"/>
<rect x="534.67" y="332.40" width="4.33" height="17.12" fill="#38864a"/>
<rect x="534.67" y="349.52" width="4.33" height="17.12" fill="#c0c0c0"/>
<rect x="534.67" y="366.64" width="4.33" height="17.12" fill="#c0c0c0"/>
<rect x="534.67" y="383.76" width="4.33" height="17.12" fill="#c0c0c0"/>
<rect x="534.67" y="400.88" width="4.33" height="17.12" fill="#c0c0c0"/>
<rect x="538.95" y="332.40" width="4.33" height="17.12" fill="#1b6532"/>
<rect x="538.95" y="349.52" width="4.33" height="17.12" fill="#6a9f72"/>
<rect x="538.95" y="366.64" width="4.33" height="17.12" fill="#6a9f72"/>
<rect x="538.95" y="383.76" width="4.33" height="17.12" fill="#aabaab"/>
<rect x="538.95" y="400.88" width="4.33" height="17.12" fill="#b1bcb2"/>
<rect x="543.23" y="332.40" width="4.33" height="17.12" fill="#408a4f"/>
<rect x="543.23" y="349.52" width="4.33" height="17.12" fill="#c0c0c0"/>
<rect x="543.23" y="366.64" width="4.33" height="17.12" fill="#c0c0c0"/>
<rect x="543.23" y="383.76" width="4.33" height="17.12" fill="#c0c0c0"/>
<rect x="543.23" y="400.88" width="4.33" height="17.12" fill="#c0c0c0"/>
<rect x="547.51" y="332.40" width="4.33" height="17.12" fill="#408a4f"/>
<rect x="547.51" y="349.52" width="4.33" height="17.12" fill="#c0c0c0"/>
<rect x="547.51" y="366.64" width="4.33" height="17.12" fill="#c0c0c0"/>
<rect x="547.51" y="383.76" width="4.33" height="17.12" fill="#c0c0c0"/>
<rect x="547.51" y="400.88" width="4.33" height="17.12" fill="#c0c0c0"/>
<rect x="551.80" y="332.40" width="4.33" height="17.12" fill="#408a4f"/>
<rect x="551.80" y="349.52" width="4.33" height="17.12" fill="#c0c0c0"/>
<rect x="551.80" y="366.64" width="4.33" height="17.12" fill="#c0c0c0"/>
<rect x="551.80" y="383.76" width="4.33" height="17.12" fill="#c0c0c0"/>
<rect x="551.80" y="400.88" width="4.33" height="17.12" fill="#c0c0c0"/>
<rect x="556.08" y="332.40" width="4.33" height="17.12" fill="#287d41"/>
<rect x="556.08" y="349.52" width="4.33" height="17.12" fill="#8daf91"/>
<rect x="556.08" y="366.64" width="4.33" height="17.12" fill="#c0c0c0"/>
<rect x="556.08" y="383.76" width="4.33" height="17.12" fill="#c0c0c0"/>
<rect x="556.08" y="400.88" width="4.33" height="17.12" fill="#c0c0c0"/>
<rect x="560.36" y="332.40" width="4.33" height="17.12" fill="#287d41"/>
<rect x="560.36" y="349.52" width="4.33" height="17.12" fill="#6a9f72"/>
<rect x="560.36" y="366.64" width="4.33" height="17.12" fill="#8daf91"/>
<rect x="560.36" y="383.76" width="4.33" height="17.12" fill="#98b49a"/>
<rect x="560.36" y="400.88" width="4.33" height="17.12" fill="#a2b8a4"/>
<rect x="564.64" y="332.40" width="4.33" height="17.12" fill="#4e915b"/>
<rect x="564.64" y="349.52" width="4.33" height="17.12" fill="#c0c0c0"/>
<rect x="564.64" y="366.64" width="4.33" height="17.12" fill="#c0c0c0"/>
<rect x="564.64" y="383.76" width="4.33" height="17.12" fill="#c0c0c0"/>
<rect x="564.64" y="400.88" width="4.33" height="17.12" fill="#c0c0c0"/>
<rect x="568.92" y="332.40" width="4.33" height="17.12" fill="#6a9f72"/>
<rect x="568.92" y="349.52" width="4.33" height="17.12" fill="#c0c0c0"/>
<rect x="568.92" y="366.64" width="4.33" height="17.12" fill="#c0c0c0"/>
<rect x="568.92" y="383.76" width="4.33" height="17.12" fill="#c0c0c0"/>
<rect x="568.92" y="400.88" width="4.33" height="17.12" fill="#c0c0c0"/>
<rect x="573.20" y="332.40" width="4.33" height="17.12" fill="#1b6532"/>
<rect x="573.20" y="349.52" width="4.33" height="17.12" fill="#82aa88"/>
<rect x="573.20" y="366.64" width="4.33" height="17.12" fill="#8daf91"/>
<rect x="573.20" y="383.76" width="4.33" height="17.12" fill="#8daf91"/>
<rect x="573.20" y="400.88" width="4.33" height="17.12" fill="#8daf91"/>
<rect x="577.48" y="332.40" width="4.33" height="17.12" fill="#408a4f"/>
<rect x="577.48" y="349.52" width="4.33" height="17.12" fill="#82aa88"/>
<rect x="577.48" y="366.64" width="4.33" height="17.12" fill="#a2b8a4"/>
<rect x="577.48" y="383.76" width="4.33" height="17.12" fill="#b1bcb2"/>
<rect x="577.48" y="400.88" width="4.33" height="17.12" fill="#a2b8a4"/>
<rect x="581.76" y="332.40" width="4.33" height="17.12" fill="#38864a"/>
<rect x="581.76" y="349.52" width="4.33" height="17.12" fill="#c0c0c0"/>
<rect x="581.76" y="366.64" width="4.33" height="17.12" fill="#c0c0c0"/>
<rect x="581.76" y="383.76" width="4.33" height="17.12" fill="#c0c0c0"/>
<rect x="581.76" y="400.88" width="4.33" height="17.12" fill="#c0c0c0"/>
<rect x="586.04" y="332.40" width="4.33" height="17.12" fill="#165028"/>
<rect x="586.04" y="349.52" width="4.33" height="17.12" fill="#20793c"/>
<rect x="586.04" y="366.64" width="4.33" height="17.12" fill="#20793c"/>
<rect x="586.04" y="383.76" width="4.33" height="17.12" fill="#98b49a"/>
<rect x="586.04" y="400.88" width="4.33" height="17.12" fill="#c0c0c0"/>
<rect x="590.33" y="332.40" width="4.33" height="17.12" fill="#308246"/>
<rect x="590.33" y="349.52" width="4.33" height="17.12" fill="#4e915b"/>
<rect x="590.33" y="366.64" width="4.33" height="17.12" fill="#5c9866"/>
<rect x="590.33" y="383.76" width="4.33" height="17.12" fill="#a2b8a4"/>
<rect x="590.33" y="400.88" width="4.33" height="17.12" fill="#c0c0c0"/>
<rect x="594.61" y="332.40" width="4.33" height="17.12" fill="#1b6532"/>
<rect x="594.61" y="349.52" width="4.33" height="17.12" fill="#38864a"/>
<rect x="594.61" y="366.64" width="4.33" height="17.12" fill="#4e915b"/>
<rect x="594.61" y="383.76" width="4.33" height="17.12" fill="#a2b8a4"/>
<rect x="594.61" y="400.88" width="4.33" height="17.12" fill="#c0c0c0"/>
<rect x="598.89" y="332.40" width="4.33" height="17.12" fill="#1b6532"/>
<rect x="598.89" y="349.52" width="4.33" height="17.12" fill="#38864a"/>
<rect x="598.89" y="366.64" width="4.33" height="17.12" fill="#408a4f"/>
<rect x="598.89" y="383.76" width="4.33" height="17.12" fill="#aabaab"/>
<rect x="598.89" y="400.88" width="4.33" height="17.12" fill="#c0c0c0"/>
<rect x="603.17" y="332.40" width="4.33" height="17.12" fill="#1b6532"/>
<rect x="603.17" y="349.52" width="4.33" height="17.12" fill="#38864a"/>
<rect x="603.17" y="366.64" width="4.33" height="17.12" fill="#5c9866"/>
<rect x="603.17" y="383.76" width="4.33" height="17.12" fill="#aabaab"/>
<rect x="603.17" y="400.88" width="4.33" height="17.12" fill="#c0c0c0"/>
<rect x="607.45" y="332.40" width="4.33" height="17.12" fill="#1b6532"/>
<rect x="607.45" y="349.52" width="4.33" height="17.12" fill="#408a4f"/>
<rect x="607.45" y="366.64" width="4.33" height="17.12" fill="#4e915b"/>
<rect x="607.45" y="383.76" width="4.33" height="17.12" fill="#a2b8a4"/>
<rect x="607.45" y="400.88" width="4.33" height="17.12" fill="#c0c0c0"/>
<rect x="611.73" y="332.40" width="4.33" height="17.12" fill="#308246"/>
<rect x="611.73" y="349.52" width="4.33" height="17.12" fill="#82aa88"/>
<rect x="611.73" y="366.64" width="4.33" height="17.12" fill="#c0c0c0"/>
<rect x="611.73" y="383.76" width="4.33" height="17.12" fill="#c0c0c0"/>
<rect x="611.73" y="400.88" width="4.33" height="17.12" fill="#c0c0c0"/>
<rect x="616.01" y="332.40" width="4.33" height="17.12" fill="#308246"/>
<rect x="616.01" y="349.52" width="4.33" height="17.12" fill="#82aa88"/>
<rect x="616.01" y="366.64" width="4.33" height="17.12" fill="#98b49a"/>
<rect x="616.01" y="383.76" width="4.33" height="17.12" fill="#c0c0c0"/>
<rect x="616.01" y="400.88" width="4.33" height="17.12" fill="#c0c0c0"/>
<rect x="620.29" y="332.40" width="4.33" height="17.12" fill="#38864a"/>
<rect x="620.29" y="349.52" width="4.33" height="17.12" fill="#8daf91"/>
<rect x="620.29" y="366.64" width="4.33" height="17.12" fill="#c0c0c0"/>
<rect x="620.29" y="383.76" width="4.33" height="17.12" fill="#c0c0c0"/>
<rect x="620.29" y="400.88" width="4.33" height="17.12" fill="#c0c0c0"/>
<line x1="59.48" y1="332.40" x2="59.48" y2="418.00" stroke="#ffffff" stroke-width="0.25" opacity="0.35"/>
<line x1="63.76" y1="332.40" x2="63.76" y2="418.00" stroke="#ffffff" stroke-width="0.25" opacity="0.35"/>
<line x1="68.04" y1="332.40" x2="68.04" y2="418.00" stroke="#ffffff" stroke-width="0.25" opacity="0.35"/>
<line x1="72.32" y1="332.40" x2="72.32" y2="418.00" stroke="#ffffff" stroke-width="0.25" opacity="0.35"/>
<line x1="76.61" y1="332.40" x2="76.61" y2="418.00" stroke="#ffffff" stroke-width="0.25" opacity="0.35"/>
<line x1="80.89" y1="332.40" x2="80.89" y2="418.00" stroke="#ffffff" stroke-width="0.25" opacity="0.35"/>
<line x1="85.17" y1="332.40" x2="85.17" y2="418.00" stroke="#ffffff" stroke-width="0.25" opacity="0.35"/>
<line x1="89.45" y1="332.40" x2="89.45" y2="418.00" stroke="#ffffff" stroke-width="0.25" opacity="0.35"/>
<line x1="93.73" y1="332.40" x2="93.73" y2="418.00" stroke="#ffffff" stroke-width="0.25" opacity="0.35"/>
<line x1="98.01" y1="332.40" x2="98.01" y2="418.00" stroke="#ffffff" stroke-width="0.25" opacity="0.35"/>
<line x1="102.29" y1="332.40" x2="102.29" y2="418.00" stroke="#ffffff" stroke-width="0.25" opacity="0.35"/>
<line x1="106.57" y1="332.40" x2="106.57" y2="418.00" stroke="#ffffff" stroke-width="0.25" opacity="0.35"/>
<line x1="110.85" y1="332.40" x2="110.85" y2="418.00" stroke="#ffffff" stroke-width="0.25" opacity="0.35"/>
<line x1="115.13" y1="332.40" x2="115.13" y2="418.00" stroke="#ffffff" stroke-width="0.25" opacity="0.35"/>
<line x1="119.41" y1="332.40" x2="119.41" y2="418.00" stroke="#ffffff" stroke-width="0.25" opacity="0.35"/>
<line x1="123.70" y1="332.40" x2="123.70" y2="418.00" stroke="#ffffff" stroke-width="0.25" opacity="0.35"/>
<line x1="127.98" y1="332.40" x2="127.98" y2="418.00" stroke="#ffffff" stroke-width="0.25" opacity="0.35"/>
<line x1="132.26" y1="332.40" x2="132.26" y2="418.00" stroke="#ffffff" stroke-width="0.25" opacity="0.35"/>
<line x1="136.54" y1="332.40" x2="136.54" y2="418.00" stroke="#ffffff" stroke-width="0.25" opacity="0.35"/>
<line x1="140.82" y1="332.40" x2="140.82" y2="418.00" stroke="#ffffff" stroke-width="0.25" opacity="0.35"/>
<line x1="145.10" y1="332.40" x2="145.10" y2="418.00" stroke="#ffffff" stroke-width="0.25" opacity="0.35"/>
<line x1="149.38" y1="332.40" x2="149.38" y2="418.00" stroke="#ffffff" stroke-width="0.25" opacity="0.35"/>
<line x1="153.66" y1="332.40" x2="153.66" y2="418.00" stroke="#ffffff" stroke-width="0.25" opacity="0.35"/>
<line x1="157.94" y1="332.40" x2="157.94" y2="418.00" stroke="#ffffff" stroke-width="0.25" opacity="0.35"/>
<line x1="162.22" y1="332.40" x2="162.22" y2="418.00" stroke="#ffffff" stroke-width="0.25" opacity="0.35"/>
<line x1="166.51" y1="332.40" x2="166.51" y2="418.00" stroke="#ffffff" stroke-width="0.25" opacity="0.35"/>
<line x1="170.79" y1="332.40" x2="170.79" y2="418.00" stroke="#ffffff" stroke-width="0.25" opacity="0.35"/>
<line x1="175.07" y1="332.40" x2="175.07" y2="418.00" stroke="#ffffff" stroke-width="0.25" opacity="0.35"/>
<line x1="179.35" y1="332.40" x2="179.35" y2="418.00" stroke="#ffffff" stroke-width="0.25" opacity="0.35"/>
<line x1="183.63" y1="332.40" x2="183.63" y2="418.00" stroke="#ffffff" stroke-width="0.25" opacity="0.35"/>
<line x1="187.91" y1="332.40" x2="187.91" y2="418.00" stroke="#ffffff" stroke-width="0.25" opacity="0.35"/>
<line x1="192.19" y1="332.40" x2="192.19" y2="418.00" stroke="#ffffff" stroke-width="0.25" opacity="0.35"/>
<line x1="196.47" y1="332.40" x2="196.47" y2="418.00" stroke="#ffffff" stroke-width="0.25" opacity="0.35"/>
<line x1="200.75" y1="332.40" x2="200.75" y2="418.00" stroke="#ffffff" stroke-width="0.25" opacity="0.35"/>
<line x1="205.03" y1="332.40" x2="205.03" y2="418.00" stroke="#ffffff" stroke-width="0.25" opacity="0.35"/>
<line x1="209.32" y1="332.40" x2="209.32" y2="418.00" stroke="#ffffff" stroke-width="0.25" opacity="0.35"/>
<line x1="213.60" y1="332.40" x2="213.60" y2="418.00" stroke="#ffffff" stroke-width="0.25" opacity="0.35"/>
<line x1="217.88" y1="332.40" x2="217.88" y2="418.00" stroke="#ffffff" stroke-width="0.25" opacity="0.35"/>
<line x1="222.16" y1="332.40" x2="222.16" y2="418.00" stroke="#ffffff" stroke-width="0.25" opacity="0.35"/>
<line x1="226.44" y1="332.40" x2="226.44" y2="418.00" stroke="#ffffff" stroke-width="0.25" opacity="0.35"/>
<line x1="230.72" y1="332.40" x2="230.72" y2="418.00" stroke="#ffffff" stroke-width="0.25" opacity="0.35"/>
<line x1="235.00" y1="332.40" x2="235.00" y2="418.00" stroke="#ffffff" stroke-width="0.25" opacity="0.35"/>
<line x1="239.28" y1="332.40" x2="239.28" y2="418.00" stroke="#ffffff" stroke-width="0.25" opacity="0.35"/>
<line x1="243.56" y1="332.40" x2="243.56" y2="418.00" stroke="#ffffff" stroke-width="0.25" opacity="0.35"/>
<line x1="247.84" y1="332.40" x2="247.84" y2="418.00" stroke="#ffffff" stroke-width="0.25" opacity="0.35"/>
<line x1="252.13" y1="332.40" x2="252.13" y2="418.00" stroke="#ffffff" stroke-width="0.25" opacity="0.35"/>
<line x1="256.41" y1="332.40" x2="256.41" y2="418.00" stroke="#ffffff" stroke-width="0.25" opacity="0.35"/>
<line x1="260.69" y1="332.40" x2="260.69" y2="418.00" stroke="#ffffff" stroke-width="0.25" opacity="0.35"/>
<line x1="264.97" y1="332.40" x2="264.97" y2="418.00" stroke="#ffffff" stroke-width="0.25" opacity="0.35"/>
<line x1="269.25" y1="332.40" x2="269.25" y2="418.00" stroke="#ffffff" stroke-width="0.25" opacity="0.35"/>
<line x1="273.53" y1="332.40" x2="273.53" y2="418.00" stroke="#ffffff" stroke-width="0.25" opacity="0.35"/>
<line x1="277.81" y1="332.40" x2="277.81" y2="418.00" stroke="#ffffff" stroke-width="0.25" opacity="0.35"/>
<line x1="282.09" y1="332.40" x2="282.09" y2="418.00" stroke="#ffffff" stroke-width="0.25" opacity="0.35"/>
<line x1="286.37" y1="332.40" x2="286.37" y2="418.00" stroke="#ffffff" stroke-width="0.25" opacity="0.35"/>
<line x1="290.65" y1="332.40" x2="290.65" y2="418.00" stroke="#ffffff" stroke-width="0.25" opacity="0.35"/>
<line x1="294.94" y1="332.40" x2="294.94" y2="418.00" stroke="#ffffff" stroke-width="0.25" opacity="0.35"/>
<line x1="299.22" y1="332.40" x2="299.22" y2="418.00" stroke="#ffffff" stroke-width="0.25" opacity="0.35"/>
<line x1="303.50" y1="332.40" x2="303.50" y2="418.00" stroke="#ffffff" stroke-width="0.25" opacity="0.35"/>
<line x1="307.78" y1="332.40" x2="307.78" y2="418.00" stroke="#ffffff" stroke-width="0.25" opacity="0.35"/>
<line x1="312.06" y1="332.40" x2="312.06" y2="418.00" stroke="#ffffff" stroke-width="0.25" opacity="0.35"/>
<line x1="316.34" y1="332.40" x2="316.34" y2="418.00" stroke="#ffffff" stroke-width="0.25" opacity="0.35"/>
<line x1="320.62" y1="332.40" x2="320.62" y2="418.00" stroke="#ffffff" stroke-width="0.25" opacity="0.35"/>
<line x1="324.90" y1="332.40" x2="324.90" y2="418.00" stroke="#ffffff" stroke-width="0.25" opacity="0.35"/>
<line x1="329.18" y1="332.40" x2="329.18" y2="418.00" stroke="#ffffff" stroke-width="0.25" opacity="0.35"/>
<line x1="333.46" y1="332.40" x2="333.46" y2="418.00" stroke="#ffffff" stroke-width="0.25" opacity="0.35"/>
<line x1="337.75" y1="332.40" x2="337.75" y2="418.00" stroke="#ffffff" stroke-width="0.25" opacity="0.35"/>
<line x1="342.03" y1="332.40" x2="342.03" y2="418.00" stroke="#ffffff" stroke-width="0.25" opacity="0.35"/>
<line x1="346.31" y1="332.40" x2="346.31" y2="418.00" stroke="#ffffff" stroke-width="0.25" opacity="0.35"/>
<line x1="350.59" y1="332.40" x2="350.59" y2="418.00" stroke="#ffffff" stroke-width="0.25" opacity="0.35"/>
<line x1="354.87" y1="332.40" x2="354.87" y2="418.00" stroke="#ffffff" stroke-width="0.25" opacity="0.35"/>
<line x1="359.15" y1="332.40" x2="359.15" y2="418.00" stroke="#ffffff" stroke-width="0.25" opacity="0.35"/>
<line x1="363.43" y1="332.40" x2="363.43" y2="418.00" stroke="#ffffff" stroke-width="0.25" opacity="0.35"/>
<line x1="367.71" y1="332.40" x2="367.71" y2="418.00" stroke="#ffffff" stroke-width="0.25" opacity="0.35"/>
<line x1="371.99" y1="332.40" x2="371.99" y2="418.00" stroke="#ffffff" stroke-width="0.25" opacity="0.35"/>
<line x1="376.27" y1="332.40" x2="376.27" y2="418.00" stroke="#ffffff" stroke-width="0.25" opacity="0.35"/>
<line x1="380.56" y1="332.40" x2="380.56" y2="418.00" stroke="#ffffff" stroke-width="0.25" opacity="0.35"/>
<line x1="384.84" y1="332.40" x2="384.84" y2="418.00" stroke="#ffffff" stroke-width="0.25" opacity="0.35"/>
<line x1="389.12" y1="332.40" x2="389.12" y2="418.00" stroke="#ffffff" stroke-width="0.25" opacity="0.35"/>
<line x1="393.40" y1="332.40" x2="393.40" y2="418.00" stroke="#ffffff" stroke-width="0.25" opacity="0.35"/>
<line x1="397.68" y1="332.40" x2="397.68" y2="418.00" stroke="#ffffff" stroke-width="0.25" opacity="0.35"/>
<line x1="401.96" y1="332.40" x2="401.96" y2="418.00" stroke="#ffffff" stroke-width="0.25" opacity="0.35"/>
<line x1="406.24" y1="332.40" x2="406.24" y2="418.00" stroke="#ffffff" stroke-width="0.25" opacity="0.35"/>
<line x1="410.52" y1="332.40" x2="410.52" y2="418.00" stroke="#ffffff" stroke-width="0.25" opacity="0.35"/>
<line x1="414.80" y1="332.40" x2="414.80" y2="418.00" stroke="#ffffff" stroke-width="0.25" opacity="0.35"/>
<line x1="419.08" y1="332.40" x2="419.08" y2="418.00" stroke="#ffffff" stroke-width="0.25" opacity="0.35"/>
<line x1="423.37" y1="332.40" x2="423.37" y2="418.00" stroke="#ffffff" stroke-width="0.25" opacity="0.35"/>
<line x1="427.65" y1="332.40" x2="427.65" y2="418.00" stroke="#ffffff" stroke-width="0.25" opacity="0.35"/>
<line x1="431.93" y1="332.40" x2="431.93" y2="418.00" stroke="#ffffff" stroke-width="0.25" opacity="0.35"/>
<line x1="436.21" y1="332.40" x2="436.21" y2="418.00" stroke="#ffffff" stroke-width="0.25" opacity="0.35"/>
<line x1="440.49" y1="332.40" x2="440.49" y2="418.00" stroke="#ffffff" stroke-width="0.25" opacity="0.35"/>
<line x1="444.77" y1="332.40" x2="444.77" y2="418.00" stroke="#ffffff" stroke-width="0.25" opacity="0.35"/>
<line x1="449.05" y1="332.40" x2="449.05" y2="418.00" stroke="#ffffff" stroke-width="0.25" opacity="0.35"/>
<line x1="453.33" y1="332.40" x2="453.33" y2="418.00" stroke="#ffffff" stroke-width="0.25" opacity="0.35"/>
<line x1="457.61" y1="332.40" x2="457.61" y2="418.00" stroke="#ffffff" stroke-width="0.25" opacity="0.35"/>
<line x1="461.89" y1="332.40" x2="461.89" y2="418.00" stroke="#ffffff" stroke-width="0.25" opacity="0.35"/>
<line x1="466.18" y1="332.40" x2="466.18" y2="418.00" stroke="#ffffff" stroke-width="0.25" opacity="0.35"/>
<line x1="470.46" y1="332.40" x2="470.46" y2="418.00" stroke="#ffffff" stroke-width="0.25" opacity="0.35"/>
<line x1="474.74" y1="332.40" x2="474.74" y2="418.00" stroke="#ffffff" stroke-width="0.25" opacity="0.35"/>
<line x1="479.02" y1="332.40" x2="479.02" y2="418.00" stroke="#ffffff" stroke-width="0.25" opacity="0.35"/>
<line x1="483.30" y1="332.40" x2="483.30" y2="418.00" stroke="#ffffff" stroke-width="0.25" opacity="0.35"/>
<line x1="487.58" y1="332.40" x2="487.58" y2="418.00" stroke="#ffffff" stroke-width="0.25" opacity="0.35"/>
<line x1="491.86" y1="332.40" x2="491.86" y2="418.00" stroke="#ffffff" stroke-width="0.25" opacity="0.35"/>
<line x1="496.14" y1="332.40" x2="496.14" y2="418.00" stroke="#ffffff" stroke-width="0.25" opacity="0.35"/>
<line x1="500.42" y1="332.40" x2="500.42" y2="418.00" stroke="#ffffff" stroke-width="0.25" opacity="0.35"/>
<line x1="504.70" y1="332.40" x2="504.70" y2="418.00" stroke="#ffffff" stroke-width="0.25" opacity="0.35"/>
<line x1="508.99" y1="332.40" x2="508.99" y2="418.00" stroke="#ffffff" stroke-width="0.25" opacity="0.35"/>
<line x1="513.27" y1="332.40" x2="513.27" y2="418.00" stroke="#ffffff" stroke-width="0.25" opacity="0.35"/>
<line x1="517.55" y1="332.40" x2="517.55" y2="418.00" stroke="#ffffff" stroke-width="0.25" opacity="0.35"/>
<line x1="521.83" y1="332.40" x2="521.83" y2="418.00" stroke="#ffffff" stroke-width="0.25" opacity="0.35"/>
<line x1="526.11" y1="332.40" x2="526.11" y2="418.00" stroke="#ffffff" stroke-width="0.25" opacity="0.35"/>
<line x1="530.39" y1="332.40" x2="530.39" y2="418.00" stroke="#ffffff" stroke-width="0.25" opacity="0.35"/>
<line x1="534.67" y1="332.40" x2="534.67" y2="418.00" stroke="#ffffff" stroke-width="0.25" opacity="0.35"/>
<line x1="538.95" y1="332.40" x2="538.95" y2="418.00" stroke="#ffffff" stroke-width="0.25" opacity="0.35"/>
<line x1="543.23" y1="332.40" x2="543.23" y2="418.00" stroke="#ffffff" stroke-width="0.25" opacity="0.35"/>
<line x1="547.51" y1="332.40" x2="547.51" y2="418.00" stroke="#ffffff" stroke-width="0.25" opacity="0.35"/>
<line x1="551.80" y1="332.40" x2="551.80" y2="418.00" stroke="#ffffff" stroke-width="0.25" opacity="0.35"/>
<line x1="556.08" y1="332.40" x2="556.08" y2="418.00" stroke="#ffffff" stroke-width="0.25" opacity="0.35"/>
<line x1="560.36" y1="332.40" x2="560.36" y2="418.00" stroke="#ffffff" stroke-width="0.25" opacity="0.35"/>
<line x1="564.64" y1="332.40" x2="564.64" y2="418.00" stroke="#ffffff" stroke-width="0.25" opacity="0.35"/>
<line x1="568.92" y1="332.40" x2="568.92" y2="418.00" stroke="#ffffff" stroke-width="0.25" opacity="0.35"/>
<line x1="573.20" y1="332.40" x2="573.20" y2="418.00" stroke="#ffffff" stroke-width="0.25" opacity="0.35"/>
<line x1="577.48" y1="332.40" x2="577.48" y2="418.00" stroke="#ffffff" stroke-width="0.25" opacity="0.35"/>
<line x1="581.76" y1="332.40" x2="581.76" y2="418.00" stroke="#ffffff" stroke-width="0.25" opacity="0.35"/>
<line x1="586.04" y1="332.40" x2="586.04" y2="418.00" stroke="#ffffff" stroke-width="0.25" opacity="0.35"/>
<line x1="590.33" y1="332.40" x2="590.33" y2="418.00" stroke="#ffffff" stroke-width="0.25" opacity="0.35"/>
<line x1="594.61" y1="332.40" x2="594.61" y2="418.00" stroke="#ffffff" stroke-width="0.25" opacity="0.35"/>
<line x1="598.89" y1="332.40" x2="598.89" y2="418.00" stroke="#ffffff" stroke-width="0.25" opacity="0.35"/>
<line x1="603.17" y1="332.40" x2="603.17" y2="418.00" stroke="#ffffff" stroke-width="0.25" opacity="0.35"/>
<line x1="607.45" y1="332.40" x2="607.45" y2="418.00" stroke="#ffffff" stroke-width="0.25" opacity="0.35"/>
<line x1="611.73" y1="332.40" x2="611.73" y2="418.00" stroke="#ffffff" stroke-width="0.25" opacity="0.35"/>
<line x1="616.01" y1="332.40" x2="616.01" y2="418.00" stroke="#ffffff" stroke-width="0.25" opacity="0.35"/>
<line x1="620.29" y1="332.40" x2="620.29" y2="418.00" stroke="#ffffff" stroke-width="0.25" opacity="0.35"/>
<line x1="52.00" y1="340.96" x2="55.00" y2="340.96" stroke="#555" stroke-width="0.6"/>
<text x="47.2" y="344.0" font-size="8.8" text-anchor="end" fill="#1a1a1a" textLength="30.7" lengthAdjust="spacingAndGlyphs">Control</text>
<line x1="52.00" y1="358.08" x2="55.00" y2="358.08" stroke="#555" stroke-width="0.6"/>
<text x="47.2" y="361.1" font-size="8.8" text-anchor="end" fill="#1a1a1a" textLength="35.8" lengthAdjust="spacingAndGlyphs">Dox (3 d)</text>
<line x1="52.00" y1="375.20" x2="55.00" y2="375.20" stroke="#555" stroke-width="0.6"/>
<text x="47.2" y="378.2" font-size="8.8" text-anchor="end" fill="#1a1a1a" textLength="35.4" lengthAdjust="spacingAndGlyphs">Dox (7 d)</text>
<line x1="52.00" y1="392.32" x2="55.00" y2="392.32" stroke="#555" stroke-width="0.6"/>
<text x="47.2" y="395.3" font-size="8.8" text-anchor="end" fill="#1a1a1a" textLength="39.2" lengthAdjust="spacingAndGlyphs">Dox (14 d)</text>
<line x1="52.00" y1="409.44" x2="55.00" y2="409.44" stroke="#555" stroke-width="0.6"/>
<text x="47.2" y="412.4" font-size="8.8" text-anchor="end" fill="#1a1a1a" textLength="39.2" lengthAdjust="spacingAndGlyphs">Dox (21 d)</text>
<rect x="55.30" y="422.20" width="4.08" height="4.10" fill="#c2c2c2"/>
<rect x="59.58" y="422.20" width="4.08" height="4.10" fill="#1b5e30"/>
<rect x="63.86" y="422.20" width="4.08" height="4.10" fill="#1b5e30"/>
<rect x="68.14" y="422.20" width="4.08" height="4.10" fill="#1b5e30"/>
<rect x="72.42" y="422.20" width="4.08" height="4.10" fill="#c2c2c2"/>
<rect x="76.70" y="422.20" width="4.08" height="4.10" fill="#1b5e30"/>
<rect x="80.99" y="422.20" width="4.08" height="4.10" fill="#1b5e30"/>
<rect x="85.27" y="422.20" width="4.08" height="4.10" fill="#c2c2c2"/>
<rect x="89.55" y="422.20" width="4.08" height="4.10" fill="#1b5e30"/>
<rect x="93.83" y="422.20" width="4.08" height="4.10" fill="#c2c2c2"/>
<rect x="98.11" y="422.20" width="4.08" height="4.10" fill="#1b5e30"/>
<rect x="102.39" y="422.20" width="4.08" height="4.10" fill="#1b5e30"/>
<rect x="106.67" y="422.20" width="4.08" height="4.10" fill="#1b5e30"/>
<rect x="110.95" y="422.20" width="4.08" height="4.10" fill="#c2c2c2"/>
<rect x="115.23" y="422.20" width="4.08" height="4.10" fill="#1b5e30"/>
<rect x="119.51" y="422.20" width="4.08" height="4.10" fill="#1b5e30"/>
<rect x="123.80" y="422.20" width="4.08" height="4.10" fill="#1b5e30"/>
<rect x="128.08" y="422.20" width="4.08" height="4.10" fill="#1b5e30"/>
<rect x="132.36" y="422.20" width="4.08" height="4.10" fill="#1b5e30"/>
<rect x="136.64" y="422.20" width="4.08" height="4.10" fill="#1b5e30"/>
<rect x="140.92" y="422.20" width="4.08" height="4.10" fill="#1b5e30"/>
<rect x="145.20" y="422.20" width="4.08" height="4.10" fill="#1b5e30"/>
<rect x="149.48" y="422.20" width="4.08" height="4.10" fill="#c2c2c2"/>
<rect x="153.76" y="422.20" width="4.08" height="4.10" fill="#c2c2c2"/>
<rect x="158.04" y="422.20" width="4.08" height="4.10" fill="#c2c2c2"/>
<rect x="162.32" y="422.20" width="4.08" height="4.10" fill="#1b5e30"/>
<rect x="166.61" y="422.20" width="4.08" height="4.10" fill="#f5a31a"/>
<rect x="170.89" y="422.20" width="4.08" height="4.10" fill="#1b5e30"/>
<rect x="175.17" y="422.20" width="4.08" height="4.10" fill="#1b5e30"/>
<rect x="179.45" y="422.20" width="4.08" height="4.10" fill="#c2c2c2"/>
<rect x="183.73" y="422.20" width="4.08" height="4.10" fill="#1b5e30"/>
<rect x="188.01" y="422.20" width="4.08" height="4.10" fill="#f5a31a"/>
<rect x="192.29" y="422.20" width="4.08" height="4.10" fill="#c2c2c2"/>
<rect x="196.57" y="422.20" width="4.08" height="4.10" fill="#f5a31a"/>
<rect x="200.85" y="422.20" width="4.08" height="4.10" fill="#c2c2c2"/>
<rect x="205.13" y="422.20" width="4.08" height="4.10" fill="#1b5e30"/>
<rect x="209.42" y="422.20" width="4.08" height="4.10" fill="#c2c2c2"/>
<rect x="213.70" y="422.20" width="4.08" height="4.10" fill="#1b5e30"/>
<rect x="217.98" y="422.20" width="4.08" height="4.10" fill="#1b5e30"/>
<rect x="222.26" y="422.20" width="4.08" height="4.10" fill="#1b5e30"/>
<rect x="226.54" y="422.20" width="4.08" height="4.10" fill="#1b5e30"/>
<rect x="230.82" y="422.20" width="4.08" height="4.10" fill="#1b5e30"/>
<rect x="235.10" y="422.20" width="4.08" height="4.10" fill="#c2c2c2"/>
<rect x="239.38" y="422.20" width="4.08" height="4.10" fill="#1b5e30"/>
<rect x="243.66" y="422.20" width="4.08" height="4.10" fill="#1b5e30"/>
<rect x="247.94" y="422.20" width="4.08" height="4.10" fill="#c2c2c2"/>
<rect x="252.23" y="422.20" width="4.08" height="4.10" fill="#1b5e30"/>
<rect x="256.51" y="422.20" width="4.08" height="4.10" fill="#1b5e30"/>
<rect x="260.79" y="422.20" width="4.08" height="4.10" fill="#f5a31a"/>
<rect x="265.07" y="422.20" width="4.08" height="4.10" fill="#f5a31a"/>
<rect x="269.35" y="422.20" width="4.08" height="4.10" fill="#1b5e30"/>
<rect x="273.63" y="422.20" width="4.08" height="4.10" fill="#c2c2c2"/>
<rect x="277.91" y="422.20" width="4.08" height="4.10" fill="#c2c2c2"/>
<rect x="282.19" y="422.20" width="4.08" height="4.10" fill="#c2c2c2"/>
<rect x="286.47" y="422.20" width="4.08" height="4.10" fill="#c2c2c2"/>
<rect x="290.75" y="422.20" width="4.08" height="4.10" fill="#1b5e30"/>
<rect x="295.04" y="422.20" width="4.08" height="4.10" fill="#c2c2c2"/>
<rect x="299.32" y="422.20" width="4.08" height="4.10" fill="#1b5e30"/>
<rect x="303.60" y="422.20" width="4.08" height="4.10" fill="#c2c2c2"/>
<rect x="307.88" y="422.20" width="4.08" height="4.10" fill="#c2c2c2"/>
<rect x="312.16" y="422.20" width="4.08" height="4.10" fill="#1b5e30"/>
<rect x="316.44" y="422.20" width="4.08" height="4.10" fill="#1b5e30"/>
<rect x="320.72" y="422.20" width="4.08" height="4.10" fill="#c2c2c2"/>
<rect x="325.00" y="422.20" width="4.08" height="4.10" fill="#1b5e30"/>
<rect x="329.28" y="422.20" width="4.08" height="4.10" fill="#1b5e30"/>
<rect x="333.56" y="422.20" width="4.08" height="4.10" fill="#c2c2c2"/>
<rect x="337.85" y="422.20" width="4.08" height="4.10" fill="#1b5e30"/>
<rect x="342.13" y="422.20" width="4.08" height="4.10" fill="#1b5e30"/>
<rect x="346.41" y="422.20" width="4.08" height="4.10" fill="#1b5e30"/>
<rect x="350.69" y="422.20" width="4.08" height="4.10" fill="#1b5e30"/>
<rect x="354.97" y="422.20" width="4.08" height="4.10" fill="#1b5e30"/>
<rect x="359.25" y="422.20" width="4.08" height="4.10" fill="#1b5e30"/>
<rect x="363.53" y="422.20" width="4.08" height="4.10" fill="#1b5e30"/>
<rect x="367.81" y="422.20" width="4.08" height="4.10" fill="#c2c2c2"/>
<rect x="372.09" y="422.20" width="4.08" height="4.10" fill="#1b5e30"/>
<rect x="376.38" y="422.20" width="4.08" height="4.10" fill="#1b5e30"/>
<rect x="380.66" y="422.20" width="4.08" height="4.10" fill="#1b5e30"/>
<rect x="384.94" y="422.20" width="4.08" height="4.10" fill="#1b5e30"/>
<rect x="389.22" y="422.20" width="4.08" height="4.10" fill="#1b5e30"/>
<rect x="393.50" y="422.20" width="4.08" height="4.10" fill="#1b5e30"/>
<rect x="397.78" y="422.20" width="4.08" height="4.10" fill="#1b5e30"/>
<rect x="402.06" y="422.20" width="4.08" height="4.10" fill="#1b5e30"/>
<rect x="406.34" y="422.20" width="4.08" height="4.10" fill="#c2c2c2"/>
<rect x="410.62" y="422.20" width="4.08" height="4.10" fill="#f5a31a"/>
<rect x="414.90" y="422.20" width="4.08" height="4.10" fill="#1b5e30"/>
<rect x="419.19" y="422.20" width="4.08" height="4.10" fill="#1b5e30"/>
<rect x="423.47" y="422.20" width="4.08" height="4.10" fill="#1b5e30"/>
<rect x="427.75" y="422.20" width="4.08" height="4.10" fill="#f5a31a"/>
<rect x="432.03" y="422.20" width="4.08" height="4.10" fill="#f5a31a"/>
<rect x="436.31" y="422.20" width="4.08" height="4.10" fill="#f5a31a"/>
<rect x="440.59" y="422.20" width="4.08" height="4.10" fill="#f5a31a"/>
<rect x="444.87" y="422.20" width="4.08" height="4.10" fill="#1b5e30"/>
<rect x="449.15" y="422.20" width="4.08" height="4.10" fill="#c2c2c2"/>
<rect x="453.43" y="422.20" width="4.08" height="4.10" fill="#1b5e30"/>
<rect x="457.71" y="422.20" width="4.08" height="4.10" fill="#c2c2c2"/>
<rect x="462.00" y="422.20" width="4.08" height="4.10" fill="#c2c2c2"/>
<rect x="466.28" y="422.20" width="4.08" height="4.10" fill="#1b5e30"/>
<rect x="470.56" y="422.20" width="4.08" height="4.10" fill="#c2c2c2"/>
<rect x="474.84" y="422.20" width="4.08" height="4.10" fill="#1b5e30"/>
<rect x="479.12" y="422.20" width="4.08" height="4.10" fill="#c2c2c2"/>
<rect x="483.40" y="422.20" width="4.08" height="4.10" fill="#1b5e30"/>
<rect x="487.68" y="422.20" width="4.08" height="4.10" fill="#f5a31a"/>
<rect x="491.96" y="422.20" width="4.08" height="4.10" fill="#1b5e30"/>
<rect x="496.24" y="422.20" width="4.08" height="4.10" fill="#c2c2c2"/>
<rect x="500.52" y="422.20" width="4.08" height="4.10" fill="#1b5e30"/>
<rect x="504.81" y="422.20" width="4.08" height="4.10" fill="#1b5e30"/>
<rect x="509.09" y="422.20" width="4.08" height="4.10" fill="#c2c2c2"/>
<rect x="513.37" y="422.20" width="4.08" height="4.10" fill="#f5a31a"/>
<rect x="517.65" y="422.20" width="4.08" height="4.10" fill="#c2c2c2"/>
<rect x="521.93" y="422.20" width="4.08" height="4.10" fill="#c2c2c2"/>
<rect x="526.21" y="422.20" width="4.08" height="4.10" fill="#c2c2c2"/>
<rect x="530.49" y="422.20" width="4.08" height="4.10" fill="#c2c2c2"/>
<rect x="534.77" y="422.20" width="4.08" height="4.10" fill="#1b5e30"/>
<rect x="539.05" y="422.20" width="4.08" height="4.10" fill="#1b5e30"/>
<rect x="543.33" y="422.20" width="4.08" height="4.10" fill="#1b5e30"/>
<rect x="547.62" y="422.20" width="4.08" height="4.10" fill="#c2c2c2"/>
<rect x="551.90" y="422.20" width="4.08" height="4.10" fill="#1b5e30"/>
<rect x="556.18" y="422.20" width="4.08" height="4.10" fill="#1b5e30"/>
<rect x="560.46" y="422.20" width="4.08" height="4.10" fill="#1b5e30"/>
<rect x="564.74" y="422.20" width="4.08" height="4.10" fill="#1b5e30"/>
<rect x="569.02" y="422.20" width="4.08" height="4.10" fill="#1b5e30"/>
<rect x="573.30" y="422.20" width="4.08" height="4.10" fill="#1b5e30"/>
<rect x="577.58" y="422.20" width="4.08" height="4.10" fill="#1b5e30"/>
<rect x="581.86" y="422.20" width="4.08" height="4.10" fill="#1b5e30"/>
<rect x="586.14" y="422.20" width="4.08" height="4.10" fill="#1b5e30"/>
<rect x="590.43" y="422.20" width="4.08" height="4.10" fill="#1b5e30"/>
<rect x="594.71" y="422.20" width="4.08" height="4.10" fill="#1b5e30"/>
<rect x="598.99" y="422.20" width="4.08" height="4.10" fill="#1b5e30"/>
<rect x="603.27" y="422.20" width="4.08" height="4.10" fill="#1b5e30"/>
<rect x="607.55" y="422.20" width="4.08" height="4.10" fill="#1b5e30"/>
<rect x="611.83" y="422.20" width="4.08" height="4.10" fill="#1b5e30"/>
<rect x="616.11" y="422.20" width="4.08" height="4.10" fill="#1b5e30"/>
<rect x="620.39" y="422.20" width="4.08" height="4.10" fill="#1b5e30"/>
<text x="51.7" y="426.2" font-size="8.8" text-anchor="end" fill="#1a1a1a">Category</text>
<text x="51.7" y="435.2" font-size="8.8" text-anchor="end" fill="#1a1a1a" textLength="48.0" lengthAdjust="spacingAndGlyphs">Gene group</text>
<rect x="57.70" y="429.70" width="3.80" height="2.90" fill="#b2df8a"/>
<rect x="62.00" y="429.70" width="3.80" height="2.90" fill="#b2df8a"/>
<rect x="66.30" y="429.70" width="3.80" height="2.90" fill="#b2df8a"/>
<rect x="70.60" y="429.70" width="3.80" height="2.90" fill="#b2df8a"/>
<rect x="74.90" y="429.70" width="3.80" height="2.90" fill="#b2df8a"/>
<rect x="79.20" y="429.70" width="3.80" height="2.90" fill="#b2df8a"/>
<rect x="83.50" y="429.70" width="3.80" height="2.90" fill="#b2df8a"/>
<rect x="87.80" y="429.70" width="3.80" height="2.90" fill="#b2df8a"/>
<rect x="92.10" y="429.70" width="3.80" height="2.90" fill="#b2df8a"/>
<rect x="96.40" y="429.70" width="3.80" height="2.90" fill="#b2df8a"/>
<rect x="100.70" y="429.70" width="3.80" height="2.90" fill="#b2df8a"/>
<rect x="105.00" y="429.70" width="3.80" height="2.90" fill="#b2df8a"/>
<rect x="109.30" y="429.70" width="3.80" height="2.90" fill="#b2df8a"/>
<rect x="113.60" y="429.70" width="3.80" height="2.90" fill="#b2df8a"/>
<rect x="117.90" y="429.70" width="3.79" height="2.90" fill="#e31a1c"/>
<rect x="122.19" y="429.70" width="3.79" height="2.90" fill="#e31a1c"/>
<rect x="126.47" y="429.70" width="3.79" height="2.90" fill="#e31a1c"/>
<rect x="130.76" y="429.70" width="3.79" height="2.90" fill="#e31a1c"/>
<rect x="135.04" y="429.70" width="3.79" height="2.90" fill="#e31a1c"/>
<rect x="139.33" y="429.70" width="3.79" height="2.90" fill="#e31a1c"/>
<rect x="143.61" y="429.70" width="3.79" height="2.90" fill="#e31a1c"/>
<rect x="161.20" y="429.70" width="3.73" height="2.90" fill="#f7ec8f"/>
<rect x="165.42" y="429.70" width="3.73" height="2.90" fill="#f7ec8f"/>
<rect x="169.65" y="429.70" width="3.73" height="2.90" fill="#f7ec8f"/>
<rect x="173.88" y="429.70" width="3.73" height="2.90" fill="#f7ec8f"/>
<rect x="204.20" y="429.70" width="3.78" height="2.90" fill="#a6cee3"/>
<rect x="208.48" y="429.70" width="3.78" height="2.90" fill="#a6cee3"/>
<rect x="212.77" y="429.70" width="3.78" height="2.90" fill="#a6cee3"/>
<rect x="217.05" y="429.70" width="3.78" height="2.90" fill="#a6cee3"/>
<rect x="221.33" y="429.70" width="3.78" height="2.90" fill="#a6cee3"/>
<rect x="225.62" y="429.70" width="3.78" height="2.90" fill="#a6cee3"/>
<rect x="229.90" y="429.70" width="3.73" height="2.90" fill="#1f78b4"/>
<rect x="234.13" y="429.70" width="3.73" height="2.90" fill="#1f78b4"/>
<rect x="238.37" y="429.70" width="3.73" height="2.90" fill="#1f78b4"/>
<rect x="294.70" y="429.70" width="3.78" height="2.90" fill="#33a02c"/>
<rect x="298.97" y="429.70" width="3.78" height="2.90" fill="#33a02c"/>
<rect x="303.25" y="429.70" width="3.78" height="2.90" fill="#33a02c"/>
<rect x="307.52" y="429.70" width="3.78" height="2.90" fill="#33a02c"/>
<rect x="311.80" y="429.70" width="3.78" height="2.90" fill="#33a02c"/>
<rect x="316.07" y="429.70" width="3.78" height="2.90" fill="#33a02c"/>
<rect x="320.35" y="429.70" width="3.78" height="2.90" fill="#33a02c"/>
<rect x="324.62" y="429.70" width="3.78" height="2.90" fill="#33a02c"/>
<rect x="328.90" y="429.70" width="3.78" height="2.90" fill="#33a02c"/>
<rect x="333.18" y="429.70" width="3.78" height="2.90" fill="#33a02c"/>
<rect x="337.45" y="429.70" width="3.78" height="2.90" fill="#33a02c"/>
<rect x="341.73" y="429.70" width="3.78" height="2.90" fill="#33a02c"/>
<rect x="346.00" y="429.70" width="3.83" height="2.90" fill="#fb9a99"/>
<rect x="350.33" y="429.70" width="3.83" height="2.90" fill="#fb9a99"/>
<rect x="354.66" y="429.70" width="3.83" height="2.90" fill="#fb9a99"/>
<rect x="358.99" y="429.70" width="3.83" height="2.90" fill="#fb9a99"/>
<rect x="363.32" y="429.70" width="3.83" height="2.90" fill="#fb9a99"/>
<rect x="367.65" y="429.70" width="3.83" height="2.90" fill="#fb9a99"/>
<rect x="371.98" y="429.70" width="3.83" height="2.90" fill="#fb9a99"/>
<rect x="376.32" y="429.70" width="3.83" height="2.90" fill="#fb9a99"/>
<rect x="380.65" y="429.70" width="3.83" height="2.90" fill="#fb9a99"/>
<rect x="384.98" y="429.70" width="3.83" height="2.90" fill="#fb9a99"/>
<rect x="389.31" y="429.70" width="3.83" height="2.90" fill="#fb9a99"/>
<rect x="393.64" y="429.70" width="3.83" height="2.90" fill="#fb9a99"/>
<rect x="397.97" y="429.70" width="3.83" height="2.90" fill="#fb9a99"/>
<rect x="496.90" y="429.70" width="3.93" height="2.90" fill="#fdbf6f"/>
<rect x="501.33" y="429.70" width="3.93" height="2.90" fill="#fdbf6f"/>
<rect x="505.77" y="429.70" width="3.93" height="2.90" fill="#fdbf6f"/>
<rect x="510.20" y="429.70" width="3.75" height="2.90" fill="#ff7f00"/>
<rect x="514.45" y="429.70" width="3.75" height="2.90" fill="#ff7f00"/>
<rect x="518.70" y="429.70" width="3.75" height="2.90" fill="#ff7f00"/>
<rect x="522.95" y="429.70" width="3.75" height="2.90" fill="#ff7f00"/>
<rect x="552.90" y="429.70" width="3.88" height="2.90" fill="#cab2d6"/>
<rect x="557.27" y="429.70" width="3.88" height="2.90" fill="#cab2d6"/>
<rect x="561.65" y="429.70" width="3.88" height="2.90" fill="#cab2d6"/>
<rect x="566.02" y="429.70" width="3.88" height="2.90" fill="#cab2d6"/>
<rect x="596.10" y="429.70" width="3.90" height="2.90" fill="#6a3d9a"/>
<rect x="600.50" y="429.70" width="3.90" height="2.90" fill="#6a3d9a"/>
<rect x="604.90" y="429.70" width="3.90" height="2.90" fill="#6a3d9a"/>
<rect x="609.30" y="429.70" width="3.90" height="2.90" fill="#6a3d9a"/>
<text x="89.0" y="443.2" font-size="8.8" text-anchor="middle" fill="#1a1a1a">1</text>
<text x="131.5" y="443.2" font-size="8.8" text-anchor="middle" fill="#1a1a1a">2</text>
<text x="168.2" y="443.2" font-size="8.8" text-anchor="middle" fill="#1a1a1a">3</text>
<text x="217.4" y="443.2" font-size="8.8" text-anchor="middle" fill="#1a1a1a">4</text>
<text x="236.4" y="443.2" font-size="8.8" text-anchor="middle" fill="#1a1a1a">5</text>
<text x="321.4" y="443.2" font-size="8.8" text-anchor="middle" fill="#1a1a1a">6</text>
<text x="371.6" y="443.2" font-size="8.8" text-anchor="middle" fill="#1a1a1a">7</text>
<text x="502.0" y="443.2" font-size="8.8" text-anchor="middle" fill="#1a1a1a">8</text>
<text x="519.0" y="443.2" font-size="8.8" text-anchor="middle" fill="#1a1a1a">9</text>
<text x="561.8" y="443.2" font-size="8.8" text-anchor="middle" fill="#1a1a1a">10</text>
<text x="605.0" y="443.2" font-size="8.8" text-anchor="middle" fill="#1a1a1a">11</text>
<text x="657.3" y="334.9" font-size="8.8" text-anchor="middle" fill="#1a1a1a" textLength="44.7" lengthAdjust="spacingAndGlyphs">Allelic ratio</text>
<text x="657.3" y="345.3" font-size="8.8" text-anchor="middle" fill="#1a1a1a" textLength="54.2" lengthAdjust="spacingAndGlyphs">(Xi / (Xi + Xa))</text>
<rect x="645.20" y="355.90" width="4.30" height="22.80" fill="url(#cbar)"/>
<text x="653.7" y="359.6" font-size="8.0" fill="#1a1a1a" textLength="15.4" lengthAdjust="spacingAndGlyphs">1.00</text>
<text x="653.7" y="369.9" font-size="8.0" fill="#1a1a1a" textLength="15.6" lengthAdjust="spacingAndGlyphs">0.50</text>
<text x="653.7" y="380.5" font-size="8.0" fill="#1a1a1a">0</text>
<rect x="630.30" y="400.90" width="4.70" height="4.70" fill="#1b5e30"/>
<text x="636.4" y="406.2" font-size="8.2" fill="#1a1a1a" textLength="37.8" lengthAdjust="spacingAndGlyphs">Facultative</text>
<rect x="630.30" y="408.90" width="4.70" height="4.70" fill="#f5a31a"/>
<text x="636.4" y="414.2" font-size="8.2" fill="#1a1a1a" textLength="41.9" lengthAdjust="spacingAndGlyphs">Constitutive</text>
<rect x="630.30" y="416.80" width="4.70" height="4.70" fill="#c2c2c2"/>
<text x="636.4" y="422.1" font-size="8.2" fill="#1a1a1a" textLength="43.8" lengthAdjust="spacingAndGlyphs">NPC-specific</text>
<text x="0.0" y="462.0" font-size="12.5" fill="#000" font-weight="bold">g</text>
<rect x="93.00" y="472.40" width="5.80" height="5.60" fill="#1b5e30" stroke="#333" stroke-width="0.5"/>
<text x="102.4" y="478.0" font-size="8.2" fill="#1a1a1a" textLength="36.8" lengthAdjust="spacingAndGlyphs">Facultative</text>
<rect x="93.00" y="483.30" width="5.80" height="5.60" fill="#f5a31a" stroke="#333" stroke-width="0.5"/>
<text x="102.4" y="488.9" font-size="8.2" fill="#1a1a1a" textLength="40.6" lengthAdjust="spacingAndGlyphs">Constitutive</text>
<rect x="93.00" y="493.80" width="5.80" height="5.60" fill="#c4c4c4" stroke="#333" stroke-width="0.5"/>
<text x="102.4" y="499.4" font-size="8.2" fill="#1a1a1a" textLength="43.1" lengthAdjust="spacingAndGlyphs">NPC-specific</text>
<rect x="79.50" y="505.50" width="147.00" height="221.00" fill="none" stroke="#8a8a8a" stroke-width="0.8"/>
<line x1="85.50" y1="726.10" x2="85.50" y2="729.00" stroke="#666" stroke-width="0.6"/>
<text x="85.5" y="740.0" font-size="7.9" text-anchor="middle" fill="#1a1a1a">0</text>
<line x1="118.68" y1="726.10" x2="118.68" y2="729.00" stroke="#666" stroke-width="0.6"/>
<text x="118.7" y="740.0" font-size="7.9" text-anchor="middle" fill="#1a1a1a">0.2</text>
<line x1="151.86" y1="726.10" x2="151.86" y2="729.00" stroke="#666" stroke-width="0.6"/>
<text x="151.9" y="740.0" font-size="7.9" text-anchor="middle" fill="#1a1a1a">0.4</text>
<line x1="185.04" y1="726.10" x2="185.04" y2="729.00" stroke="#666" stroke-width="0.6"/>
<text x="185.0" y="740.0" font-size="7.9" text-anchor="middle" fill="#1a1a1a">0.6</text>
<line x1="218.22" y1="726.10" x2="218.22" y2="729.00" stroke="#666" stroke-width="0.6"/>
<text x="218.2" y="740.0" font-size="7.9" text-anchor="middle" fill="#1a1a1a">0.8</text>
<text x="153.3" y="754.0" font-size="8.8" text-anchor="middle" fill="#1a1a1a" textLength="101.3" lengthAdjust="spacingAndGlyphs">Allelic ratio (Xi / (Xi + Xa))</text>
<line x1="76.20" y1="530.60" x2="79.20" y2="530.60" stroke="#555" stroke-width="0.6"/>
<text x="71.8" y="533.6" font-size="8.8" text-anchor="end" fill="#1a1a1a" textLength="29.9" lengthAdjust="spacingAndGlyphs">Control</text>
<line x1="76.20" y1="573.60" x2="79.20" y2="573.60" stroke="#555" stroke-width="0.6"/>
<text x="71.8" y="576.6" font-size="8.8" text-anchor="end" fill="#1a1a1a" textLength="34.9" lengthAdjust="spacingAndGlyphs">Dox (3 d)</text>
<line x1="76.20" y1="615.80" x2="79.20" y2="615.80" stroke="#555" stroke-width="0.6"/>
<text x="71.8" y="618.8" font-size="8.8" text-anchor="end" fill="#1a1a1a" textLength="34.5" lengthAdjust="spacingAndGlyphs">Dox (7 d)</text>
<line x1="76.20" y1="658.40" x2="79.20" y2="658.40" stroke="#555" stroke-width="0.6"/>
<text x="71.8" y="661.4" font-size="8.8" text-anchor="end" fill="#1a1a1a" textLength="38.2" lengthAdjust="spacingAndGlyphs">Dox (14 d)</text>
<line x1="76.20" y1="701.10" x2="79.20" y2="701.10" stroke="#555" stroke-width="0.6"/>
<text x="71.8" y="704.1" font-size="8.8" text-anchor="end" fill="#1a1a1a" textLength="38.2" lengthAdjust="spacingAndGlyphs">Dox (21 d)</text>
<line x1="109.60" y1="520.10" x2="169.60" y2="520.10" stroke="#999" stroke-width="0.6"/>
<rect x="138.10" y="515.30" width="19.80" height="9.60" fill="#c4c4c4" stroke="#555" stroke-width="0.6"/>
<line x1="146.20" y1="515.30" x2="146.20" y2="524.90" stroke="#555" stroke-width="0.7"/>
<circle cx="197.00" cy="520.10" r="0.90" fill="#9c9c9c"/>
<circle cx="200.70" cy="520.10" r="0.90" fill="#9c9c9c"/>
<line x1="124.00" y1="530.60" x2="175.90" y2="530.60" stroke="#555" stroke-width="0.6"/>
<rect x="148.60" y="525.80" width="15.20" height="9.60" fill="#1b5e30" stroke="#222" stroke-width="0.6"/>
<line x1="157.20" y1="525.80" x2="157.20" y2="535.40" stroke="#222" stroke-width="0.7"/>
<circle cx="106.50" cy="530.60" r="0.90" fill="#9c9c9c"/>
<circle cx="113.50" cy="530.60" r="0.90" fill="#9c9c9c"/>
<circle cx="122.00" cy="530.60" r="0.90" fill="#9c9c9c"/>
<circle cx="124.50" cy="530.60" r="0.90" fill="#9c9c9c"/>
<circle cx="193.00" cy="530.60" r="0.90" fill="#9c9c9c"/>
<circle cx="216.80" cy="530.60" r="0.90" fill="#9c9c9c"/>
<line x1="119.40" y1="541.30" x2="166.80" y2="541.30" stroke="#444" stroke-width="0.6"/>
<rect x="141.10" y="536.50" width="16.80" height="9.60" fill="#f5a31a" stroke="#444" stroke-width="0.6"/>
<line x1="150.40" y1="536.50" x2="150.40" y2="546.10" stroke="#444" stroke-width="0.7"/>
<circle cx="109.60" cy="541.30" r="0.90" fill="#9c9c9c"/>
<circle cx="201.80" cy="541.30" r="0.90" fill="#9c9c9c"/>
<line x1="86.20" y1="562.60" x2="141.60" y2="562.60" stroke="#666" stroke-width="0.6"/>
<rect x="90.90" y="557.80" width="21.50" height="9.60" fill="#c4c4c4" stroke="#555" stroke-width="0.6"/>
<line x1="96.50" y1="557.80" x2="96.50" y2="567.40" stroke="#555" stroke-width="0.7"/>
<circle cx="168.90" cy="562.60" r="0.90" fill="#9c9c9c"/>
<circle cx="197.60" cy="562.60" r="0.90" fill="#9c9c9c"/>
<circle cx="200.40" cy="562.60" r="0.90" fill="#9c9c9c"/>
<line x1="86.20" y1="573.40" x2="176.60" y2="573.40" stroke="#444" stroke-width="0.6"/>
<rect x="101.40" y="568.60" width="30.10" height="9.60" fill="#1b5e30" stroke="#222" stroke-width="0.6"/>
<line x1="118.20" y1="568.60" x2="118.20" y2="578.20" stroke="#222" stroke-width="0.7"/>
<circle cx="219.80" cy="573.40" r="0.90" fill="#9c9c9c"/>
<line x1="98.40" y1="583.90" x2="159.80" y2="583.90" stroke="#c8c8c8" stroke-width="0.6"/>
<rect x="111.70" y="579.10" width="19.80" height="9.60" fill="#f5a31a" stroke="#444" stroke-width="0.6"/>
<line x1="118.20" y1="579.10" x2="118.20" y2="588.70" stroke="#444" stroke-width="0.7"/>
<line x1="86.20" y1="605.30" x2="118.90" y2="605.30" stroke="#666" stroke-width="0.6"/>
<rect x="86.20" y="600.50" width="12.20" height="9.60" fill="#c4c4c4" stroke="#555" stroke-width="0.6"/>
<line x1="86.70" y1="600.50" x2="86.70" y2="610.10" stroke="#555" stroke-width="0.7"/>
<circle cx="120.00" cy="605.30" r="0.90" fill="#9c9c9c"/>
<circle cx="143.40" cy="605.30" r="0.90" fill="#9c9c9c"/>
<circle cx="165.60" cy="605.30" r="0.90" fill="#9c9c9c"/>
<circle cx="197.20" cy="605.30" r="0.90" fill="#9c9c9c"/>
<line x1="86.20" y1="616.00" x2="166.10" y2="616.00" stroke="#c8c8c8" stroke-width="0.6"/>
<rect x="88.30" y="611.20" width="32.20" height="9.60" fill="#1b5e30" stroke="#222" stroke-width="0.6"/>
<line x1="101.20" y1="611.20" x2="101.20" y2="620.80" stroke="#222" stroke-width="0.7"/>
<circle cx="214.70" cy="616.00" r="0.90" fill="#9c9c9c"/>
<line x1="89.50" y1="626.50" x2="124.80" y2="626.50" stroke="#444" stroke-width="0.6"/>
<rect x="99.50" y="621.70" width="19.90" height="9.60" fill="#f5a31a" stroke="#444" stroke-width="0.6"/>
<line x1="105.40" y1="621.70" x2="105.40" y2="631.30" stroke="#444" stroke-width="0.7"/>
<rect x="85.50" y="643.20" width="3.00" height="9.60" fill="#c4c4c4" stroke="#555" stroke-width="0.6"/>
<line x1="85.80" y1="643.20" x2="85.80" y2="652.80" stroke="#555" stroke-width="0.7"/>
<circle cx="98.80" cy="648.00" r="0.90" fill="#9c9c9c"/>
<circle cx="101.00" cy="648.00" r="0.90" fill="#9c9c9c"/>
<circle cx="103.50" cy="648.00" r="0.90" fill="#9c9c9c"/>
<circle cx="109.60" cy="648.00" r="0.90" fill="#9c9c9c"/>
<circle cx="116.30" cy="648.00" r="0.90" fill="#9c9c9c"/>
<circle cx="146.30" cy="648.00" r="0.90" fill="#9c9c9c"/>
<circle cx="205.00" cy="648.00" r="0.90" fill="#9c9c9c"/>
<line x1="85.50" y1="658.40" x2="110.00" y2="658.40" stroke="#444" stroke-width="0.6"/>
<rect x="85.50" y="653.60" width="7.50" height="9.60" fill="#1b5e30" stroke="#222" stroke-width="0.6"/>
<line x1="86.00" y1="653.60" x2="86.00" y2="663.20" stroke="#222" stroke-width="0.7"/>
<circle cx="103.00" cy="658.40" r="0.90" fill="#9c9c9c"/>
<circle cx="105.50" cy="658.40" r="0.90" fill="#9c9c9c"/>
<circle cx="110.50" cy="658.40" r="0.90" fill="#9c9c9c"/>
<circle cx="113.50" cy="658.40" r="0.90" fill="#9c9c9c"/>
<circle cx="117.00" cy="658.40" r="0.90" fill="#9c9c9c"/>
<line x1="90.90" y1="669.00" x2="154.40" y2="669.00" stroke="#444" stroke-width="0.6"/>
<rect x="93.20" y="664.20" width="26.20" height="9.60" fill="#f5a31a" stroke="#444" stroke-width="0.6"/>
<line x1="102.60" y1="664.20" x2="102.60" y2="673.80" stroke="#444" stroke-width="0.7"/>
<line x1="85.50" y1="690.40" x2="89.50" y2="690.40" stroke="#666" stroke-width="0.6"/>
<rect x="85.50" y="685.60" width="2.00" height="9.60" fill="#c4c4c4" stroke="#333" stroke-width="0.6"/>
<line x1="85.80" y1="685.60" x2="85.80" y2="695.20" stroke="#333" stroke-width="0.7"/>
<circle cx="93.00" cy="690.40" r="0.90" fill="#9c9c9c"/>
<circle cx="96.00" cy="690.40" r="0.90" fill="#9c9c9c"/>
<circle cx="102.00" cy="690.40" r="0.90" fill="#9c9c9c"/>
<circle cx="118.90" cy="690.40" r="0.90" fill="#9c9c9c"/>
<circle cx="141.00" cy="690.40" r="0.90" fill="#9c9c9c"/>
<circle cx="143.70" cy="690.40" r="0.90" fill="#9c9c9c"/>
<circle cx="159.70" cy="690.40" r="0.90" fill="#9c9c9c"/>
<circle cx="209.80" cy="690.40" r="0.90" fill="#9c9c9c"/>
<line x1="85.50" y1="701.00" x2="92.00" y2="701.00" stroke="#444" stroke-width="0.6"/>
<rect x="85.50" y="696.20" width="3.00" height="9.60" fill="#1b5e30" stroke="#222" stroke-width="0.6"/>
<line x1="85.80" y1="696.20" x2="85.80" y2="705.80" stroke="#222" stroke-width="0.7"/>
<circle cx="95.00" cy="701.00" r="0.90" fill="#9c9c9c"/>
<circle cx="101.00" cy="701.00" r="0.90" fill="#9c9c9c"/>
<circle cx="104.00" cy="701.00" r="0.90" fill="#9c9c9c"/>
<circle cx="107.00" cy="701.00" r="0.90" fill="#9c9c9c"/>
<circle cx="109.50" cy="701.00" r="0.90" fill="#9c9c9c"/>
<circle cx="114.00" cy="701.00" r="0.90" fill="#9c9c9c"/>
<line x1="87.50" y1="711.50" x2="119.40" y2="711.50" stroke="#444" stroke-width="0.6"/>
<rect x="88.50" y="706.70" width="26.90" height="9.60" fill="#f5a31a" stroke="#444" stroke-width="0.6"/>
<line x1="98.80" y1="706.70" x2="98.80" y2="716.30" stroke="#444" stroke-width="0.7"/>
<circle cx="166.10" cy="711.50" r="0.90" fill="#9c9c9c"/>
<defs><marker id="ahp" markerWidth="6" markerHeight="6" refX="4.5" refY="3" orient="auto" markerUnits="userSpaceOnUse"><path d="M0,0.6 L5,3 L0,5.4 Z" fill="#7440a6"/></marker><marker id="aht" markerWidth="6" markerHeight="6" refX="4.5" refY="3" orient="auto" markerUnits="userSpaceOnUse"><path d="M0,0.6 L5,3 L0,5.4 Z" fill="#1fa9a5"/></marker><marker id="ahk" markerWidth="6" markerHeight="6" refX="4.5" refY="3" orient="auto" markerUnits="userSpaceOnUse"><path d="M0,0.6 L5,3 L0,5.4 Z" fill="#111"/></marker><marker id="ahk2" markerWidth="6" markerHeight="6" refX="4.5" refY="3" orient="auto-start-reverse" markerUnits="userSpaceOnUse"><path d="M0,0.6 L5,3 L0,5.4 Z" fill="#333"/></marker></defs>
<text x="274.6" y="462.7" font-size="12.5" fill="#000" font-weight="bold">h</text>
<rect x="318.50" y="469.50" width="111.00" height="104.00" fill="none" stroke="#8a8a8a" stroke-width="0.8"/>
<line x1="314.70" y1="572.60" x2="317.70" y2="572.60" stroke="#666" stroke-width="0.6"/>
<text x="311.8" y="575.4" font-size="7.9" text-anchor="end" fill="#1a1a1a">0</text>
<line x1="314.70" y1="536.55" x2="317.70" y2="536.55" stroke="#666" stroke-width="0.6"/>
<text x="311.8" y="539.4" font-size="7.9" text-anchor="end" fill="#1a1a1a">0.2</text>
<line x1="314.70" y1="500.50" x2="317.70" y2="500.50" stroke="#666" stroke-width="0.6"/>
<text x="311.8" y="503.3" font-size="7.9" text-anchor="end" fill="#1a1a1a">0.4</text>
<line x1="322.80" y1="574.00" x2="322.80" y2="577.00" stroke="#666" stroke-width="0.6"/>
<text x="322.8" y="588.8" font-size="7.9" text-anchor="middle" fill="#1a1a1a">0</text>
<line x1="346.90" y1="574.00" x2="346.90" y2="577.00" stroke="#666" stroke-width="0.6"/>
<text x="346.9" y="588.8" font-size="7.9" text-anchor="middle" fill="#1a1a1a">5</text>
<line x1="371.00" y1="574.00" x2="371.00" y2="577.00" stroke="#666" stroke-width="0.6"/>
<text x="371.0" y="588.8" font-size="7.9" text-anchor="middle" fill="#1a1a1a">10</text>
<line x1="395.10" y1="574.00" x2="395.10" y2="577.00" stroke="#666" stroke-width="0.6"/>
<text x="395.1" y="588.8" font-size="7.9" text-anchor="middle" fill="#1a1a1a">15</text>
<line x1="419.20" y1="574.00" x2="419.20" y2="577.00" stroke="#666" stroke-width="0.6"/>
<text x="419.2" y="588.8" font-size="7.9" text-anchor="middle" fill="#1a1a1a">20</text>
<text x="373.3" y="602.0" font-size="8.8" text-anchor="middle" fill="#1a1a1a" textLength="117.5" lengthAdjust="spacingAndGlyphs">Days after after Xist induction</text>
<text x="281.8" y="522.4" font-size="8.8" text-anchor="middle" fill="#1a1a1a" textLength="44.9" lengthAdjust="spacingAndGlyphs" transform="rotate(-90 281.8 522.4)">Allelic ratio</text>
<text x="291.4" y="522.0" font-size="8.8" text-anchor="middle" fill="#1a1a1a" textLength="55.2" lengthAdjust="spacingAndGlyphs" transform="rotate(-90 291.4 522.0)">(Xi / (Xi + Xa))</text>
<line x1="318.20" y1="552.50" x2="429.50" y2="552.50" stroke="#111" stroke-width="0.9" stroke-dasharray="2.6,1.8"/>
<line x1="318.20" y1="572.30" x2="429.50" y2="572.30" stroke="#111" stroke-width="0.9" stroke-dasharray="2.6,1.8"/>
<line x1="417.10" y1="554.00" x2="417.10" y2="570.80" stroke="#333" stroke-width="0.6" marker-start="url(#ahk2)" marker-end="url(#ahk2)"/>
<line x1="322.70" y1="485.10" x2="327.30" y2="497.00" stroke="#1fa9a5" stroke-width="1.7"/>
<line x1="332.90" y1="510.70" x2="339.40" y2="521.50" stroke="#1fa9a5" stroke-width="1.7"/>
<line x1="348.30" y1="532.40" x2="358.60" y2="540.10" stroke="#1fa9a5" stroke-width="1.7"/>
<line x1="371.40" y1="545.70" x2="385.90" y2="549.10" stroke="#1fa9a5" stroke-width="1.7"/>
<line x1="398.30" y1="551.20" x2="410.60" y2="552.00" stroke="#1fa9a5" stroke-width="1.7"/>
<line x1="318.80" y1="485.10" x2="324.40" y2="491.90" stroke="#7440a6" stroke-width="1.7"/>
<line x1="336.90" y1="507.30" x2="346.30" y2="516.70" stroke="#7440a6" stroke-width="1.7"/>
<line x1="356.80" y1="526.90" x2="367.10" y2="535.50" stroke="#7440a6" stroke-width="1.7"/>
<line x1="379.00" y1="544.90" x2="390.10" y2="551.70" stroke="#7440a6" stroke-width="1.7"/>
<line x1="403.00" y1="559.40" x2="414.90" y2="565.40" stroke="#7440a6" stroke-width="1.7"/>
<text x="341.5" y="481.0" font-size="7.9" fill="#7440a6" textLength="68.0" lengthAdjust="spacingAndGlyphs">Full silencing model</text>
<text x="356.0" y="514.9" font-size="7.9" fill="#111" textLength="61.5" lengthAdjust="spacingAndGlyphs">Silencing halftime</text>
<text x="319.8" y="566.2" font-size="7.9" fill="#1fa9a5" textLength="78.5" lengthAdjust="spacingAndGlyphs">Residual escape model</text>
<path d="M363.7,485.3 C365,498 356,507 341.8,508.4" fill="none" stroke="#7440a6" stroke-width="0.7" marker-end="url(#ahp)"/>
<path d="M364.5,517.9 C361,520 360.5,527 363.3,532.6" fill="none" stroke="#111" stroke-width="0.7" marker-end="url(#ahk)"/>
<path d="M325.2,556 C323,544 332,533 345,531.2" fill="none" stroke="#1fa9a5" stroke-width="0.7" marker-end="url(#aht)"/>
<text x="274.6" y="619.1" font-size="12.5" fill="#000" font-weight="bold">i</text>
<rect x="318.50" y="615.50" width="113.00" height="111.00" fill="none" stroke="#8a8a8a" stroke-width="0.8"/>
<line x1="315.40" y1="724.60" x2="318.40" y2="724.60" stroke="#666" stroke-width="0.6"/>
<text x="311.2" y="727.4" font-size="7.9" text-anchor="end" fill="#1a1a1a">0</text>
<line x1="315.40" y1="683.65" x2="318.40" y2="683.65" stroke="#666" stroke-width="0.6"/>
<text x="311.2" y="686.4" font-size="7.9" text-anchor="end" fill="#1a1a1a">5</text>
<line x1="315.40" y1="642.70" x2="318.40" y2="642.70" stroke="#666" stroke-width="0.6"/>
<text x="311.2" y="645.5" font-size="7.9" text-anchor="end" fill="#1a1a1a">10</text>
<text x="285.2" y="672.5" font-size="8.8" text-anchor="middle" fill="#1a1a1a" textLength="32.2" lengthAdjust="spacingAndGlyphs" transform="rotate(-90 285.2 672.5)">Half−life</text>
<text x="296.0" y="671.3" font-size="8.8" text-anchor="middle" fill="#1a1a1a" textLength="104.0" lengthAdjust="spacingAndGlyphs" transform="rotate(-90 296.0 671.3)">(Nonlinear regression (d))</text>
<line x1="339.50" y1="726.40" x2="339.50" y2="729.40" stroke="#666" stroke-width="0.6"/>
<text x="342.1" y="736.8" font-size="8.8" text-anchor="end" fill="#1a1a1a" transform="rotate(-45 342.1 736.8)">Constitutive</text>
<line x1="374.20" y1="726.40" x2="374.20" y2="729.40" stroke="#666" stroke-width="0.6"/>
<text x="376.8" y="736.8" font-size="8.8" text-anchor="end" fill="#1a1a1a" transform="rotate(-45 376.8 736.8)">Facultative</text>
<line x1="410.20" y1="726.40" x2="410.20" y2="729.40" stroke="#666" stroke-width="0.6"/>
<text x="412.8" y="736.8" font-size="8.8" text-anchor="end" fill="#1a1a1a" transform="rotate(-45 412.8 736.8)">NPC-specific</text>
<line x1="339.50" y1="639.50" x2="374.20" y2="639.50" stroke="#444" stroke-width="0.75"/>
<text x="356.9" y="638.2" font-size="7.4" text-anchor="middle" fill="#1a1a1a">0.76</text>
<line x1="339.50" y1="631.50" x2="410.20" y2="631.50" stroke="#444" stroke-width="0.75"/>
<text x="374.2" y="630.2" font-size="7.4" text-anchor="middle" fill="#1a1a1a">0.0011</text>
<line x1="374.20" y1="623.50" x2="410.20" y2="623.50" stroke="#444" stroke-width="0.75"/>
<text x="377.4" y="621.4" font-size="7.4" fill="#1a1a1a" textLength="25" lengthAdjust="spacingAndGlyphs">2.1 × 10</text><text x="403" y="618.2" font-size="5" fill="#1a1a1a">−6</text>
<circle cx="330.30" cy="689.90" r="1.10" fill="#f5a31a" stroke="#6b4a10" stroke-width="0.3"/>
<circle cx="347.70" cy="691.60" r="1.10" fill="#f5a31a" stroke="#6b4a10" stroke-width="0.3"/>
<circle cx="329.60" cy="704.30" r="1.10" fill="#f5a31a" stroke="#6b4a10" stroke-width="0.3"/>
<circle cx="345.00" cy="710.20" r="1.10" fill="#f5a31a" stroke="#6b4a10" stroke-width="0.3"/>
<circle cx="333.30" cy="715.20" r="1.10" fill="#f5a31a" stroke="#6b4a10" stroke-width="0.3"/>
<circle cx="339.50" cy="716.70" r="1.10" fill="#f5a31a" stroke="#6b4a10" stroke-width="0.3"/>
<circle cx="340.20" cy="650.70" r="1.10" fill="#f5a31a" stroke="#6b4a10" stroke-width="0.3"/>
<line x1="339.50" y1="691.90" x2="339.50" y2="709.70" stroke="#555" stroke-width="0.6"/>
<circle cx="339.50" cy="699.80" r="2.80" fill="#f5a31a" stroke="#6b4a10" stroke-width="0.4"/>
<circle cx="374.20" cy="721.34" r="1.10" fill="#1b5e30" stroke="#0a2010" stroke-width="0.3"/>
<circle cx="377.35" cy="721.27" r="1.10" fill="#1b5e30" stroke="#0a2010" stroke-width="0.3"/>
<circle cx="371.05" cy="721.11" r="1.10" fill="#1b5e30" stroke="#0a2010" stroke-width="0.3"/>
<circle cx="380.50" cy="720.42" r="1.10" fill="#1b5e30" stroke="#0a2010" stroke-width="0.3"/>
<circle cx="367.90" cy="720.30" r="1.10" fill="#1b5e30" stroke="#0a2010" stroke-width="0.3"/>
<circle cx="383.65" cy="719.96" r="1.10" fill="#1b5e30" stroke="#0a2010" stroke-width="0.3"/>
<circle cx="364.75" cy="719.62" r="1.10" fill="#1b5e30" stroke="#0a2010" stroke-width="0.3"/>
<circle cx="374.90" cy="718.38" r="1.10" fill="#1b5e30" stroke="#0a2010" stroke-width="0.3"/>
<circle cx="371.75" cy="717.70" r="1.10" fill="#1b5e30" stroke="#0a2010" stroke-width="0.3"/>
<circle cx="378.05" cy="717.59" r="1.10" fill="#1b5e30" stroke="#0a2010" stroke-width="0.3"/>
<circle cx="368.95" cy="716.60" r="1.10" fill="#1b5e30" stroke="#0a2010" stroke-width="0.3"/>
<circle cx="381.20" cy="716.51" r="1.10" fill="#1b5e30" stroke="#0a2010" stroke-width="0.3"/>
<circle cx="365.80" cy="716.41" r="1.10" fill="#1b5e30" stroke="#0a2010" stroke-width="0.3"/>
<circle cx="384.35" cy="715.83" r="1.10" fill="#1b5e30" stroke="#0a2010" stroke-width="0.3"/>
<circle cx="374.20" cy="714.69" r="1.10" fill="#1b5e30" stroke="#0a2010" stroke-width="0.3"/>
<circle cx="377.35" cy="714.53" r="1.10" fill="#1b5e30" stroke="#0a2010" stroke-width="0.3"/>
<circle cx="371.05" cy="714.13" r="1.10" fill="#1b5e30" stroke="#0a2010" stroke-width="0.3"/>
<circle cx="363.70" cy="714.04" r="1.10" fill="#1b5e30" stroke="#0a2010" stroke-width="0.3"/>
<circle cx="367.55" cy="713.83" r="1.10" fill="#1b5e30" stroke="#0a2010" stroke-width="0.3"/>
<circle cx="380.15" cy="713.24" r="1.10" fill="#1b5e30" stroke="#0a2010" stroke-width="0.3"/>
<circle cx="385.75" cy="713.13" r="1.10" fill="#1b5e30" stroke="#0a2010" stroke-width="0.3"/>
<circle cx="360.90" cy="712.66" r="1.10" fill="#1b5e30" stroke="#0a2010" stroke-width="0.3"/>
<circle cx="366.86" cy="712.56" r="1.10" fill="#1b5e30" stroke="#0a2010" stroke-width="0.3"/>
<circle cx="375.44" cy="712.32" r="1.10" fill="#1b5e30" stroke="#0a2010" stroke-width="0.3"/>
<circle cx="372.45" cy="710.98" r="1.10" fill="#1b5e30" stroke="#0a2010" stroke-width="0.3"/>
<circle cx="378.05" cy="710.61" r="1.10" fill="#1b5e30" stroke="#0a2010" stroke-width="0.3"/>
<circle cx="369.30" cy="710.13" r="1.10" fill="#1b5e30" stroke="#0a2010" stroke-width="0.3"/>
<circle cx="380.85" cy="709.53" r="1.10" fill="#1b5e30" stroke="#0a2010" stroke-width="0.3"/>
<circle cx="366.15" cy="709.48" r="1.10" fill="#1b5e30" stroke="#0a2010" stroke-width="0.3"/>
<circle cx="384.00" cy="709.47" r="1.10" fill="#1b5e30" stroke="#0a2010" stroke-width="0.3"/>
<circle cx="374.90" cy="708.95" r="1.10" fill="#1b5e30" stroke="#0a2010" stroke-width="0.3"/>
<circle cx="363.00" cy="708.56" r="1.10" fill="#1b5e30" stroke="#0a2010" stroke-width="0.3"/>
<circle cx="386.80" cy="708.26" r="1.10" fill="#1b5e30" stroke="#0a2010" stroke-width="0.3"/>
<circle cx="370.56" cy="708.24" r="1.10" fill="#1b5e30" stroke="#0a2010" stroke-width="0.3"/>
<circle cx="377.11" cy="708.10" r="1.10" fill="#1b5e30" stroke="#0a2010" stroke-width="0.3"/>
<circle cx="377.72" cy="707.97" r="1.10" fill="#1b5e30" stroke="#0a2010" stroke-width="0.3"/>
<circle cx="362.03" cy="707.88" r="1.10" fill="#1b5e30" stroke="#0a2010" stroke-width="0.3"/>
<circle cx="360.57" cy="707.73" r="1.10" fill="#1b5e30" stroke="#0a2010" stroke-width="0.3"/>
<circle cx="383.65" cy="707.48" r="1.10" fill="#1b5e30" stroke="#0a2010" stroke-width="0.3"/>
<circle cx="367.46" cy="707.45" r="1.10" fill="#1b5e30" stroke="#0a2010" stroke-width="0.3"/>
<circle cx="366.76" cy="706.93" r="1.10" fill="#1b5e30" stroke="#0a2010" stroke-width="0.3"/>
<circle cx="388.08" cy="706.66" r="1.10" fill="#1b5e30" stroke="#0a2010" stroke-width="0.3"/>
<circle cx="373.50" cy="706.24" r="1.10" fill="#1b5e30" stroke="#0a2010" stroke-width="0.3"/>
<circle cx="379.80" cy="705.74" r="1.10" fill="#1b5e30" stroke="#0a2010" stroke-width="0.3"/>
<circle cx="376.30" cy="704.61" r="1.10" fill="#1b5e30" stroke="#0a2010" stroke-width="0.3"/>
<circle cx="371.05" cy="704.42" r="1.10" fill="#1b5e30" stroke="#0a2010" stroke-width="0.3"/>
<circle cx="367.90" cy="703.97" r="1.10" fill="#1b5e30" stroke="#0a2010" stroke-width="0.3"/>
<circle cx="382.25" cy="703.89" r="1.10" fill="#1b5e30" stroke="#0a2010" stroke-width="0.3"/>
<circle cx="364.75" cy="703.18" r="1.10" fill="#1b5e30" stroke="#0a2010" stroke-width="0.3"/>
<circle cx="385.40" cy="702.98" r="1.10" fill="#1b5e30" stroke="#0a2010" stroke-width="0.3"/>
<circle cx="373.85" cy="702.86" r="1.10" fill="#1b5e30" stroke="#0a2010" stroke-width="0.3"/>
<circle cx="378.75" cy="702.54" r="1.10" fill="#1b5e30" stroke="#0a2010" stroke-width="0.3"/>
<circle cx="370.00" cy="701.59" r="1.10" fill="#1b5e30" stroke="#0a2010" stroke-width="0.3"/>
<circle cx="362.30" cy="701.32" r="1.10" fill="#1b5e30" stroke="#0a2010" stroke-width="0.3"/>
<circle cx="375.60" cy="700.32" r="1.10" fill="#1b5e30" stroke="#0a2010" stroke-width="0.3"/>
<circle cx="380.85" cy="700.18" r="1.10" fill="#1b5e30" stroke="#0a2010" stroke-width="0.3"/>
<circle cx="373.15" cy="698.52" r="1.10" fill="#1b5e30" stroke="#0a2010" stroke-width="0.3"/>
<circle cx="375.25" cy="696.33" r="1.10" fill="#1b5e30" stroke="#0a2010" stroke-width="0.3"/>
<circle cx="371.05" cy="696.22" r="1.10" fill="#1b5e30" stroke="#0a2010" stroke-width="0.3"/>
<circle cx="378.40" cy="695.87" r="1.10" fill="#1b5e30" stroke="#0a2010" stroke-width="0.3"/>
<circle cx="367.90" cy="695.84" r="1.10" fill="#1b5e30" stroke="#0a2010" stroke-width="0.3"/>
<circle cx="381.55" cy="695.45" r="1.10" fill="#1b5e30" stroke="#0a2010" stroke-width="0.3"/>
<circle cx="364.75" cy="695.22" r="1.10" fill="#1b5e30" stroke="#0a2010" stroke-width="0.3"/>
<circle cx="384.70" cy="694.87" r="1.10" fill="#1b5e30" stroke="#0a2010" stroke-width="0.3"/>
<circle cx="373.85" cy="693.54" r="1.10" fill="#1b5e30" stroke="#0a2010" stroke-width="0.3"/>
<circle cx="377.00" cy="692.46" r="1.10" fill="#1b5e30" stroke="#0a2010" stroke-width="0.3"/>
<circle cx="371.05" cy="691.84" r="1.10" fill="#1b5e30" stroke="#0a2010" stroke-width="0.3"/>
<circle cx="379.80" cy="691.02" r="1.10" fill="#1b5e30" stroke="#0a2010" stroke-width="0.3"/>
<circle cx="374.20" cy="690.20" r="1.10" fill="#1b5e30" stroke="#0a2010" stroke-width="0.3"/>
<circle cx="369.30" cy="689.38" r="1.10" fill="#1b5e30" stroke="#0a2010" stroke-width="0.3"/>
<circle cx="377.00" cy="688.56" r="1.10" fill="#1b5e30" stroke="#0a2010" stroke-width="0.3"/>
<circle cx="372.45" cy="687.75" r="1.10" fill="#1b5e30" stroke="#0a2010" stroke-width="0.3"/>
<circle cx="375.25" cy="686.11" r="1.10" fill="#1b5e30" stroke="#0a2010" stroke-width="0.3"/>
<circle cx="373.50" cy="683.65" r="1.10" fill="#1b5e30" stroke="#0a2010" stroke-width="0.3"/>
<circle cx="376.65" cy="682.83" r="1.10" fill="#1b5e30" stroke="#0a2010" stroke-width="0.3"/>
<circle cx="370.70" cy="682.01" r="1.10" fill="#1b5e30" stroke="#0a2010" stroke-width="0.3"/>
<circle cx="374.20" cy="680.37" r="1.10" fill="#1b5e30" stroke="#0a2010" stroke-width="0.3"/>
<circle cx="377.00" cy="678.74" r="1.10" fill="#1b5e30" stroke="#0a2010" stroke-width="0.3"/>
<circle cx="374.20" cy="675.46" r="1.10" fill="#1b5e30" stroke="#0a2010" stroke-width="0.3"/>
<circle cx="377.35" cy="674.64" r="1.10" fill="#1b5e30" stroke="#0a2010" stroke-width="0.3"/>
<circle cx="372.45" cy="673.00" r="1.10" fill="#1b5e30" stroke="#0a2010" stroke-width="0.3"/>
<circle cx="375.25" cy="671.37" r="1.10" fill="#1b5e30" stroke="#0a2010" stroke-width="0.3"/>
<circle cx="373.50" cy="668.91" r="1.10" fill="#1b5e30" stroke="#0a2010" stroke-width="0.3"/>
<circle cx="376.30" cy="667.27" r="1.10" fill="#1b5e30" stroke="#0a2010" stroke-width="0.3"/>
<circle cx="371.75" cy="666.45" r="1.10" fill="#1b5e30" stroke="#0a2010" stroke-width="0.3"/>
<circle cx="374.55" cy="664.81" r="1.10" fill="#1b5e30" stroke="#0a2010" stroke-width="0.3"/>
<circle cx="374.20" cy="657.44" r="1.10" fill="#1b5e30" stroke="#0a2010" stroke-width="0.3"/>
<circle cx="374.20" cy="652.53" r="1.10" fill="#1b5e30" stroke="#0a2010" stroke-width="0.3"/>
<circle cx="377.35" cy="651.71" r="1.10" fill="#1b5e30" stroke="#0a2010" stroke-width="0.3"/>
<circle cx="371.40" cy="650.89" r="1.10" fill="#1b5e30" stroke="#0a2010" stroke-width="0.3"/>
<circle cx="374.20" cy="643.52" r="1.10" fill="#1b5e30" stroke="#0a2010" stroke-width="0.3"/>
<line x1="374.20" y1="690.00" x2="374.20" y2="716.00" stroke="#333" stroke-width="0.5"/>
<circle cx="374.20" cy="703.50" r="2.50" fill="#1e6b35" stroke="#0a2010" stroke-width="0.4"/>
<circle cx="410.20" cy="720.83" r="1.00" fill="#e4e4e4" stroke="#555" stroke-width="0.35"/>
<circle cx="413.00" cy="720.72" r="1.00" fill="#e4e4e4" stroke="#555" stroke-width="0.35"/>
<circle cx="407.40" cy="720.50" r="1.00" fill="#e4e4e4" stroke="#555" stroke-width="0.35"/>
<circle cx="415.80" cy="720.50" r="1.00" fill="#e4e4e4" stroke="#555" stroke-width="0.35"/>
<circle cx="404.60" cy="720.37" r="1.00" fill="#e4e4e4" stroke="#555" stroke-width="0.35"/>
<circle cx="418.60" cy="720.25" r="1.00" fill="#e4e4e4" stroke="#555" stroke-width="0.35"/>
<circle cx="401.80" cy="719.87" r="1.00" fill="#e4e4e4" stroke="#555" stroke-width="0.35"/>
<circle cx="421.40" cy="719.76" r="1.00" fill="#e4e4e4" stroke="#555" stroke-width="0.35"/>
<circle cx="399.00" cy="719.60" r="1.00" fill="#e4e4e4" stroke="#555" stroke-width="0.35"/>
<circle cx="403.34" cy="719.58" r="1.00" fill="#e4e4e4" stroke="#555" stroke-width="0.35"/>
<circle cx="399.88" cy="719.58" r="1.00" fill="#e4e4e4" stroke="#555" stroke-width="0.35"/>
<circle cx="407.50" cy="719.21" r="1.00" fill="#e4e4e4" stroke="#555" stroke-width="0.35"/>
<circle cx="401.23" cy="719.11" r="1.00" fill="#e4e4e4" stroke="#555" stroke-width="0.35"/>
<circle cx="398.93" cy="718.90" r="1.00" fill="#e4e4e4" stroke="#555" stroke-width="0.35"/>
<circle cx="407.64" cy="718.83" r="1.00" fill="#e4e4e4" stroke="#555" stroke-width="0.35"/>
<circle cx="421.07" cy="718.63" r="1.00" fill="#e4e4e4" stroke="#555" stroke-width="0.35"/>
<circle cx="410.55" cy="718.09" r="1.00" fill="#e4e4e4" stroke="#555" stroke-width="0.35"/>
<circle cx="413.35" cy="717.88" r="1.00" fill="#e4e4e4" stroke="#555" stroke-width="0.35"/>
<circle cx="416.15" cy="717.66" r="1.00" fill="#e4e4e4" stroke="#555" stroke-width="0.35"/>
<circle cx="405.65" cy="716.74" r="1.00" fill="#e4e4e4" stroke="#555" stroke-width="0.35"/>
<circle cx="408.45" cy="716.07" r="1.00" fill="#e4e4e4" stroke="#555" stroke-width="0.35"/>
<circle cx="402.85" cy="716.05" r="1.00" fill="#e4e4e4" stroke="#555" stroke-width="0.35"/>
<circle cx="411.25" cy="715.33" r="1.00" fill="#e4e4e4" stroke="#555" stroke-width="0.35"/>
<circle cx="414.05" cy="715.00" r="1.00" fill="#e4e4e4" stroke="#555" stroke-width="0.35"/>
<circle cx="416.85" cy="714.80" r="1.00" fill="#e4e4e4" stroke="#555" stroke-width="0.35"/>
<circle cx="419.65" cy="714.74" r="1.00" fill="#e4e4e4" stroke="#555" stroke-width="0.35"/>
<circle cx="400.75" cy="714.33" r="1.00" fill="#e4e4e4" stroke="#555" stroke-width="0.35"/>
<circle cx="406.35" cy="714.08" r="1.00" fill="#e4e4e4" stroke="#555" stroke-width="0.35"/>
<circle cx="409.15" cy="713.37" r="1.00" fill="#e4e4e4" stroke="#555" stroke-width="0.35"/>
<circle cx="403.55" cy="713.22" r="1.00" fill="#e4e4e4" stroke="#555" stroke-width="0.35"/>
<circle cx="411.25" cy="711.50" r="1.00" fill="#e4e4e4" stroke="#555" stroke-width="0.35"/>
<circle cx="408.45" cy="710.68" r="1.00" fill="#e4e4e4" stroke="#555" stroke-width="0.35"/>
<circle cx="410.20" cy="703.31" r="1.00" fill="#e4e4e4" stroke="#555" stroke-width="0.35"/>
<circle cx="413.00" cy="702.49" r="1.00" fill="#e4e4e4" stroke="#555" stroke-width="0.35"/>
<circle cx="410.20" cy="695.94" r="1.00" fill="#e4e4e4" stroke="#555" stroke-width="0.35"/>
<circle cx="410.20" cy="661.54" r="1.00" fill="#e4e4e4" stroke="#555" stroke-width="0.35"/>
<circle cx="410.20" cy="716.00" r="3.00" fill="#c8c8c8" stroke="#777" stroke-width="0.4"/>
<text x="475.6" y="462.3" font-size="12.5" fill="#000" font-weight="bold">j</text>
<text x="516.5" y="464.2" font-size="7.9" fill="#1a1a1a" textLength="42.8" lengthAdjust="spacingAndGlyphs">No. of genes</text>
<circle cx="567.10" cy="461.30" r="1.10" fill="none" stroke="#333" stroke-width="0.55"/>
<text x="571.7" y="464.2" font-size="7.9" fill="#1a1a1a">3</text>
<circle cx="582.10" cy="461.30" r="2.10" fill="none" stroke="#333" stroke-width="0.55"/>
<text x="587.7" y="464.2" font-size="7.9" fill="#1a1a1a">6</text>
<circle cx="597.90" cy="461.30" r="2.50" fill="none" stroke="#333" stroke-width="0.55"/>
<text x="603.9" y="464.2" font-size="7.9" fill="#1a1a1a">9</text>
<circle cx="615.30" cy="461.30" r="2.90" fill="none" stroke="#333" stroke-width="0.55"/>
<text x="621.7" y="464.2" font-size="7.9" fill="#1a1a1a">12</text>
<rect x="517.50" y="468.50" width="112.00" height="108.00" fill="none" stroke="#8a8a8a" stroke-width="0.8"/>
<line x1="514.30" y1="566.90" x2="517.30" y2="566.90" stroke="#666" stroke-width="0.6"/>
<text x="511.2" y="569.7" font-size="7.9" text-anchor="end" fill="#1a1a1a">0</text>
<line x1="514.30" y1="540.62" x2="517.30" y2="540.62" stroke="#666" stroke-width="0.6"/>
<text x="511.2" y="543.4" font-size="7.9" text-anchor="end" fill="#1a1a1a">2.5</text>
<line x1="514.30" y1="514.35" x2="517.30" y2="514.35" stroke="#666" stroke-width="0.6"/>
<text x="511.2" y="517.1" font-size="7.9" text-anchor="end" fill="#1a1a1a">5.0</text>
<line x1="514.30" y1="488.07" x2="517.30" y2="488.07" stroke="#666" stroke-width="0.6"/>
<text x="511.2" y="490.9" font-size="7.9" text-anchor="end" fill="#1a1a1a">7.5</text>
<line x1="517.80" y1="576.10" x2="517.80" y2="579.00" stroke="#666" stroke-width="0.6"/>
<text x="517.8" y="588.9" font-size="7.9" text-anchor="middle" fill="#1a1a1a">0</text>
<line x1="549.78" y1="576.10" x2="549.78" y2="579.00" stroke="#666" stroke-width="0.6"/>
<text x="549.8" y="588.9" font-size="7.9" text-anchor="middle" fill="#1a1a1a">50 Mb</text>
<line x1="581.76" y1="576.10" x2="581.76" y2="579.00" stroke="#666" stroke-width="0.6"/>
<text x="581.8" y="588.9" font-size="7.9" text-anchor="middle" fill="#1a1a1a">100 Mb</text>
<line x1="613.74" y1="576.10" x2="613.74" y2="579.00" stroke="#666" stroke-width="0.6"/>
<text x="613.7" y="588.9" font-size="7.9" text-anchor="middle" fill="#1a1a1a">150 Mb</text>
<text x="573.5" y="602.0" font-size="8.8" text-anchor="middle" fill="#1a1a1a" textLength="147.6" lengthAdjust="spacingAndGlyphs">Genomic location on X chromosome</text>
<text x="492.6" y="519.6" font-size="8.8" text-anchor="middle" fill="#1a1a1a" textLength="65.7" lengthAdjust="spacingAndGlyphs" transform="rotate(-90 492.6 519.6)">Average half-life</text>
<line x1="523.00" y1="515.00" x2="523.00" y2="560.00" stroke="#c8c8c8" stroke-width="0.5" stroke-dasharray="1.2,1.2"/>
<line x1="531.00" y1="513.00" x2="531.00" y2="560.00" stroke="#c8c8c8" stroke-width="0.5" stroke-dasharray="1.2,1.2"/>
<line x1="565.40" y1="484.00" x2="565.40" y2="560.00" stroke="#c8c8c8" stroke-width="0.5" stroke-dasharray="1.2,1.2"/>
<line x1="613.20" y1="540.00" x2="613.20" y2="565.00" stroke="#c8c8c8" stroke-width="0.5" stroke-dasharray="1.2,1.2"/>
<line x1="621.50" y1="527.00" x2="621.50" y2="565.00" stroke="#c8c8c8" stroke-width="0.5" stroke-dasharray="1.2,1.2"/>
<line x1="624.20" y1="474.00" x2="624.20" y2="490.00" stroke="#c8c8c8" stroke-width="0.5" stroke-dasharray="1.2,1.2"/>
<circle cx="523.10" cy="548.80" r="3.00" fill="#b2df8a" stroke="#555" stroke-width="0.4"/>
<text x="523.6" y="558.6" font-size="7.9" text-anchor="middle" fill="#1a1a1a">1</text>
<circle cx="523.10" cy="536.20" r="2.50" fill="#e31a1c" stroke="#555" stroke-width="0.4"/>
<text x="522.3" y="531.6" font-size="7.9" text-anchor="middle" fill="#1a1a1a">2</text>
<circle cx="526.20" cy="538.80" r="1.80" fill="#ffff99" stroke="#555" stroke-width="0.4"/>
<text x="533.0" y="546.8" font-size="7.9" text-anchor="middle" fill="#1a1a1a">3</text>
<circle cx="530.90" cy="527.00" r="2.20" fill="#a6cee3" stroke="#555" stroke-width="0.4"/>
<text x="537.0" y="524.3" font-size="7.9" text-anchor="middle" fill="#1a1a1a">4</text>
<circle cx="530.90" cy="559.80" r="1.20" fill="#1f78b4" stroke="#555" stroke-width="0.4"/>
<text x="537.8" y="568.4" font-size="7.9" text-anchor="middle" fill="#1a1a1a">5</text>
<circle cx="565.10" cy="543.00" r="3.00" fill="#33a02c" stroke="#555" stroke-width="0.4"/>
<text x="557.2" y="551.1" font-size="7.9" text-anchor="middle" fill="#1a1a1a">6</text>
<circle cx="565.60" cy="511.00" r="3.30" fill="#fb9a99" stroke="#555" stroke-width="0.4"/>
<text x="556.7" y="519.8" font-size="7.9" text-anchor="middle" fill="#1a1a1a">7</text>
<circle cx="615.00" cy="553.80" r="2.00" fill="#ff7f00" stroke="#555" stroke-width="0.4"/>
<text x="607.1" y="563.9" font-size="7.9" text-anchor="middle" fill="#1a1a1a">8</text>
<circle cx="621.60" cy="546.40" r="1.80" fill="#cab2d6" stroke="#555" stroke-width="0.4"/>
<text x="621.6" y="543.4" font-size="7.9" text-anchor="middle" fill="#1a1a1a">10</text>
<circle cx="624.20" cy="481.80" r="1.80" fill="#6a3d9a" stroke="#555" stroke-width="0.4"/>
<text x="610.5" y="479.8" font-size="7.9" text-anchor="middle" fill="#1a1a1a">11</text>
<text x="607.7" y="551.3" font-size="7.9" text-anchor="middle" fill="#1a1a1a">9</text>
<line x1="524.50" y1="551.50" x2="523.50" y2="553.50" stroke="#444" stroke-width="0.5"/>
<line x1="528.00" y1="539.80" x2="531.00" y2="541.50" stroke="#444" stroke-width="0.5"/>
<line x1="532.50" y1="526.50" x2="535.00" y2="523.50" stroke="#444" stroke-width="0.5"/>
<line x1="532.00" y1="560.50" x2="535.50" y2="562.50" stroke="#444" stroke-width="0.5"/>
<line x1="562.00" y1="544.50" x2="559.50" y2="546.00" stroke="#444" stroke-width="0.5"/>
<line x1="562.50" y1="512.50" x2="559.50" y2="514.50" stroke="#444" stroke-width="0.5"/>
<line x1="613.00" y1="555.00" x2="610.00" y2="557.50" stroke="#444" stroke-width="0.5"/>
<line x1="613.50" y1="552.50" x2="610.50" y2="550.00" stroke="#444" stroke-width="0.5"/>
<text x="475.0" y="620.4" font-size="12.5" fill="#000" font-weight="bold">k</text>
<rect x="518.50" y="615.50" width="113.00" height="111.00" fill="none" stroke="#8a8a8a" stroke-width="0.8"/>
<line x1="515.40" y1="721.40" x2="518.40" y2="721.40" stroke="#666" stroke-width="0.6"/>
<text x="512.7" y="724.2" font-size="7.9" text-anchor="end" fill="#1a1a1a">0</text>
<line x1="515.40" y1="687.47" x2="518.40" y2="687.47" stroke="#666" stroke-width="0.6"/>
<text x="512.7" y="690.3" font-size="7.9" text-anchor="end" fill="#1a1a1a">0.1</text>
<line x1="515.40" y1="653.54" x2="518.40" y2="653.54" stroke="#666" stroke-width="0.6"/>
<text x="512.7" y="656.3" font-size="7.9" text-anchor="end" fill="#1a1a1a">0.2</text>
<line x1="515.40" y1="619.61" x2="518.40" y2="619.61" stroke="#666" stroke-width="0.6"/>
<text x="512.7" y="622.4" font-size="7.9" text-anchor="end" fill="#1a1a1a">0.3</text>
<text x="482.6" y="672.2" font-size="8.8" text-anchor="middle" fill="#1a1a1a" textLength="65.0" lengthAdjust="spacingAndGlyphs" transform="rotate(-90 482.6 672.2)">Residual escape</text>
<text x="493.2" y="671.3" font-size="8.8" text-anchor="middle" fill="#1a1a1a" textLength="89.4" lengthAdjust="spacingAndGlyphs" transform="rotate(-90 493.2 671.3)">(Nonlinear regression)</text>
<line x1="540.00" y1="726.60" x2="540.00" y2="729.60" stroke="#666" stroke-width="0.6"/>
<text x="542.6" y="736.8" font-size="8.8" text-anchor="end" fill="#1a1a1a" transform="rotate(-45 542.6 736.8)">Constitutive</text>
<line x1="575.00" y1="726.60" x2="575.00" y2="729.60" stroke="#666" stroke-width="0.6"/>
<text x="577.6" y="736.8" font-size="8.8" text-anchor="end" fill="#1a1a1a" transform="rotate(-45 577.6 736.8)">Facultative</text>
<line x1="610.70" y1="726.60" x2="610.70" y2="729.60" stroke="#666" stroke-width="0.6"/>
<text x="613.3" y="736.8" font-size="8.8" text-anchor="end" fill="#1a1a1a" transform="rotate(-45 613.3 736.8)">NPC-specific</text>
<line x1="540.00" y1="639.50" x2="575.00" y2="639.50" stroke="#444" stroke-width="0.75"/>
<text x="557.5" y="638.2" font-size="7.4" text-anchor="middle" fill="#1a1a1a">0.022</text>
<line x1="540.00" y1="631.50" x2="610.70" y2="631.50" stroke="#444" stroke-width="0.75"/>
<text x="575.0" y="630.2" font-size="7.4" text-anchor="middle" fill="#1a1a1a">0.075</text>
<line x1="575.00" y1="623.50" x2="610.70" y2="623.50" stroke="#444" stroke-width="0.75"/>
<text x="592.9" y="622.2" font-size="7.4" text-anchor="middle" fill="#1a1a1a">0.074</text>
<line x1="540.50" y1="662.00" x2="540.50" y2="718.40" stroke="#444" stroke-width="0.6"/>
<circle cx="533.30" cy="653.90" r="1.10" fill="#f5a31a" stroke="#6b4a10" stroke-width="0.3"/>
<circle cx="540.70" cy="643.20" r="1.10" fill="#f5a31a" stroke="#6b4a10" stroke-width="0.3"/>
<circle cx="544.50" cy="661.30" r="1.10" fill="#f5a31a" stroke="#6b4a10" stroke-width="0.3"/>
<circle cx="537.80" cy="695.30" r="1.10" fill="#f5a31a" stroke="#6b4a10" stroke-width="0.3"/>
<circle cx="529.60" cy="714.00" r="1.10" fill="#f5a31a" stroke="#6b4a10" stroke-width="0.3"/>
<circle cx="533.30" cy="721.60" r="1.10" fill="#f5a31a" stroke="#6b4a10" stroke-width="0.3"/>
<circle cx="540.00" cy="721.60" r="1.10" fill="#f5a31a" stroke="#6b4a10" stroke-width="0.3"/>
<circle cx="546.90" cy="717.90" r="1.10" fill="#f5a31a" stroke="#6b4a10" stroke-width="0.3"/>
<circle cx="540.50" cy="700.50" r="2.80" fill="#f5a31a" stroke="#6b4a10" stroke-width="0.4"/>
<circle cx="575.00" cy="717.33" r="1.15" fill="#1b5e30" stroke="#0a2010" stroke-width="0.3"/>
<circle cx="577.10" cy="716.65" r="1.15" fill="#1b5e30" stroke="#0a2010" stroke-width="0.3"/>
<circle cx="573.25" cy="715.97" r="1.15" fill="#1b5e30" stroke="#0a2010" stroke-width="0.3"/>
<circle cx="578.85" cy="715.29" r="1.15" fill="#1b5e30" stroke="#0a2010" stroke-width="0.3"/>
<circle cx="575.00" cy="714.61" r="1.15" fill="#1b5e30" stroke="#0a2010" stroke-width="0.3"/>
<circle cx="577.10" cy="713.94" r="1.15" fill="#1b5e30" stroke="#0a2010" stroke-width="0.3"/>
<circle cx="573.60" cy="712.92" r="1.15" fill="#1b5e30" stroke="#0a2010" stroke-width="0.3"/>
<circle cx="575.70" cy="711.90" r="1.15" fill="#1b5e30" stroke="#0a2010" stroke-width="0.3"/>
<circle cx="577.80" cy="711.22" r="1.15" fill="#1b5e30" stroke="#0a2010" stroke-width="0.3"/>
<circle cx="575.00" cy="709.52" r="1.15" fill="#1b5e30" stroke="#0a2010" stroke-width="0.3"/>
<circle cx="576.40" cy="707.83" r="1.15" fill="#1b5e30" stroke="#0a2010" stroke-width="0.3"/>
<circle cx="575.00" cy="706.13" r="1.15" fill="#1b5e30" stroke="#0a2010" stroke-width="0.3"/>
<circle cx="576.40" cy="704.43" r="1.15" fill="#1b5e30" stroke="#0a2010" stroke-width="0.3"/>
<circle cx="575.00" cy="702.74" r="1.15" fill="#1b5e30" stroke="#0a2010" stroke-width="0.3"/>
<circle cx="575.00" cy="699.01" r="1.15" fill="#1b5e30" stroke="#0a2010" stroke-width="0.3"/>
<circle cx="575.70" cy="696.97" r="1.15" fill="#1b5e30" stroke="#0a2010" stroke-width="0.3"/>
<circle cx="575.00" cy="692.56" r="1.15" fill="#1b5e30" stroke="#0a2010" stroke-width="0.3"/>
<circle cx="575.00" cy="689.17" r="1.15" fill="#1b5e30" stroke="#0a2010" stroke-width="0.3"/>
<circle cx="575.00" cy="685.09" r="1.15" fill="#1b5e30" stroke="#0a2010" stroke-width="0.3"/>
<circle cx="575.00" cy="680.01" r="1.15" fill="#1b5e30" stroke="#0a2010" stroke-width="0.3"/>
<circle cx="575.00" cy="667.79" r="1.15" fill="#1b5e30" stroke="#0a2010" stroke-width="0.3"/>
<circle cx="575.00" cy="662.02" r="1.15" fill="#1b5e30" stroke="#0a2010" stroke-width="0.3"/>
<circle cx="577.10" cy="661.00" r="1.15" fill="#1b5e30" stroke="#0a2010" stroke-width="0.3"/>
<circle cx="573.60" cy="660.33" r="1.15" fill="#1b5e30" stroke="#0a2010" stroke-width="0.3"/>
<circle cx="575.00" cy="721.23" r="1.15" fill="#1b5e30" stroke="#0a2010" stroke-width="0.3"/>
<circle cx="576.75" cy="721.23" r="1.15" fill="#1b5e30" stroke="#0a2010" stroke-width="0.3"/>
<circle cx="573.25" cy="721.23" r="1.15" fill="#1b5e30" stroke="#0a2010" stroke-width="0.3"/>
<circle cx="578.50" cy="721.23" r="1.15" fill="#1b5e30" stroke="#0a2010" stroke-width="0.3"/>
<circle cx="571.50" cy="721.23" r="1.15" fill="#1b5e30" stroke="#0a2010" stroke-width="0.3"/>
<circle cx="580.25" cy="721.23" r="1.15" fill="#1b5e30" stroke="#0a2010" stroke-width="0.3"/>
<circle cx="569.75" cy="721.23" r="1.15" fill="#1b5e30" stroke="#0a2010" stroke-width="0.3"/>
<circle cx="582.00" cy="721.23" r="1.15" fill="#1b5e30" stroke="#0a2010" stroke-width="0.3"/>
<circle cx="568.00" cy="721.23" r="1.15" fill="#1b5e30" stroke="#0a2010" stroke-width="0.3"/>
<circle cx="583.75" cy="721.23" r="1.15" fill="#1b5e30" stroke="#0a2010" stroke-width="0.3"/>
<circle cx="566.25" cy="721.23" r="1.15" fill="#1b5e30" stroke="#0a2010" stroke-width="0.3"/>
<circle cx="585.50" cy="721.23" r="1.15" fill="#1b5e30" stroke="#0a2010" stroke-width="0.3"/>
<circle cx="564.50" cy="721.23" r="1.15" fill="#1b5e30" stroke="#0a2010" stroke-width="0.3"/>
<circle cx="587.25" cy="721.23" r="1.15" fill="#1b5e30" stroke="#0a2010" stroke-width="0.3"/>
<circle cx="562.75" cy="721.23" r="1.15" fill="#1b5e30" stroke="#0a2010" stroke-width="0.3"/>
<circle cx="589.00" cy="721.23" r="1.15" fill="#1b5e30" stroke="#0a2010" stroke-width="0.3"/>
<circle cx="561.00" cy="721.23" r="1.15" fill="#1b5e30" stroke="#0a2010" stroke-width="0.3"/>
<circle cx="569.71" cy="721.22" r="1.15" fill="#1b5e30" stroke="#0a2010" stroke-width="0.3"/>
<circle cx="564.53" cy="721.22" r="1.15" fill="#1b5e30" stroke="#0a2010" stroke-width="0.3"/>
<circle cx="579.53" cy="721.22" r="1.15" fill="#1b5e30" stroke="#0a2010" stroke-width="0.3"/>
<circle cx="562.17" cy="721.22" r="1.15" fill="#1b5e30" stroke="#0a2010" stroke-width="0.3"/>
<circle cx="576.08" cy="721.22" r="1.15" fill="#1b5e30" stroke="#0a2010" stroke-width="0.3"/>
<circle cx="570.97" cy="721.22" r="1.15" fill="#1b5e30" stroke="#0a2010" stroke-width="0.3"/>
<circle cx="561.74" cy="721.21" r="1.15" fill="#1b5e30" stroke="#0a2010" stroke-width="0.3"/>
<circle cx="575.22" cy="721.21" r="1.15" fill="#1b5e30" stroke="#0a2010" stroke-width="0.3"/>
<circle cx="561.12" cy="721.21" r="1.15" fill="#1b5e30" stroke="#0a2010" stroke-width="0.3"/>
<circle cx="573.01" cy="721.20" r="1.15" fill="#1b5e30" stroke="#0a2010" stroke-width="0.3"/>
<circle cx="562.10" cy="721.20" r="1.15" fill="#1b5e30" stroke="#0a2010" stroke-width="0.3"/>
<circle cx="562.72" cy="721.20" r="1.15" fill="#1b5e30" stroke="#0a2010" stroke-width="0.3"/>
<circle cx="572.74" cy="721.20" r="1.15" fill="#1b5e30" stroke="#0a2010" stroke-width="0.3"/>
<circle cx="584.81" cy="721.20" r="1.15" fill="#1b5e30" stroke="#0a2010" stroke-width="0.3"/>
<circle cx="563.71" cy="721.18" r="1.15" fill="#1b5e30" stroke="#0a2010" stroke-width="0.3"/>
<circle cx="566.70" cy="721.18" r="1.15" fill="#1b5e30" stroke="#0a2010" stroke-width="0.3"/>
<circle cx="578.82" cy="721.16" r="1.15" fill="#1b5e30" stroke="#0a2010" stroke-width="0.3"/>
<circle cx="588.43" cy="721.15" r="1.15" fill="#1b5e30" stroke="#0a2010" stroke-width="0.3"/>
<circle cx="577.31" cy="721.14" r="1.15" fill="#1b5e30" stroke="#0a2010" stroke-width="0.3"/>
<circle cx="571.90" cy="721.14" r="1.15" fill="#1b5e30" stroke="#0a2010" stroke-width="0.3"/>
<circle cx="589.29" cy="721.13" r="1.15" fill="#1b5e30" stroke="#0a2010" stroke-width="0.3"/>
<circle cx="561.40" cy="721.13" r="1.15" fill="#1b5e30" stroke="#0a2010" stroke-width="0.3"/>
<circle cx="585.75" cy="721.12" r="1.15" fill="#1b5e30" stroke="#0a2010" stroke-width="0.3"/>
<circle cx="568.69" cy="721.12" r="1.15" fill="#1b5e30" stroke="#0a2010" stroke-width="0.3"/>
<circle cx="564.33" cy="721.10" r="1.15" fill="#1b5e30" stroke="#0a2010" stroke-width="0.3"/>
<circle cx="563.53" cy="721.10" r="1.15" fill="#1b5e30" stroke="#0a2010" stroke-width="0.3"/>
<circle cx="569.25" cy="721.10" r="1.15" fill="#1b5e30" stroke="#0a2010" stroke-width="0.3"/>
<circle cx="584.48" cy="721.09" r="1.15" fill="#1b5e30" stroke="#0a2010" stroke-width="0.3"/>
<circle cx="565.42" cy="721.08" r="1.15" fill="#1b5e30" stroke="#0a2010" stroke-width="0.3"/>
<circle cx="577.45" cy="721.07" r="1.15" fill="#1b5e30" stroke="#0a2010" stroke-width="0.3"/>
<circle cx="579.17" cy="721.06" r="1.15" fill="#1b5e30" stroke="#0a2010" stroke-width="0.3"/>
<circle cx="571.17" cy="721.00" r="1.15" fill="#1b5e30" stroke="#0a2010" stroke-width="0.3"/>
<circle cx="576.43" cy="720.98" r="1.15" fill="#1b5e30" stroke="#0a2010" stroke-width="0.3"/>
<circle cx="561.88" cy="720.91" r="1.15" fill="#1b5e30" stroke="#0a2010" stroke-width="0.3"/>
<circle cx="561.79" cy="720.89" r="1.15" fill="#1b5e30" stroke="#0a2010" stroke-width="0.3"/>
<circle cx="566.18" cy="720.88" r="1.15" fill="#1b5e30" stroke="#0a2010" stroke-width="0.3"/>
<circle cx="580.41" cy="720.85" r="1.15" fill="#1b5e30" stroke="#0a2010" stroke-width="0.3"/>
<circle cx="572.83" cy="720.85" r="1.15" fill="#1b5e30" stroke="#0a2010" stroke-width="0.3"/>
<circle cx="569.42" cy="720.74" r="1.15" fill="#1b5e30" stroke="#0a2010" stroke-width="0.3"/>
<circle cx="577.57" cy="720.72" r="1.15" fill="#1b5e30" stroke="#0a2010" stroke-width="0.3"/>
<circle cx="573.60" cy="720.70" r="1.15" fill="#1b5e30" stroke="#0a2010" stroke-width="0.3"/>
<circle cx="568.99" cy="720.68" r="1.15" fill="#1b5e30" stroke="#0a2010" stroke-width="0.3"/>
<circle cx="583.83" cy="720.68" r="1.15" fill="#1b5e30" stroke="#0a2010" stroke-width="0.3"/>
<circle cx="580.97" cy="720.59" r="1.15" fill="#1b5e30" stroke="#0a2010" stroke-width="0.3"/>
<circle cx="567.32" cy="720.57" r="1.15" fill="#1b5e30" stroke="#0a2010" stroke-width="0.3"/>
<circle cx="577.23" cy="720.52" r="1.15" fill="#1b5e30" stroke="#0a2010" stroke-width="0.3"/>
<circle cx="575.76" cy="720.49" r="1.15" fill="#1b5e30" stroke="#0a2010" stroke-width="0.3"/>
<circle cx="586.25" cy="720.46" r="1.15" fill="#1b5e30" stroke="#0a2010" stroke-width="0.3"/>
<circle cx="581.88" cy="720.43" r="1.15" fill="#1b5e30" stroke="#0a2010" stroke-width="0.3"/>
<circle cx="568.64" cy="720.41" r="1.15" fill="#1b5e30" stroke="#0a2010" stroke-width="0.3"/>
<circle cx="589.41" cy="720.30" r="1.15" fill="#1b5e30" stroke="#0a2010" stroke-width="0.3"/>
<circle cx="563.54" cy="720.17" r="1.15" fill="#1b5e30" stroke="#0a2010" stroke-width="0.3"/>
<circle cx="572.54" cy="720.17" r="1.15" fill="#1b5e30" stroke="#0a2010" stroke-width="0.3"/>
<circle cx="582.71" cy="720.12" r="1.15" fill="#1b5e30" stroke="#0a2010" stroke-width="0.3"/>
<circle cx="564.56" cy="720.11" r="1.15" fill="#1b5e30" stroke="#0a2010" stroke-width="0.3"/>
<circle cx="574.67" cy="720.04" r="1.15" fill="#1b5e30" stroke="#0a2010" stroke-width="0.3"/>
<circle cx="561.18" cy="719.86" r="1.15" fill="#1b5e30" stroke="#0a2010" stroke-width="0.3"/>
<circle cx="580.05" cy="719.85" r="1.15" fill="#1b5e30" stroke="#0a2010" stroke-width="0.3"/>
<circle cx="582.94" cy="719.81" r="1.15" fill="#1b5e30" stroke="#0a2010" stroke-width="0.3"/>
<circle cx="577.19" cy="719.80" r="1.15" fill="#1b5e30" stroke="#0a2010" stroke-width="0.3"/>
<circle cx="586.26" cy="719.77" r="1.15" fill="#1b5e30" stroke="#0a2010" stroke-width="0.3"/>
<circle cx="569.41" cy="719.71" r="1.15" fill="#1b5e30" stroke="#0a2010" stroke-width="0.3"/>
<circle cx="580.86" cy="719.65" r="1.15" fill="#1b5e30" stroke="#0a2010" stroke-width="0.3"/>
<circle cx="577.83" cy="719.57" r="1.15" fill="#1b5e30" stroke="#0a2010" stroke-width="0.3"/>
<circle cx="577.40" cy="719.52" r="1.15" fill="#1b5e30" stroke="#0a2010" stroke-width="0.3"/>
<circle cx="573.69" cy="719.51" r="1.15" fill="#1b5e30" stroke="#0a2010" stroke-width="0.3"/>
<circle cx="585.20" cy="719.51" r="1.15" fill="#1b5e30" stroke="#0a2010" stroke-width="0.3"/>
<circle cx="587.95" cy="719.37" r="1.15" fill="#1b5e30" stroke="#0a2010" stroke-width="0.3"/>
<circle cx="588.34" cy="719.32" r="1.15" fill="#1b5e30" stroke="#0a2010" stroke-width="0.3"/>
<circle cx="574.22" cy="719.18" r="1.15" fill="#1b5e30" stroke="#0a2010" stroke-width="0.3"/>
<circle cx="571.15" cy="719.07" r="1.15" fill="#1b5e30" stroke="#0a2010" stroke-width="0.3"/>
<circle cx="566.60" cy="718.99" r="1.15" fill="#1b5e30" stroke="#0a2010" stroke-width="0.3"/>
<circle cx="579.92" cy="718.98" r="1.15" fill="#1b5e30" stroke="#0a2010" stroke-width="0.3"/>
<circle cx="561.82" cy="718.81" r="1.15" fill="#1b5e30" stroke="#0a2010" stroke-width="0.3"/>
<circle cx="581.04" cy="718.75" r="1.15" fill="#1b5e30" stroke="#0a2010" stroke-width="0.3"/>
<circle cx="579.41" cy="718.62" r="1.15" fill="#1b5e30" stroke="#0a2010" stroke-width="0.3"/>
<circle cx="589.79" cy="718.62" r="1.15" fill="#1b5e30" stroke="#0a2010" stroke-width="0.3"/>
<circle cx="584.66" cy="718.60" r="1.15" fill="#1b5e30" stroke="#0a2010" stroke-width="0.3"/>
<circle cx="568.54" cy="718.57" r="1.15" fill="#1b5e30" stroke="#0a2010" stroke-width="0.3"/>
<circle cx="571.57" cy="718.55" r="1.15" fill="#1b5e30" stroke="#0a2010" stroke-width="0.3"/>
<circle cx="580.06" cy="718.50" r="1.15" fill="#1b5e30" stroke="#0a2010" stroke-width="0.3"/>
<circle cx="576.05" cy="718.40" r="1.15" fill="#1b5e30" stroke="#0a2010" stroke-width="0.3"/>
<circle cx="564.85" cy="718.39" r="1.15" fill="#1b5e30" stroke="#0a2010" stroke-width="0.3"/>
<circle cx="560.68" cy="718.39" r="1.15" fill="#1b5e30" stroke="#0a2010" stroke-width="0.3"/>
<circle cx="573.85" cy="718.38" r="1.15" fill="#1b5e30" stroke="#0a2010" stroke-width="0.3"/>
<circle cx="565.04" cy="718.36" r="1.15" fill="#1b5e30" stroke="#0a2010" stroke-width="0.3"/>
<circle cx="563.51" cy="718.27" r="1.15" fill="#1b5e30" stroke="#0a2010" stroke-width="0.3"/>
<circle cx="561.77" cy="718.21" r="1.15" fill="#1b5e30" stroke="#0a2010" stroke-width="0.3"/>
<circle cx="583.05" cy="718.17" r="1.15" fill="#1b5e30" stroke="#0a2010" stroke-width="0.3"/>
<circle cx="563.88" cy="718.08" r="1.15" fill="#1b5e30" stroke="#0a2010" stroke-width="0.3"/>
<circle cx="586.55" cy="718.01" r="1.15" fill="#1b5e30" stroke="#0a2010" stroke-width="0.3"/>
<circle cx="567.43" cy="717.97" r="1.15" fill="#1b5e30" stroke="#0a2010" stroke-width="0.3"/>
<circle cx="571.73" cy="717.87" r="1.15" fill="#1b5e30" stroke="#0a2010" stroke-width="0.3"/>
<circle cx="575.00" cy="719.50" r="2.40" fill="#1b5e30" stroke="#0a2010" stroke-width="0.4"/>
<circle cx="610.70" cy="720.68" r="1.05" fill="#e4e4e4" stroke="#555" stroke-width="0.35"/>
<circle cx="613.50" cy="720.58" r="1.05" fill="#e4e4e4" stroke="#555" stroke-width="0.35"/>
<circle cx="607.90" cy="720.54" r="1.05" fill="#e4e4e4" stroke="#555" stroke-width="0.35"/>
<circle cx="616.30" cy="720.52" r="1.05" fill="#e4e4e4" stroke="#555" stroke-width="0.35"/>
<circle cx="605.10" cy="720.33" r="1.05" fill="#e4e4e4" stroke="#555" stroke-width="0.35"/>
<circle cx="619.10" cy="720.32" r="1.05" fill="#e4e4e4" stroke="#555" stroke-width="0.35"/>
<circle cx="602.30" cy="720.13" r="1.05" fill="#e4e4e4" stroke="#555" stroke-width="0.35"/>
<circle cx="621.90" cy="720.11" r="1.05" fill="#e4e4e4" stroke="#555" stroke-width="0.35"/>
<circle cx="599.50" cy="720.11" r="1.05" fill="#e4e4e4" stroke="#555" stroke-width="0.35"/>
<circle cx="618.33" cy="720.07" r="1.05" fill="#e4e4e4" stroke="#555" stroke-width="0.35"/>
<circle cx="619.07" cy="720.06" r="1.05" fill="#e4e4e4" stroke="#555" stroke-width="0.35"/>
<circle cx="610.31" cy="720.05" r="1.05" fill="#e4e4e4" stroke="#555" stroke-width="0.35"/>
<circle cx="604.50" cy="719.87" r="1.05" fill="#e4e4e4" stroke="#555" stroke-width="0.35"/>
<circle cx="597.71" cy="719.73" r="1.05" fill="#e4e4e4" stroke="#555" stroke-width="0.35"/>
<circle cx="614.93" cy="719.73" r="1.05" fill="#e4e4e4" stroke="#555" stroke-width="0.35"/>
<circle cx="609.93" cy="719.65" r="1.05" fill="#e4e4e4" stroke="#555" stroke-width="0.35"/>
<circle cx="617.45" cy="719.58" r="1.05" fill="#e4e4e4" stroke="#555" stroke-width="0.35"/>
<circle cx="607.40" cy="719.57" r="1.05" fill="#e4e4e4" stroke="#555" stroke-width="0.35"/>
<circle cx="617.72" cy="719.56" r="1.05" fill="#e4e4e4" stroke="#555" stroke-width="0.35"/>
<circle cx="604.79" cy="719.43" r="1.05" fill="#e4e4e4" stroke="#555" stroke-width="0.35"/>
<circle cx="618.55" cy="719.40" r="1.05" fill="#e4e4e4" stroke="#555" stroke-width="0.35"/>
<circle cx="616.68" cy="719.37" r="1.05" fill="#e4e4e4" stroke="#555" stroke-width="0.35"/>
<circle cx="610.70" cy="716.31" r="1.05" fill="#e4e4e4" stroke="#555" stroke-width="0.35"/>
<circle cx="612.80" cy="714.61" r="1.05" fill="#e4e4e4" stroke="#555" stroke-width="0.35"/>
<circle cx="610.70" cy="712.92" r="1.05" fill="#e4e4e4" stroke="#555" stroke-width="0.35"/>
<circle cx="612.80" cy="711.22" r="1.05" fill="#e4e4e4" stroke="#555" stroke-width="0.35"/>
<circle cx="610.70" cy="699.35" r="1.05" fill="#e4e4e4" stroke="#555" stroke-width="0.35"/>
<circle cx="612.80" cy="697.65" r="1.05" fill="#e4e4e4" stroke="#555" stroke-width="0.35"/>
<circle cx="610.70" cy="693.24" r="1.05" fill="#e4e4e4" stroke="#555" stroke-width="0.35"/>
<circle cx="610.70" cy="681.36" r="1.05" fill="#e4e4e4" stroke="#555" stroke-width="0.35"/>
<circle cx="610.70" cy="719.00" r="3.00" fill="#c8c8c8" stroke="#777" stroke-width="0.4"/>
</svg></body></html>
